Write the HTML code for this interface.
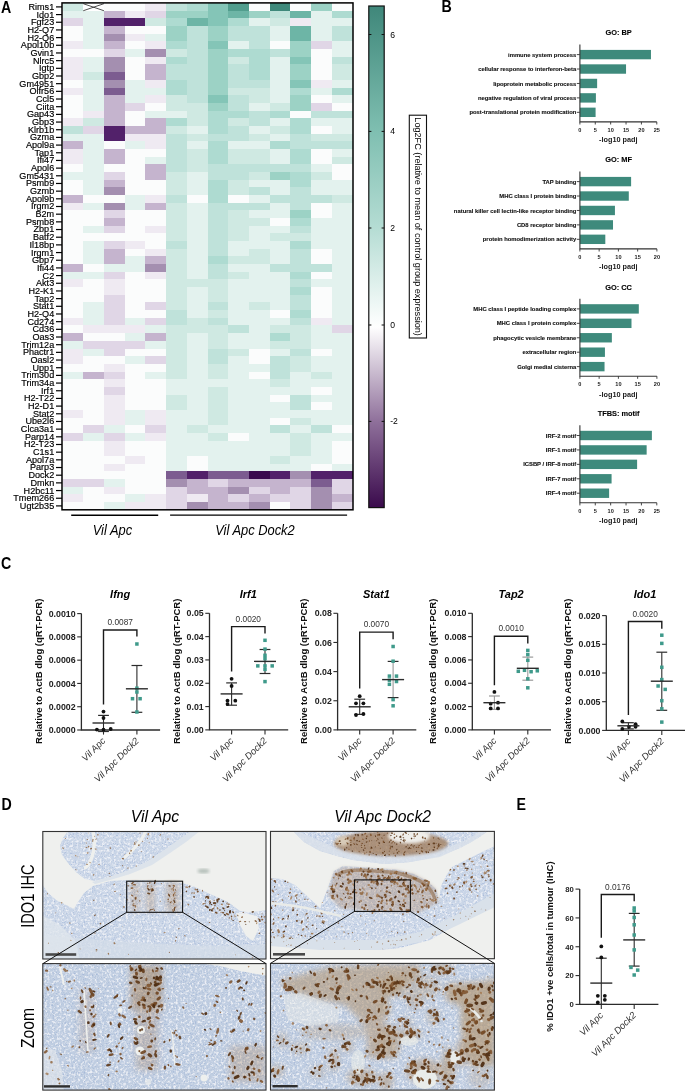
<!DOCTYPE html>
<html><head><meta charset="utf-8"><style>
html,body{margin:0;padding:0;background:#fff;}
svg{display:block;will-change:transform;}
text{font-family:"Liberation Sans", sans-serif;}
</style></head><body>
<svg width="685" height="1092" viewBox="0 0 685 1092" font-family='"Liberation Sans", sans-serif'>
<rect width="685" height="1092" fill="#fff"/>
<g shape-rendering="crispEdges">
<rect x="62.5" y="3.06" width="21.12" height="8.08" fill="#cfe9e2"/>
<rect x="83.22" y="3.06" width="21.12" height="8.08" fill="#ffffff"/>
<rect x="103.94" y="3.06" width="21.12" height="8.08" fill="#fbfcfc"/>
<rect x="124.66" y="3.06" width="21.12" height="8.08" fill="#fbfcfc"/>
<rect x="145.39" y="3.06" width="21.12" height="8.08" fill="#efeaf2"/>
<rect x="166.11" y="3.06" width="21.12" height="8.08" fill="#bfe2da"/>
<rect x="186.83" y="3.06" width="21.12" height="8.08" fill="#aedbd1"/>
<rect x="207.55" y="3.06" width="21.12" height="8.08" fill="#84c5b7"/>
<rect x="228.27" y="3.06" width="21.12" height="8.08" fill="#519d8d"/>
<rect x="248.99" y="3.06" width="21.12" height="8.08" fill="#fbfcfc"/>
<rect x="269.71" y="3.06" width="21.12" height="8.08" fill="#3f897b"/>
<rect x="290.44" y="3.06" width="21.12" height="8.08" fill="#fbfcfc"/>
<rect x="311.16" y="3.06" width="21.12" height="8.08" fill="#9cd2c5"/>
<rect x="331.88" y="3.06" width="21.12" height="8.08" fill="#fbfcfc"/>
<rect x="62.5" y="10.74" width="21.12" height="8.08" fill="#e3f2ee"/>
<rect x="83.22" y="10.74" width="21.12" height="8.08" fill="#e3f2ee"/>
<rect x="103.94" y="10.74" width="21.12" height="8.08" fill="#c5b4ce"/>
<rect x="124.66" y="10.74" width="21.12" height="8.08" fill="#efeaf2"/>
<rect x="145.39" y="10.74" width="21.12" height="8.08" fill="#e0d6e6"/>
<rect x="166.11" y="10.74" width="21.12" height="8.08" fill="#9cd2c5"/>
<rect x="186.83" y="10.74" width="21.12" height="8.08" fill="#9cd2c5"/>
<rect x="207.55" y="10.74" width="21.12" height="8.08" fill="#84c5b7"/>
<rect x="228.27" y="10.74" width="21.12" height="8.08" fill="#6db5a6"/>
<rect x="248.99" y="10.74" width="21.12" height="8.08" fill="#9cd2c5"/>
<rect x="269.71" y="10.74" width="21.12" height="8.08" fill="#bfe2da"/>
<rect x="290.44" y="10.74" width="21.12" height="8.08" fill="#6db5a6"/>
<rect x="311.16" y="10.74" width="21.12" height="8.08" fill="#e3f2ee"/>
<rect x="331.88" y="10.74" width="21.12" height="8.08" fill="#aedbd1"/>
<rect x="62.5" y="18.41" width="21.12" height="8.08" fill="#e0d6e6"/>
<rect x="83.22" y="18.41" width="21.12" height="8.08" fill="#e3f2ee"/>
<rect x="103.94" y="18.41" width="21.12" height="8.08" fill="#52216a"/>
<rect x="124.66" y="18.41" width="21.12" height="8.08" fill="#52216a"/>
<rect x="145.39" y="18.41" width="21.12" height="8.08" fill="#cfe9e2"/>
<rect x="166.11" y="18.41" width="21.12" height="8.08" fill="#aedbd1"/>
<rect x="186.83" y="18.41" width="21.12" height="8.08" fill="#6db5a6"/>
<rect x="207.55" y="18.41" width="21.12" height="8.08" fill="#84c5b7"/>
<rect x="228.27" y="18.41" width="21.12" height="8.08" fill="#aedbd1"/>
<rect x="248.99" y="18.41" width="21.12" height="8.08" fill="#e3f2ee"/>
<rect x="269.71" y="18.41" width="21.12" height="8.08" fill="#cfe9e2"/>
<rect x="290.44" y="18.41" width="21.12" height="8.08" fill="#efeaf2"/>
<rect x="311.16" y="18.41" width="21.12" height="8.08" fill="#e3f2ee"/>
<rect x="331.88" y="18.41" width="21.12" height="8.08" fill="#e3f2ee"/>
<rect x="62.5" y="26.09" width="21.12" height="8.08" fill="#fbfcfc"/>
<rect x="83.22" y="26.09" width="21.12" height="8.08" fill="#e3f2ee"/>
<rect x="103.94" y="26.09" width="21.12" height="8.08" fill="#c5b4ce"/>
<rect x="124.66" y="26.09" width="21.12" height="8.08" fill="#fbfcfc"/>
<rect x="145.39" y="26.09" width="21.12" height="8.08" fill="#fbfcfc"/>
<rect x="166.11" y="26.09" width="21.12" height="8.08" fill="#9cd2c5"/>
<rect x="186.83" y="26.09" width="21.12" height="8.08" fill="#bfe2da"/>
<rect x="207.55" y="26.09" width="21.12" height="8.08" fill="#9cd2c5"/>
<rect x="228.27" y="26.09" width="21.12" height="8.08" fill="#bfe2da"/>
<rect x="248.99" y="26.09" width="21.12" height="8.08" fill="#bfe2da"/>
<rect x="269.71" y="26.09" width="21.12" height="8.08" fill="#e3f2ee"/>
<rect x="290.44" y="26.09" width="21.12" height="8.08" fill="#6db5a6"/>
<rect x="311.16" y="26.09" width="21.12" height="8.08" fill="#e3f2ee"/>
<rect x="331.88" y="26.09" width="21.12" height="8.08" fill="#bfe2da"/>
<rect x="62.5" y="33.77" width="21.12" height="8.08" fill="#fbfcfc"/>
<rect x="83.22" y="33.77" width="21.12" height="8.08" fill="#e3f2ee"/>
<rect x="103.94" y="33.77" width="21.12" height="8.08" fill="#a48fb0"/>
<rect x="124.66" y="33.77" width="21.12" height="8.08" fill="#efeaf2"/>
<rect x="145.39" y="33.77" width="21.12" height="8.08" fill="#e3f2ee"/>
<rect x="166.11" y="33.77" width="21.12" height="8.08" fill="#9cd2c5"/>
<rect x="186.83" y="33.77" width="21.12" height="8.08" fill="#bfe2da"/>
<rect x="207.55" y="33.77" width="21.12" height="8.08" fill="#9cd2c5"/>
<rect x="228.27" y="33.77" width="21.12" height="8.08" fill="#bfe2da"/>
<rect x="248.99" y="33.77" width="21.12" height="8.08" fill="#bfe2da"/>
<rect x="269.71" y="33.77" width="21.12" height="8.08" fill="#e3f2ee"/>
<rect x="290.44" y="33.77" width="21.12" height="8.08" fill="#6db5a6"/>
<rect x="311.16" y="33.77" width="21.12" height="8.08" fill="#e3f2ee"/>
<rect x="331.88" y="33.77" width="21.12" height="8.08" fill="#bfe2da"/>
<rect x="62.5" y="41.45" width="21.12" height="8.08" fill="#efeaf2"/>
<rect x="83.22" y="41.45" width="21.12" height="8.08" fill="#e3f2ee"/>
<rect x="103.94" y="41.45" width="21.12" height="8.08" fill="#c5b4ce"/>
<rect x="124.66" y="41.45" width="21.12" height="8.08" fill="#fbfcfc"/>
<rect x="145.39" y="41.45" width="21.12" height="8.08" fill="#efeaf2"/>
<rect x="166.11" y="41.45" width="21.12" height="8.08" fill="#aedbd1"/>
<rect x="186.83" y="41.45" width="21.12" height="8.08" fill="#bfe2da"/>
<rect x="207.55" y="41.45" width="21.12" height="8.08" fill="#84c5b7"/>
<rect x="228.27" y="41.45" width="21.12" height="8.08" fill="#e3f2ee"/>
<rect x="248.99" y="41.45" width="21.12" height="8.08" fill="#bfe2da"/>
<rect x="269.71" y="41.45" width="21.12" height="8.08" fill="#fbfcfc"/>
<rect x="290.44" y="41.45" width="21.12" height="8.08" fill="#9cd2c5"/>
<rect x="311.16" y="41.45" width="21.12" height="8.08" fill="#e0d6e6"/>
<rect x="331.88" y="41.45" width="21.12" height="8.08" fill="#e3f2ee"/>
<rect x="62.5" y="49.12" width="21.12" height="8.08" fill="#fbfcfc"/>
<rect x="83.22" y="49.12" width="21.12" height="8.08" fill="#fbfcfc"/>
<rect x="103.94" y="49.12" width="21.12" height="8.08" fill="#e0d6e6"/>
<rect x="124.66" y="49.12" width="21.12" height="8.08" fill="#e3f2ee"/>
<rect x="145.39" y="49.12" width="21.12" height="8.08" fill="#a48fb0"/>
<rect x="166.11" y="49.12" width="21.12" height="8.08" fill="#cfe9e2"/>
<rect x="186.83" y="49.12" width="21.12" height="8.08" fill="#bfe2da"/>
<rect x="207.55" y="49.12" width="21.12" height="8.08" fill="#9cd2c5"/>
<rect x="228.27" y="49.12" width="21.12" height="8.08" fill="#aedbd1"/>
<rect x="248.99" y="49.12" width="21.12" height="8.08" fill="#aedbd1"/>
<rect x="269.71" y="49.12" width="21.12" height="8.08" fill="#bfe2da"/>
<rect x="290.44" y="49.12" width="21.12" height="8.08" fill="#9cd2c5"/>
<rect x="311.16" y="49.12" width="21.12" height="8.08" fill="#fbfcfc"/>
<rect x="331.88" y="49.12" width="21.12" height="8.08" fill="#e3f2ee"/>
<rect x="62.5" y="56.8" width="21.12" height="8.08" fill="#efeaf2"/>
<rect x="83.22" y="56.8" width="21.12" height="8.08" fill="#e3f2ee"/>
<rect x="103.94" y="56.8" width="21.12" height="8.08" fill="#a48fb0"/>
<rect x="124.66" y="56.8" width="21.12" height="8.08" fill="#fbfcfc"/>
<rect x="145.39" y="56.8" width="21.12" height="8.08" fill="#efeaf2"/>
<rect x="166.11" y="56.8" width="21.12" height="8.08" fill="#aedbd1"/>
<rect x="186.83" y="56.8" width="21.12" height="8.08" fill="#bfe2da"/>
<rect x="207.55" y="56.8" width="21.12" height="8.08" fill="#9cd2c5"/>
<rect x="228.27" y="56.8" width="21.12" height="8.08" fill="#cfe9e2"/>
<rect x="248.99" y="56.8" width="21.12" height="8.08" fill="#aedbd1"/>
<rect x="269.71" y="56.8" width="21.12" height="8.08" fill="#e3f2ee"/>
<rect x="290.44" y="56.8" width="21.12" height="8.08" fill="#84c5b7"/>
<rect x="311.16" y="56.8" width="21.12" height="8.08" fill="#fbfcfc"/>
<rect x="331.88" y="56.8" width="21.12" height="8.08" fill="#bfe2da"/>
<rect x="62.5" y="64.48" width="21.12" height="8.08" fill="#efeaf2"/>
<rect x="83.22" y="64.48" width="21.12" height="8.08" fill="#e3f2ee"/>
<rect x="103.94" y="64.48" width="21.12" height="8.08" fill="#a48fb0"/>
<rect x="124.66" y="64.48" width="21.12" height="8.08" fill="#fbfcfc"/>
<rect x="145.39" y="64.48" width="21.12" height="8.08" fill="#c5b4ce"/>
<rect x="166.11" y="64.48" width="21.12" height="8.08" fill="#bfe2da"/>
<rect x="186.83" y="64.48" width="21.12" height="8.08" fill="#bfe2da"/>
<rect x="207.55" y="64.48" width="21.12" height="8.08" fill="#9cd2c5"/>
<rect x="228.27" y="64.48" width="21.12" height="8.08" fill="#bfe2da"/>
<rect x="248.99" y="64.48" width="21.12" height="8.08" fill="#aedbd1"/>
<rect x="269.71" y="64.48" width="21.12" height="8.08" fill="#e3f2ee"/>
<rect x="290.44" y="64.48" width="21.12" height="8.08" fill="#9cd2c5"/>
<rect x="311.16" y="64.48" width="21.12" height="8.08" fill="#fbfcfc"/>
<rect x="331.88" y="64.48" width="21.12" height="8.08" fill="#cfe9e2"/>
<rect x="62.5" y="72.15" width="21.12" height="8.08" fill="#efeaf2"/>
<rect x="83.22" y="72.15" width="21.12" height="8.08" fill="#cfe9e2"/>
<rect x="103.94" y="72.15" width="21.12" height="8.08" fill="#7c5c90"/>
<rect x="124.66" y="72.15" width="21.12" height="8.08" fill="#fbfcfc"/>
<rect x="145.39" y="72.15" width="21.12" height="8.08" fill="#c5b4ce"/>
<rect x="166.11" y="72.15" width="21.12" height="8.08" fill="#bfe2da"/>
<rect x="186.83" y="72.15" width="21.12" height="8.08" fill="#bfe2da"/>
<rect x="207.55" y="72.15" width="21.12" height="8.08" fill="#9cd2c5"/>
<rect x="228.27" y="72.15" width="21.12" height="8.08" fill="#bfe2da"/>
<rect x="248.99" y="72.15" width="21.12" height="8.08" fill="#aedbd1"/>
<rect x="269.71" y="72.15" width="21.12" height="8.08" fill="#e3f2ee"/>
<rect x="290.44" y="72.15" width="21.12" height="8.08" fill="#9cd2c5"/>
<rect x="311.16" y="72.15" width="21.12" height="8.08" fill="#fbfcfc"/>
<rect x="331.88" y="72.15" width="21.12" height="8.08" fill="#cfe9e2"/>
<rect x="62.5" y="79.83" width="21.12" height="8.08" fill="#fbfcfc"/>
<rect x="83.22" y="79.83" width="21.12" height="8.08" fill="#e3f2ee"/>
<rect x="103.94" y="79.83" width="21.12" height="8.08" fill="#a48fb0"/>
<rect x="124.66" y="79.83" width="21.12" height="8.08" fill="#e3f2ee"/>
<rect x="145.39" y="79.83" width="21.12" height="8.08" fill="#efeaf2"/>
<rect x="166.11" y="79.83" width="21.12" height="8.08" fill="#aedbd1"/>
<rect x="186.83" y="79.83" width="21.12" height="8.08" fill="#bfe2da"/>
<rect x="207.55" y="79.83" width="21.12" height="8.08" fill="#9cd2c5"/>
<rect x="228.27" y="79.83" width="21.12" height="8.08" fill="#bfe2da"/>
<rect x="248.99" y="79.83" width="21.12" height="8.08" fill="#bfe2da"/>
<rect x="269.71" y="79.83" width="21.12" height="8.08" fill="#e3f2ee"/>
<rect x="290.44" y="79.83" width="21.12" height="8.08" fill="#84c5b7"/>
<rect x="311.16" y="79.83" width="21.12" height="8.08" fill="#efeaf2"/>
<rect x="331.88" y="79.83" width="21.12" height="8.08" fill="#e3f2ee"/>
<rect x="62.5" y="87.51" width="21.12" height="8.08" fill="#efeaf2"/>
<rect x="83.22" y="87.51" width="21.12" height="8.08" fill="#e3f2ee"/>
<rect x="103.94" y="87.51" width="21.12" height="8.08" fill="#7c5c90"/>
<rect x="124.66" y="87.51" width="21.12" height="8.08" fill="#e3f2ee"/>
<rect x="145.39" y="87.51" width="21.12" height="8.08" fill="#e3f2ee"/>
<rect x="166.11" y="87.51" width="21.12" height="8.08" fill="#aedbd1"/>
<rect x="186.83" y="87.51" width="21.12" height="8.08" fill="#bfe2da"/>
<rect x="207.55" y="87.51" width="21.12" height="8.08" fill="#9cd2c5"/>
<rect x="228.27" y="87.51" width="21.12" height="8.08" fill="#cfe9e2"/>
<rect x="248.99" y="87.51" width="21.12" height="8.08" fill="#cfe9e2"/>
<rect x="269.71" y="87.51" width="21.12" height="8.08" fill="#e3f2ee"/>
<rect x="290.44" y="87.51" width="21.12" height="8.08" fill="#aedbd1"/>
<rect x="311.16" y="87.51" width="21.12" height="8.08" fill="#e3f2ee"/>
<rect x="331.88" y="87.51" width="21.12" height="8.08" fill="#aedbd1"/>
<rect x="62.5" y="95.18" width="21.12" height="8.08" fill="#fbfcfc"/>
<rect x="83.22" y="95.18" width="21.12" height="8.08" fill="#e3f2ee"/>
<rect x="103.94" y="95.18" width="21.12" height="8.08" fill="#c5b4ce"/>
<rect x="124.66" y="95.18" width="21.12" height="8.08" fill="#e3f2ee"/>
<rect x="145.39" y="95.18" width="21.12" height="8.08" fill="#efeaf2"/>
<rect x="166.11" y="95.18" width="21.12" height="8.08" fill="#cfe9e2"/>
<rect x="186.83" y="95.18" width="21.12" height="8.08" fill="#bfe2da"/>
<rect x="207.55" y="95.18" width="21.12" height="8.08" fill="#84c5b7"/>
<rect x="228.27" y="95.18" width="21.12" height="8.08" fill="#bfe2da"/>
<rect x="248.99" y="95.18" width="21.12" height="8.08" fill="#cfe9e2"/>
<rect x="269.71" y="95.18" width="21.12" height="8.08" fill="#e3f2ee"/>
<rect x="290.44" y="95.18" width="21.12" height="8.08" fill="#9cd2c5"/>
<rect x="311.16" y="95.18" width="21.12" height="8.08" fill="#fbfcfc"/>
<rect x="331.88" y="95.18" width="21.12" height="8.08" fill="#e3f2ee"/>
<rect x="62.5" y="102.86" width="21.12" height="8.08" fill="#fbfcfc"/>
<rect x="83.22" y="102.86" width="21.12" height="8.08" fill="#e3f2ee"/>
<rect x="103.94" y="102.86" width="21.12" height="8.08" fill="#c5b4ce"/>
<rect x="124.66" y="102.86" width="21.12" height="8.08" fill="#e0d6e6"/>
<rect x="145.39" y="102.86" width="21.12" height="8.08" fill="#fbfcfc"/>
<rect x="166.11" y="102.86" width="21.12" height="8.08" fill="#cfe9e2"/>
<rect x="186.83" y="102.86" width="21.12" height="8.08" fill="#cfe9e2"/>
<rect x="207.55" y="102.86" width="21.12" height="8.08" fill="#9cd2c5"/>
<rect x="228.27" y="102.86" width="21.12" height="8.08" fill="#bfe2da"/>
<rect x="248.99" y="102.86" width="21.12" height="8.08" fill="#e3f2ee"/>
<rect x="269.71" y="102.86" width="21.12" height="8.08" fill="#cfe9e2"/>
<rect x="290.44" y="102.86" width="21.12" height="8.08" fill="#9cd2c5"/>
<rect x="311.16" y="102.86" width="21.12" height="8.08" fill="#e0d6e6"/>
<rect x="331.88" y="102.86" width="21.12" height="8.08" fill="#fbfcfc"/>
<rect x="62.5" y="110.54" width="21.12" height="8.08" fill="#fbfcfc"/>
<rect x="83.22" y="110.54" width="21.12" height="8.08" fill="#efeaf2"/>
<rect x="103.94" y="110.54" width="21.12" height="8.08" fill="#c5b4ce"/>
<rect x="124.66" y="110.54" width="21.12" height="8.08" fill="#fbfcfc"/>
<rect x="145.39" y="110.54" width="21.12" height="8.08" fill="#e3f2ee"/>
<rect x="166.11" y="110.54" width="21.12" height="8.08" fill="#e3f2ee"/>
<rect x="186.83" y="110.54" width="21.12" height="8.08" fill="#cfe9e2"/>
<rect x="207.55" y="110.54" width="21.12" height="8.08" fill="#aedbd1"/>
<rect x="228.27" y="110.54" width="21.12" height="8.08" fill="#aedbd1"/>
<rect x="248.99" y="110.54" width="21.12" height="8.08" fill="#bfe2da"/>
<rect x="269.71" y="110.54" width="21.12" height="8.08" fill="#aedbd1"/>
<rect x="290.44" y="110.54" width="21.12" height="8.08" fill="#fbfcfc"/>
<rect x="311.16" y="110.54" width="21.12" height="8.08" fill="#bfe2da"/>
<rect x="331.88" y="110.54" width="21.12" height="8.08" fill="#bfe2da"/>
<rect x="62.5" y="118.22" width="21.12" height="8.08" fill="#efeaf2"/>
<rect x="83.22" y="118.22" width="21.12" height="8.08" fill="#cfe9e2"/>
<rect x="103.94" y="118.22" width="21.12" height="8.08" fill="#c5b4ce"/>
<rect x="124.66" y="118.22" width="21.12" height="8.08" fill="#fbfcfc"/>
<rect x="145.39" y="118.22" width="21.12" height="8.08" fill="#c5b4ce"/>
<rect x="166.11" y="118.22" width="21.12" height="8.08" fill="#aedbd1"/>
<rect x="186.83" y="118.22" width="21.12" height="8.08" fill="#cfe9e2"/>
<rect x="207.55" y="118.22" width="21.12" height="8.08" fill="#aedbd1"/>
<rect x="228.27" y="118.22" width="21.12" height="8.08" fill="#cfe9e2"/>
<rect x="248.99" y="118.22" width="21.12" height="8.08" fill="#bfe2da"/>
<rect x="269.71" y="118.22" width="21.12" height="8.08" fill="#e3f2ee"/>
<rect x="290.44" y="118.22" width="21.12" height="8.08" fill="#aedbd1"/>
<rect x="311.16" y="118.22" width="21.12" height="8.08" fill="#e3f2ee"/>
<rect x="331.88" y="118.22" width="21.12" height="8.08" fill="#e3f2ee"/>
<rect x="62.5" y="125.89" width="21.12" height="8.08" fill="#bfe2da"/>
<rect x="83.22" y="125.89" width="21.12" height="8.08" fill="#e0d6e6"/>
<rect x="103.94" y="125.89" width="21.12" height="8.08" fill="#52216a"/>
<rect x="124.66" y="125.89" width="21.12" height="8.08" fill="#c5b4ce"/>
<rect x="145.39" y="125.89" width="21.12" height="8.08" fill="#c5b4ce"/>
<rect x="166.11" y="125.89" width="21.12" height="8.08" fill="#cfe9e2"/>
<rect x="186.83" y="125.89" width="21.12" height="8.08" fill="#e3f2ee"/>
<rect x="207.55" y="125.89" width="21.12" height="8.08" fill="#aedbd1"/>
<rect x="228.27" y="125.89" width="21.12" height="8.08" fill="#bfe2da"/>
<rect x="248.99" y="125.89" width="21.12" height="8.08" fill="#e3f2ee"/>
<rect x="269.71" y="125.89" width="21.12" height="8.08" fill="#cfe9e2"/>
<rect x="290.44" y="125.89" width="21.12" height="8.08" fill="#aedbd1"/>
<rect x="311.16" y="125.89" width="21.12" height="8.08" fill="#fbfcfc"/>
<rect x="331.88" y="125.89" width="21.12" height="8.08" fill="#e3f2ee"/>
<rect x="62.5" y="133.57" width="21.12" height="8.08" fill="#e3f2ee"/>
<rect x="83.22" y="133.57" width="21.12" height="8.08" fill="#e3f2ee"/>
<rect x="103.94" y="133.57" width="21.12" height="8.08" fill="#52216a"/>
<rect x="124.66" y="133.57" width="21.12" height="8.08" fill="#efeaf2"/>
<rect x="145.39" y="133.57" width="21.12" height="8.08" fill="#efeaf2"/>
<rect x="166.11" y="133.57" width="21.12" height="8.08" fill="#bfe2da"/>
<rect x="186.83" y="133.57" width="21.12" height="8.08" fill="#cfe9e2"/>
<rect x="207.55" y="133.57" width="21.12" height="8.08" fill="#bfe2da"/>
<rect x="228.27" y="133.57" width="21.12" height="8.08" fill="#bfe2da"/>
<rect x="248.99" y="133.57" width="21.12" height="8.08" fill="#cfe9e2"/>
<rect x="269.71" y="133.57" width="21.12" height="8.08" fill="#e3f2ee"/>
<rect x="290.44" y="133.57" width="21.12" height="8.08" fill="#bfe2da"/>
<rect x="311.16" y="133.57" width="21.12" height="8.08" fill="#cfe9e2"/>
<rect x="331.88" y="133.57" width="21.12" height="8.08" fill="#cfe9e2"/>
<rect x="62.5" y="141.25" width="21.12" height="8.08" fill="#c5b4ce"/>
<rect x="83.22" y="141.25" width="21.12" height="8.08" fill="#e3f2ee"/>
<rect x="103.94" y="141.25" width="21.12" height="8.08" fill="#fbfcfc"/>
<rect x="124.66" y="141.25" width="21.12" height="8.08" fill="#e3f2ee"/>
<rect x="145.39" y="141.25" width="21.12" height="8.08" fill="#efeaf2"/>
<rect x="166.11" y="141.25" width="21.12" height="8.08" fill="#bfe2da"/>
<rect x="186.83" y="141.25" width="21.12" height="8.08" fill="#e3f2ee"/>
<rect x="207.55" y="141.25" width="21.12" height="8.08" fill="#aedbd1"/>
<rect x="228.27" y="141.25" width="21.12" height="8.08" fill="#e3f2ee"/>
<rect x="248.99" y="141.25" width="21.12" height="8.08" fill="#e3f2ee"/>
<rect x="269.71" y="141.25" width="21.12" height="8.08" fill="#aedbd1"/>
<rect x="290.44" y="141.25" width="21.12" height="8.08" fill="#bfe2da"/>
<rect x="311.16" y="141.25" width="21.12" height="8.08" fill="#bfe2da"/>
<rect x="331.88" y="141.25" width="21.12" height="8.08" fill="#bfe2da"/>
<rect x="62.5" y="148.92" width="21.12" height="8.08" fill="#efeaf2"/>
<rect x="83.22" y="148.92" width="21.12" height="8.08" fill="#e3f2ee"/>
<rect x="103.94" y="148.92" width="21.12" height="8.08" fill="#c5b4ce"/>
<rect x="124.66" y="148.92" width="21.12" height="8.08" fill="#fbfcfc"/>
<rect x="145.39" y="148.92" width="21.12" height="8.08" fill="#fbfcfc"/>
<rect x="166.11" y="148.92" width="21.12" height="8.08" fill="#bfe2da"/>
<rect x="186.83" y="148.92" width="21.12" height="8.08" fill="#cfe9e2"/>
<rect x="207.55" y="148.92" width="21.12" height="8.08" fill="#aedbd1"/>
<rect x="228.27" y="148.92" width="21.12" height="8.08" fill="#cfe9e2"/>
<rect x="248.99" y="148.92" width="21.12" height="8.08" fill="#cfe9e2"/>
<rect x="269.71" y="148.92" width="21.12" height="8.08" fill="#e3f2ee"/>
<rect x="290.44" y="148.92" width="21.12" height="8.08" fill="#aedbd1"/>
<rect x="311.16" y="148.92" width="21.12" height="8.08" fill="#fbfcfc"/>
<rect x="331.88" y="148.92" width="21.12" height="8.08" fill="#e3f2ee"/>
<rect x="62.5" y="156.6" width="21.12" height="8.08" fill="#efeaf2"/>
<rect x="83.22" y="156.6" width="21.12" height="8.08" fill="#e3f2ee"/>
<rect x="103.94" y="156.6" width="21.12" height="8.08" fill="#c5b4ce"/>
<rect x="124.66" y="156.6" width="21.12" height="8.08" fill="#fbfcfc"/>
<rect x="145.39" y="156.6" width="21.12" height="8.08" fill="#e3f2ee"/>
<rect x="166.11" y="156.6" width="21.12" height="8.08" fill="#bfe2da"/>
<rect x="186.83" y="156.6" width="21.12" height="8.08" fill="#cfe9e2"/>
<rect x="207.55" y="156.6" width="21.12" height="8.08" fill="#aedbd1"/>
<rect x="228.27" y="156.6" width="21.12" height="8.08" fill="#cfe9e2"/>
<rect x="248.99" y="156.6" width="21.12" height="8.08" fill="#cfe9e2"/>
<rect x="269.71" y="156.6" width="21.12" height="8.08" fill="#e3f2ee"/>
<rect x="290.44" y="156.6" width="21.12" height="8.08" fill="#aedbd1"/>
<rect x="311.16" y="156.6" width="21.12" height="8.08" fill="#fbfcfc"/>
<rect x="331.88" y="156.6" width="21.12" height="8.08" fill="#cfe9e2"/>
<rect x="62.5" y="164.28" width="21.12" height="8.08" fill="#fbfcfc"/>
<rect x="83.22" y="164.28" width="21.12" height="8.08" fill="#e3f2ee"/>
<rect x="103.94" y="164.28" width="21.12" height="8.08" fill="#fbfcfc"/>
<rect x="124.66" y="164.28" width="21.12" height="8.08" fill="#fbfcfc"/>
<rect x="145.39" y="164.28" width="21.12" height="8.08" fill="#c5b4ce"/>
<rect x="166.11" y="164.28" width="21.12" height="8.08" fill="#bfe2da"/>
<rect x="186.83" y="164.28" width="21.12" height="8.08" fill="#cfe9e2"/>
<rect x="207.55" y="164.28" width="21.12" height="8.08" fill="#bfe2da"/>
<rect x="228.27" y="164.28" width="21.12" height="8.08" fill="#bfe2da"/>
<rect x="248.99" y="164.28" width="21.12" height="8.08" fill="#bfe2da"/>
<rect x="269.71" y="164.28" width="21.12" height="8.08" fill="#bfe2da"/>
<rect x="290.44" y="164.28" width="21.12" height="8.08" fill="#bfe2da"/>
<rect x="311.16" y="164.28" width="21.12" height="8.08" fill="#e3f2ee"/>
<rect x="331.88" y="164.28" width="21.12" height="8.08" fill="#fbfcfc"/>
<rect x="62.5" y="171.95" width="21.12" height="8.08" fill="#e3f2ee"/>
<rect x="83.22" y="171.95" width="21.12" height="8.08" fill="#e3f2ee"/>
<rect x="103.94" y="171.95" width="21.12" height="8.08" fill="#e0d6e6"/>
<rect x="124.66" y="171.95" width="21.12" height="8.08" fill="#fbfcfc"/>
<rect x="145.39" y="171.95" width="21.12" height="8.08" fill="#c5b4ce"/>
<rect x="166.11" y="171.95" width="21.12" height="8.08" fill="#cfe9e2"/>
<rect x="186.83" y="171.95" width="21.12" height="8.08" fill="#e3f2ee"/>
<rect x="207.55" y="171.95" width="21.12" height="8.08" fill="#bfe2da"/>
<rect x="228.27" y="171.95" width="21.12" height="8.08" fill="#bfe2da"/>
<rect x="248.99" y="171.95" width="21.12" height="8.08" fill="#cfe9e2"/>
<rect x="269.71" y="171.95" width="21.12" height="8.08" fill="#9cd2c5"/>
<rect x="290.44" y="171.95" width="21.12" height="8.08" fill="#aedbd1"/>
<rect x="311.16" y="171.95" width="21.12" height="8.08" fill="#cfe9e2"/>
<rect x="331.88" y="171.95" width="21.12" height="8.08" fill="#fbfcfc"/>
<rect x="62.5" y="179.63" width="21.12" height="8.08" fill="#fbfcfc"/>
<rect x="83.22" y="179.63" width="21.12" height="8.08" fill="#e3f2ee"/>
<rect x="103.94" y="179.63" width="21.12" height="8.08" fill="#c5b4ce"/>
<rect x="124.66" y="179.63" width="21.12" height="8.08" fill="#fbfcfc"/>
<rect x="145.39" y="179.63" width="21.12" height="8.08" fill="#fbfcfc"/>
<rect x="166.11" y="179.63" width="21.12" height="8.08" fill="#cfe9e2"/>
<rect x="186.83" y="179.63" width="21.12" height="8.08" fill="#e3f2ee"/>
<rect x="207.55" y="179.63" width="21.12" height="8.08" fill="#aedbd1"/>
<rect x="228.27" y="179.63" width="21.12" height="8.08" fill="#cfe9e2"/>
<rect x="248.99" y="179.63" width="21.12" height="8.08" fill="#e3f2ee"/>
<rect x="269.71" y="179.63" width="21.12" height="8.08" fill="#e3f2ee"/>
<rect x="290.44" y="179.63" width="21.12" height="8.08" fill="#aedbd1"/>
<rect x="311.16" y="179.63" width="21.12" height="8.08" fill="#e3f2ee"/>
<rect x="331.88" y="179.63" width="21.12" height="8.08" fill="#e3f2ee"/>
<rect x="62.5" y="187.31" width="21.12" height="8.08" fill="#fbfcfc"/>
<rect x="83.22" y="187.31" width="21.12" height="8.08" fill="#e3f2ee"/>
<rect x="103.94" y="187.31" width="21.12" height="8.08" fill="#a48fb0"/>
<rect x="124.66" y="187.31" width="21.12" height="8.08" fill="#fbfcfc"/>
<rect x="145.39" y="187.31" width="21.12" height="8.08" fill="#fbfcfc"/>
<rect x="166.11" y="187.31" width="21.12" height="8.08" fill="#cfe9e2"/>
<rect x="186.83" y="187.31" width="21.12" height="8.08" fill="#e3f2ee"/>
<rect x="207.55" y="187.31" width="21.12" height="8.08" fill="#aedbd1"/>
<rect x="228.27" y="187.31" width="21.12" height="8.08" fill="#cfe9e2"/>
<rect x="248.99" y="187.31" width="21.12" height="8.08" fill="#bfe2da"/>
<rect x="269.71" y="187.31" width="21.12" height="8.08" fill="#e3f2ee"/>
<rect x="290.44" y="187.31" width="21.12" height="8.08" fill="#bfe2da"/>
<rect x="311.16" y="187.31" width="21.12" height="8.08" fill="#e3f2ee"/>
<rect x="331.88" y="187.31" width="21.12" height="8.08" fill="#e3f2ee"/>
<rect x="62.5" y="194.98" width="21.12" height="8.08" fill="#c5b4ce"/>
<rect x="83.22" y="194.98" width="21.12" height="8.08" fill="#fbfcfc"/>
<rect x="103.94" y="194.98" width="21.12" height="8.08" fill="#fbfcfc"/>
<rect x="124.66" y="194.98" width="21.12" height="8.08" fill="#e3f2ee"/>
<rect x="145.39" y="194.98" width="21.12" height="8.08" fill="#efeaf2"/>
<rect x="166.11" y="194.98" width="21.12" height="8.08" fill="#bfe2da"/>
<rect x="186.83" y="194.98" width="21.12" height="8.08" fill="#fbfcfc"/>
<rect x="207.55" y="194.98" width="21.12" height="8.08" fill="#aedbd1"/>
<rect x="228.27" y="194.98" width="21.12" height="8.08" fill="#fbfcfc"/>
<rect x="248.99" y="194.98" width="21.12" height="8.08" fill="#e3f2ee"/>
<rect x="269.71" y="194.98" width="21.12" height="8.08" fill="#bfe2da"/>
<rect x="290.44" y="194.98" width="21.12" height="8.08" fill="#bfe2da"/>
<rect x="311.16" y="194.98" width="21.12" height="8.08" fill="#bfe2da"/>
<rect x="331.88" y="194.98" width="21.12" height="8.08" fill="#cfe9e2"/>
<rect x="62.5" y="202.66" width="21.12" height="8.08" fill="#efeaf2"/>
<rect x="83.22" y="202.66" width="21.12" height="8.08" fill="#e3f2ee"/>
<rect x="103.94" y="202.66" width="21.12" height="8.08" fill="#a48fb0"/>
<rect x="124.66" y="202.66" width="21.12" height="8.08" fill="#e3f2ee"/>
<rect x="145.39" y="202.66" width="21.12" height="8.08" fill="#c5b4ce"/>
<rect x="166.11" y="202.66" width="21.12" height="8.08" fill="#cfe9e2"/>
<rect x="186.83" y="202.66" width="21.12" height="8.08" fill="#e3f2ee"/>
<rect x="207.55" y="202.66" width="21.12" height="8.08" fill="#bfe2da"/>
<rect x="228.27" y="202.66" width="21.12" height="8.08" fill="#bfe2da"/>
<rect x="248.99" y="202.66" width="21.12" height="8.08" fill="#bfe2da"/>
<rect x="269.71" y="202.66" width="21.12" height="8.08" fill="#e3f2ee"/>
<rect x="290.44" y="202.66" width="21.12" height="8.08" fill="#bfe2da"/>
<rect x="311.16" y="202.66" width="21.12" height="8.08" fill="#fbfcfc"/>
<rect x="331.88" y="202.66" width="21.12" height="8.08" fill="#e3f2ee"/>
<rect x="62.5" y="210.34" width="21.12" height="8.08" fill="#fbfcfc"/>
<rect x="83.22" y="210.34" width="21.12" height="8.08" fill="#fbfcfc"/>
<rect x="103.94" y="210.34" width="21.12" height="8.08" fill="#e0d6e6"/>
<rect x="124.66" y="210.34" width="21.12" height="8.08" fill="#fbfcfc"/>
<rect x="145.39" y="210.34" width="21.12" height="8.08" fill="#fbfcfc"/>
<rect x="166.11" y="210.34" width="21.12" height="8.08" fill="#cfe9e2"/>
<rect x="186.83" y="210.34" width="21.12" height="8.08" fill="#e3f2ee"/>
<rect x="207.55" y="210.34" width="21.12" height="8.08" fill="#bfe2da"/>
<rect x="228.27" y="210.34" width="21.12" height="8.08" fill="#cfe9e2"/>
<rect x="248.99" y="210.34" width="21.12" height="8.08" fill="#e3f2ee"/>
<rect x="269.71" y="210.34" width="21.12" height="8.08" fill="#e3f2ee"/>
<rect x="290.44" y="210.34" width="21.12" height="8.08" fill="#9cd2c5"/>
<rect x="311.16" y="210.34" width="21.12" height="8.08" fill="#fbfcfc"/>
<rect x="331.88" y="210.34" width="21.12" height="8.08" fill="#e3f2ee"/>
<rect x="62.5" y="218.02" width="21.12" height="8.08" fill="#fbfcfc"/>
<rect x="83.22" y="218.02" width="21.12" height="8.08" fill="#fbfcfc"/>
<rect x="103.94" y="218.02" width="21.12" height="8.08" fill="#c5b4ce"/>
<rect x="124.66" y="218.02" width="21.12" height="8.08" fill="#fbfcfc"/>
<rect x="145.39" y="218.02" width="21.12" height="8.08" fill="#fbfcfc"/>
<rect x="166.11" y="218.02" width="21.12" height="8.08" fill="#cfe9e2"/>
<rect x="186.83" y="218.02" width="21.12" height="8.08" fill="#e3f2ee"/>
<rect x="207.55" y="218.02" width="21.12" height="8.08" fill="#bfe2da"/>
<rect x="228.27" y="218.02" width="21.12" height="8.08" fill="#cfe9e2"/>
<rect x="248.99" y="218.02" width="21.12" height="8.08" fill="#cfe9e2"/>
<rect x="269.71" y="218.02" width="21.12" height="8.08" fill="#fbfcfc"/>
<rect x="290.44" y="218.02" width="21.12" height="8.08" fill="#aedbd1"/>
<rect x="311.16" y="218.02" width="21.12" height="8.08" fill="#e3f2ee"/>
<rect x="331.88" y="218.02" width="21.12" height="8.08" fill="#e3f2ee"/>
<rect x="62.5" y="225.69" width="21.12" height="8.08" fill="#fbfcfc"/>
<rect x="83.22" y="225.69" width="21.12" height="8.08" fill="#e3f2ee"/>
<rect x="103.94" y="225.69" width="21.12" height="8.08" fill="#e0d6e6"/>
<rect x="124.66" y="225.69" width="21.12" height="8.08" fill="#fbfcfc"/>
<rect x="145.39" y="225.69" width="21.12" height="8.08" fill="#efeaf2"/>
<rect x="166.11" y="225.69" width="21.12" height="8.08" fill="#cfe9e2"/>
<rect x="186.83" y="225.69" width="21.12" height="8.08" fill="#e3f2ee"/>
<rect x="207.55" y="225.69" width="21.12" height="8.08" fill="#bfe2da"/>
<rect x="228.27" y="225.69" width="21.12" height="8.08" fill="#cfe9e2"/>
<rect x="248.99" y="225.69" width="21.12" height="8.08" fill="#e3f2ee"/>
<rect x="269.71" y="225.69" width="21.12" height="8.08" fill="#e3f2ee"/>
<rect x="290.44" y="225.69" width="21.12" height="8.08" fill="#bfe2da"/>
<rect x="311.16" y="225.69" width="21.12" height="8.08" fill="#e3f2ee"/>
<rect x="331.88" y="225.69" width="21.12" height="8.08" fill="#e3f2ee"/>
<rect x="62.5" y="233.37" width="21.12" height="8.08" fill="#fbfcfc"/>
<rect x="83.22" y="233.37" width="21.12" height="8.08" fill="#fbfcfc"/>
<rect x="103.94" y="233.37" width="21.12" height="8.08" fill="#fbfcfc"/>
<rect x="124.66" y="233.37" width="21.12" height="8.08" fill="#fbfcfc"/>
<rect x="145.39" y="233.37" width="21.12" height="8.08" fill="#fbfcfc"/>
<rect x="166.11" y="233.37" width="21.12" height="8.08" fill="#cfe9e2"/>
<rect x="186.83" y="233.37" width="21.12" height="8.08" fill="#e3f2ee"/>
<rect x="207.55" y="233.37" width="21.12" height="8.08" fill="#bfe2da"/>
<rect x="228.27" y="233.37" width="21.12" height="8.08" fill="#cfe9e2"/>
<rect x="248.99" y="233.37" width="21.12" height="8.08" fill="#e3f2ee"/>
<rect x="269.71" y="233.37" width="21.12" height="8.08" fill="#cfe9e2"/>
<rect x="290.44" y="233.37" width="21.12" height="8.08" fill="#cfe9e2"/>
<rect x="311.16" y="233.37" width="21.12" height="8.08" fill="#e3f2ee"/>
<rect x="331.88" y="233.37" width="21.12" height="8.08" fill="#e3f2ee"/>
<rect x="62.5" y="241.05" width="21.12" height="8.08" fill="#fbfcfc"/>
<rect x="83.22" y="241.05" width="21.12" height="8.08" fill="#e3f2ee"/>
<rect x="103.94" y="241.05" width="21.12" height="8.08" fill="#e0d6e6"/>
<rect x="124.66" y="241.05" width="21.12" height="8.08" fill="#efeaf2"/>
<rect x="145.39" y="241.05" width="21.12" height="8.08" fill="#fbfcfc"/>
<rect x="166.11" y="241.05" width="21.12" height="8.08" fill="#bfe2da"/>
<rect x="186.83" y="241.05" width="21.12" height="8.08" fill="#e3f2ee"/>
<rect x="207.55" y="241.05" width="21.12" height="8.08" fill="#bfe2da"/>
<rect x="228.27" y="241.05" width="21.12" height="8.08" fill="#e3f2ee"/>
<rect x="248.99" y="241.05" width="21.12" height="8.08" fill="#e3f2ee"/>
<rect x="269.71" y="241.05" width="21.12" height="8.08" fill="#e3f2ee"/>
<rect x="290.44" y="241.05" width="21.12" height="8.08" fill="#aedbd1"/>
<rect x="311.16" y="241.05" width="21.12" height="8.08" fill="#e3f2ee"/>
<rect x="331.88" y="241.05" width="21.12" height="8.08" fill="#e3f2ee"/>
<rect x="62.5" y="248.72" width="21.12" height="8.08" fill="#fbfcfc"/>
<rect x="83.22" y="248.72" width="21.12" height="8.08" fill="#e3f2ee"/>
<rect x="103.94" y="248.72" width="21.12" height="8.08" fill="#c5b4ce"/>
<rect x="124.66" y="248.72" width="21.12" height="8.08" fill="#fbfcfc"/>
<rect x="145.39" y="248.72" width="21.12" height="8.08" fill="#efeaf2"/>
<rect x="166.11" y="248.72" width="21.12" height="8.08" fill="#cfe9e2"/>
<rect x="186.83" y="248.72" width="21.12" height="8.08" fill="#e3f2ee"/>
<rect x="207.55" y="248.72" width="21.12" height="8.08" fill="#bfe2da"/>
<rect x="228.27" y="248.72" width="21.12" height="8.08" fill="#e3f2ee"/>
<rect x="248.99" y="248.72" width="21.12" height="8.08" fill="#cfe9e2"/>
<rect x="269.71" y="248.72" width="21.12" height="8.08" fill="#e3f2ee"/>
<rect x="290.44" y="248.72" width="21.12" height="8.08" fill="#bfe2da"/>
<rect x="311.16" y="248.72" width="21.12" height="8.08" fill="#fbfcfc"/>
<rect x="331.88" y="248.72" width="21.12" height="8.08" fill="#e3f2ee"/>
<rect x="62.5" y="256.4" width="21.12" height="8.08" fill="#fbfcfc"/>
<rect x="83.22" y="256.4" width="21.12" height="8.08" fill="#e3f2ee"/>
<rect x="103.94" y="256.4" width="21.12" height="8.08" fill="#c5b4ce"/>
<rect x="124.66" y="256.4" width="21.12" height="8.08" fill="#e3f2ee"/>
<rect x="145.39" y="256.4" width="21.12" height="8.08" fill="#c5b4ce"/>
<rect x="166.11" y="256.4" width="21.12" height="8.08" fill="#cfe9e2"/>
<rect x="186.83" y="256.4" width="21.12" height="8.08" fill="#e3f2ee"/>
<rect x="207.55" y="256.4" width="21.12" height="8.08" fill="#aedbd1"/>
<rect x="228.27" y="256.4" width="21.12" height="8.08" fill="#cfe9e2"/>
<rect x="248.99" y="256.4" width="21.12" height="8.08" fill="#cfe9e2"/>
<rect x="269.71" y="256.4" width="21.12" height="8.08" fill="#e3f2ee"/>
<rect x="290.44" y="256.4" width="21.12" height="8.08" fill="#bfe2da"/>
<rect x="311.16" y="256.4" width="21.12" height="8.08" fill="#fbfcfc"/>
<rect x="331.88" y="256.4" width="21.12" height="8.08" fill="#e3f2ee"/>
<rect x="62.5" y="264.08" width="21.12" height="8.08" fill="#c5b4ce"/>
<rect x="83.22" y="264.08" width="21.12" height="8.08" fill="#fbfcfc"/>
<rect x="103.94" y="264.08" width="21.12" height="8.08" fill="#e3f2ee"/>
<rect x="124.66" y="264.08" width="21.12" height="8.08" fill="#e3f2ee"/>
<rect x="145.39" y="264.08" width="21.12" height="8.08" fill="#a48fb0"/>
<rect x="166.11" y="264.08" width="21.12" height="8.08" fill="#cfe9e2"/>
<rect x="186.83" y="264.08" width="21.12" height="8.08" fill="#e3f2ee"/>
<rect x="207.55" y="264.08" width="21.12" height="8.08" fill="#bfe2da"/>
<rect x="228.27" y="264.08" width="21.12" height="8.08" fill="#e3f2ee"/>
<rect x="248.99" y="264.08" width="21.12" height="8.08" fill="#e3f2ee"/>
<rect x="269.71" y="264.08" width="21.12" height="8.08" fill="#bfe2da"/>
<rect x="290.44" y="264.08" width="21.12" height="8.08" fill="#bfe2da"/>
<rect x="311.16" y="264.08" width="21.12" height="8.08" fill="#bfe2da"/>
<rect x="331.88" y="264.08" width="21.12" height="8.08" fill="#e3f2ee"/>
<rect x="62.5" y="271.75" width="21.12" height="8.08" fill="#e3f2ee"/>
<rect x="83.22" y="271.75" width="21.12" height="8.08" fill="#e3f2ee"/>
<rect x="103.94" y="271.75" width="21.12" height="8.08" fill="#e0d6e6"/>
<rect x="124.66" y="271.75" width="21.12" height="8.08" fill="#fbfcfc"/>
<rect x="145.39" y="271.75" width="21.12" height="8.08" fill="#efeaf2"/>
<rect x="166.11" y="271.75" width="21.12" height="8.08" fill="#cfe9e2"/>
<rect x="186.83" y="271.75" width="21.12" height="8.08" fill="#e3f2ee"/>
<rect x="207.55" y="271.75" width="21.12" height="8.08" fill="#bfe2da"/>
<rect x="228.27" y="271.75" width="21.12" height="8.08" fill="#cfe9e2"/>
<rect x="248.99" y="271.75" width="21.12" height="8.08" fill="#e3f2ee"/>
<rect x="269.71" y="271.75" width="21.12" height="8.08" fill="#e3f2ee"/>
<rect x="290.44" y="271.75" width="21.12" height="8.08" fill="#aedbd1"/>
<rect x="311.16" y="271.75" width="21.12" height="8.08" fill="#fbfcfc"/>
<rect x="331.88" y="271.75" width="21.12" height="8.08" fill="#e3f2ee"/>
<rect x="62.5" y="279.43" width="21.12" height="8.08" fill="#efeaf2"/>
<rect x="83.22" y="279.43" width="21.12" height="8.08" fill="#fbfcfc"/>
<rect x="103.94" y="279.43" width="21.12" height="8.08" fill="#efeaf2"/>
<rect x="124.66" y="279.43" width="21.12" height="8.08" fill="#fbfcfc"/>
<rect x="145.39" y="279.43" width="21.12" height="8.08" fill="#fbfcfc"/>
<rect x="166.11" y="279.43" width="21.12" height="8.08" fill="#cfe9e2"/>
<rect x="186.83" y="279.43" width="21.12" height="8.08" fill="#cfe9e2"/>
<rect x="207.55" y="279.43" width="21.12" height="8.08" fill="#cfe9e2"/>
<rect x="228.27" y="279.43" width="21.12" height="8.08" fill="#e3f2ee"/>
<rect x="248.99" y="279.43" width="21.12" height="8.08" fill="#e3f2ee"/>
<rect x="269.71" y="279.43" width="21.12" height="8.08" fill="#e3f2ee"/>
<rect x="290.44" y="279.43" width="21.12" height="8.08" fill="#bfe2da"/>
<rect x="311.16" y="279.43" width="21.12" height="8.08" fill="#e3f2ee"/>
<rect x="331.88" y="279.43" width="21.12" height="8.08" fill="#e3f2ee"/>
<rect x="62.5" y="287.11" width="21.12" height="8.08" fill="#fbfcfc"/>
<rect x="83.22" y="287.11" width="21.12" height="8.08" fill="#fbfcfc"/>
<rect x="103.94" y="287.11" width="21.12" height="8.08" fill="#efeaf2"/>
<rect x="124.66" y="287.11" width="21.12" height="8.08" fill="#fbfcfc"/>
<rect x="145.39" y="287.11" width="21.12" height="8.08" fill="#fbfcfc"/>
<rect x="166.11" y="287.11" width="21.12" height="8.08" fill="#cfe9e2"/>
<rect x="186.83" y="287.11" width="21.12" height="8.08" fill="#e3f2ee"/>
<rect x="207.55" y="287.11" width="21.12" height="8.08" fill="#cfe9e2"/>
<rect x="228.27" y="287.11" width="21.12" height="8.08" fill="#e3f2ee"/>
<rect x="248.99" y="287.11" width="21.12" height="8.08" fill="#e3f2ee"/>
<rect x="269.71" y="287.11" width="21.12" height="8.08" fill="#e3f2ee"/>
<rect x="290.44" y="287.11" width="21.12" height="8.08" fill="#aedbd1"/>
<rect x="311.16" y="287.11" width="21.12" height="8.08" fill="#fbfcfc"/>
<rect x="331.88" y="287.11" width="21.12" height="8.08" fill="#e3f2ee"/>
<rect x="62.5" y="294.79" width="21.12" height="8.08" fill="#fbfcfc"/>
<rect x="83.22" y="294.79" width="21.12" height="8.08" fill="#fbfcfc"/>
<rect x="103.94" y="294.79" width="21.12" height="8.08" fill="#e0d6e6"/>
<rect x="124.66" y="294.79" width="21.12" height="8.08" fill="#fbfcfc"/>
<rect x="145.39" y="294.79" width="21.12" height="8.08" fill="#fbfcfc"/>
<rect x="166.11" y="294.79" width="21.12" height="8.08" fill="#cfe9e2"/>
<rect x="186.83" y="294.79" width="21.12" height="8.08" fill="#e3f2ee"/>
<rect x="207.55" y="294.79" width="21.12" height="8.08" fill="#cfe9e2"/>
<rect x="228.27" y="294.79" width="21.12" height="8.08" fill="#e3f2ee"/>
<rect x="248.99" y="294.79" width="21.12" height="8.08" fill="#e3f2ee"/>
<rect x="269.71" y="294.79" width="21.12" height="8.08" fill="#e3f2ee"/>
<rect x="290.44" y="294.79" width="21.12" height="8.08" fill="#bfe2da"/>
<rect x="311.16" y="294.79" width="21.12" height="8.08" fill="#fbfcfc"/>
<rect x="331.88" y="294.79" width="21.12" height="8.08" fill="#e3f2ee"/>
<rect x="62.5" y="302.46" width="21.12" height="8.08" fill="#fbfcfc"/>
<rect x="83.22" y="302.46" width="21.12" height="8.08" fill="#e3f2ee"/>
<rect x="103.94" y="302.46" width="21.12" height="8.08" fill="#e0d6e6"/>
<rect x="124.66" y="302.46" width="21.12" height="8.08" fill="#fbfcfc"/>
<rect x="145.39" y="302.46" width="21.12" height="8.08" fill="#e0d6e6"/>
<rect x="166.11" y="302.46" width="21.12" height="8.08" fill="#cfe9e2"/>
<rect x="186.83" y="302.46" width="21.12" height="8.08" fill="#e3f2ee"/>
<rect x="207.55" y="302.46" width="21.12" height="8.08" fill="#bfe2da"/>
<rect x="228.27" y="302.46" width="21.12" height="8.08" fill="#e3f2ee"/>
<rect x="248.99" y="302.46" width="21.12" height="8.08" fill="#cfe9e2"/>
<rect x="269.71" y="302.46" width="21.12" height="8.08" fill="#e3f2ee"/>
<rect x="290.44" y="302.46" width="21.12" height="8.08" fill="#bfe2da"/>
<rect x="311.16" y="302.46" width="21.12" height="8.08" fill="#fbfcfc"/>
<rect x="331.88" y="302.46" width="21.12" height="8.08" fill="#e3f2ee"/>
<rect x="62.5" y="310.14" width="21.12" height="8.08" fill="#fbfcfc"/>
<rect x="83.22" y="310.14" width="21.12" height="8.08" fill="#e3f2ee"/>
<rect x="103.94" y="310.14" width="21.12" height="8.08" fill="#e0d6e6"/>
<rect x="124.66" y="310.14" width="21.12" height="8.08" fill="#fbfcfc"/>
<rect x="145.39" y="310.14" width="21.12" height="8.08" fill="#fbfcfc"/>
<rect x="166.11" y="310.14" width="21.12" height="8.08" fill="#bfe2da"/>
<rect x="186.83" y="310.14" width="21.12" height="8.08" fill="#e3f2ee"/>
<rect x="207.55" y="310.14" width="21.12" height="8.08" fill="#cfe9e2"/>
<rect x="228.27" y="310.14" width="21.12" height="8.08" fill="#e3f2ee"/>
<rect x="248.99" y="310.14" width="21.12" height="8.08" fill="#e3f2ee"/>
<rect x="269.71" y="310.14" width="21.12" height="8.08" fill="#fbfcfc"/>
<rect x="290.44" y="310.14" width="21.12" height="8.08" fill="#aedbd1"/>
<rect x="311.16" y="310.14" width="21.12" height="8.08" fill="#fbfcfc"/>
<rect x="331.88" y="310.14" width="21.12" height="8.08" fill="#e3f2ee"/>
<rect x="62.5" y="317.82" width="21.12" height="8.08" fill="#efeaf2"/>
<rect x="83.22" y="317.82" width="21.12" height="8.08" fill="#e3f2ee"/>
<rect x="103.94" y="317.82" width="21.12" height="8.08" fill="#e0d6e6"/>
<rect x="124.66" y="317.82" width="21.12" height="8.08" fill="#e3f2ee"/>
<rect x="145.39" y="317.82" width="21.12" height="8.08" fill="#e0d6e6"/>
<rect x="166.11" y="317.82" width="21.12" height="8.08" fill="#bfe2da"/>
<rect x="186.83" y="317.82" width="21.12" height="8.08" fill="#cfe9e2"/>
<rect x="207.55" y="317.82" width="21.12" height="8.08" fill="#bfe2da"/>
<rect x="228.27" y="317.82" width="21.12" height="8.08" fill="#e3f2ee"/>
<rect x="248.99" y="317.82" width="21.12" height="8.08" fill="#e3f2ee"/>
<rect x="269.71" y="317.82" width="21.12" height="8.08" fill="#e3f2ee"/>
<rect x="290.44" y="317.82" width="21.12" height="8.08" fill="#bfe2da"/>
<rect x="311.16" y="317.82" width="21.12" height="8.08" fill="#efeaf2"/>
<rect x="331.88" y="317.82" width="21.12" height="8.08" fill="#e3f2ee"/>
<rect x="62.5" y="325.49" width="21.12" height="8.08" fill="#fbfcfc"/>
<rect x="83.22" y="325.49" width="21.12" height="8.08" fill="#efeaf2"/>
<rect x="103.94" y="325.49" width="21.12" height="8.08" fill="#efeaf2"/>
<rect x="124.66" y="325.49" width="21.12" height="8.08" fill="#efeaf2"/>
<rect x="145.39" y="325.49" width="21.12" height="8.08" fill="#e3f2ee"/>
<rect x="166.11" y="325.49" width="21.12" height="8.08" fill="#cfe9e2"/>
<rect x="186.83" y="325.49" width="21.12" height="8.08" fill="#cfe9e2"/>
<rect x="207.55" y="325.49" width="21.12" height="8.08" fill="#cfe9e2"/>
<rect x="228.27" y="325.49" width="21.12" height="8.08" fill="#bfe2da"/>
<rect x="248.99" y="325.49" width="21.12" height="8.08" fill="#e3f2ee"/>
<rect x="269.71" y="325.49" width="21.12" height="8.08" fill="#cfe9e2"/>
<rect x="290.44" y="325.49" width="21.12" height="8.08" fill="#cfe9e2"/>
<rect x="311.16" y="325.49" width="21.12" height="8.08" fill="#e3f2ee"/>
<rect x="331.88" y="325.49" width="21.12" height="8.08" fill="#e0d6e6"/>
<rect x="62.5" y="333.17" width="21.12" height="8.08" fill="#c5b4ce"/>
<rect x="83.22" y="333.17" width="21.12" height="8.08" fill="#fbfcfc"/>
<rect x="103.94" y="333.17" width="21.12" height="8.08" fill="#fbfcfc"/>
<rect x="124.66" y="333.17" width="21.12" height="8.08" fill="#e3f2ee"/>
<rect x="145.39" y="333.17" width="21.12" height="8.08" fill="#c5b4ce"/>
<rect x="166.11" y="333.17" width="21.12" height="8.08" fill="#cfe9e2"/>
<rect x="186.83" y="333.17" width="21.12" height="8.08" fill="#e3f2ee"/>
<rect x="207.55" y="333.17" width="21.12" height="8.08" fill="#cfe9e2"/>
<rect x="228.27" y="333.17" width="21.12" height="8.08" fill="#e3f2ee"/>
<rect x="248.99" y="333.17" width="21.12" height="8.08" fill="#e3f2ee"/>
<rect x="269.71" y="333.17" width="21.12" height="8.08" fill="#aedbd1"/>
<rect x="290.44" y="333.17" width="21.12" height="8.08" fill="#cfe9e2"/>
<rect x="311.16" y="333.17" width="21.12" height="8.08" fill="#e3f2ee"/>
<rect x="331.88" y="333.17" width="21.12" height="8.08" fill="#e3f2ee"/>
<rect x="62.5" y="340.85" width="21.12" height="8.08" fill="#e3f2ee"/>
<rect x="83.22" y="340.85" width="21.12" height="8.08" fill="#e0d6e6"/>
<rect x="103.94" y="340.85" width="21.12" height="8.08" fill="#e0d6e6"/>
<rect x="124.66" y="340.85" width="21.12" height="8.08" fill="#e0d6e6"/>
<rect x="145.39" y="340.85" width="21.12" height="8.08" fill="#e3f2ee"/>
<rect x="166.11" y="340.85" width="21.12" height="8.08" fill="#cfe9e2"/>
<rect x="186.83" y="340.85" width="21.12" height="8.08" fill="#e3f2ee"/>
<rect x="207.55" y="340.85" width="21.12" height="8.08" fill="#cfe9e2"/>
<rect x="228.27" y="340.85" width="21.12" height="8.08" fill="#e3f2ee"/>
<rect x="248.99" y="340.85" width="21.12" height="8.08" fill="#e3f2ee"/>
<rect x="269.71" y="340.85" width="21.12" height="8.08" fill="#cfe9e2"/>
<rect x="290.44" y="340.85" width="21.12" height="8.08" fill="#cfe9e2"/>
<rect x="311.16" y="340.85" width="21.12" height="8.08" fill="#e3f2ee"/>
<rect x="331.88" y="340.85" width="21.12" height="8.08" fill="#e3f2ee"/>
<rect x="62.5" y="348.52" width="21.12" height="8.08" fill="#efeaf2"/>
<rect x="83.22" y="348.52" width="21.12" height="8.08" fill="#e3f2ee"/>
<rect x="103.94" y="348.52" width="21.12" height="8.08" fill="#e0d6e6"/>
<rect x="124.66" y="348.52" width="21.12" height="8.08" fill="#fbfcfc"/>
<rect x="145.39" y="348.52" width="21.12" height="8.08" fill="#fbfcfc"/>
<rect x="166.11" y="348.52" width="21.12" height="8.08" fill="#cfe9e2"/>
<rect x="186.83" y="348.52" width="21.12" height="8.08" fill="#e3f2ee"/>
<rect x="207.55" y="348.52" width="21.12" height="8.08" fill="#bfe2da"/>
<rect x="228.27" y="348.52" width="21.12" height="8.08" fill="#cfe9e2"/>
<rect x="248.99" y="348.52" width="21.12" height="8.08" fill="#fbfcfc"/>
<rect x="269.71" y="348.52" width="21.12" height="8.08" fill="#e3f2ee"/>
<rect x="290.44" y="348.52" width="21.12" height="8.08" fill="#bfe2da"/>
<rect x="311.16" y="348.52" width="21.12" height="8.08" fill="#fbfcfc"/>
<rect x="331.88" y="348.52" width="21.12" height="8.08" fill="#e3f2ee"/>
<rect x="62.5" y="356.2" width="21.12" height="8.08" fill="#efeaf2"/>
<rect x="83.22" y="356.2" width="21.12" height="8.08" fill="#fbfcfc"/>
<rect x="103.94" y="356.2" width="21.12" height="8.08" fill="#fbfcfc"/>
<rect x="124.66" y="356.2" width="21.12" height="8.08" fill="#e3f2ee"/>
<rect x="145.39" y="356.2" width="21.12" height="8.08" fill="#e0d6e6"/>
<rect x="166.11" y="356.2" width="21.12" height="8.08" fill="#cfe9e2"/>
<rect x="186.83" y="356.2" width="21.12" height="8.08" fill="#e3f2ee"/>
<rect x="207.55" y="356.2" width="21.12" height="8.08" fill="#bfe2da"/>
<rect x="228.27" y="356.2" width="21.12" height="8.08" fill="#e3f2ee"/>
<rect x="248.99" y="356.2" width="21.12" height="8.08" fill="#fbfcfc"/>
<rect x="269.71" y="356.2" width="21.12" height="8.08" fill="#bfe2da"/>
<rect x="290.44" y="356.2" width="21.12" height="8.08" fill="#cfe9e2"/>
<rect x="311.16" y="356.2" width="21.12" height="8.08" fill="#e3f2ee"/>
<rect x="331.88" y="356.2" width="21.12" height="8.08" fill="#e3f2ee"/>
<rect x="62.5" y="363.88" width="21.12" height="8.08" fill="#fbfcfc"/>
<rect x="83.22" y="363.88" width="21.12" height="8.08" fill="#fbfcfc"/>
<rect x="103.94" y="363.88" width="21.12" height="8.08" fill="#efeaf2"/>
<rect x="124.66" y="363.88" width="21.12" height="8.08" fill="#fbfcfc"/>
<rect x="145.39" y="363.88" width="21.12" height="8.08" fill="#fbfcfc"/>
<rect x="166.11" y="363.88" width="21.12" height="8.08" fill="#cfe9e2"/>
<rect x="186.83" y="363.88" width="21.12" height="8.08" fill="#e3f2ee"/>
<rect x="207.55" y="363.88" width="21.12" height="8.08" fill="#cfe9e2"/>
<rect x="228.27" y="363.88" width="21.12" height="8.08" fill="#e3f2ee"/>
<rect x="248.99" y="363.88" width="21.12" height="8.08" fill="#e3f2ee"/>
<rect x="269.71" y="363.88" width="21.12" height="8.08" fill="#bfe2da"/>
<rect x="290.44" y="363.88" width="21.12" height="8.08" fill="#cfe9e2"/>
<rect x="311.16" y="363.88" width="21.12" height="8.08" fill="#e3f2ee"/>
<rect x="331.88" y="363.88" width="21.12" height="8.08" fill="#e3f2ee"/>
<rect x="62.5" y="371.56" width="21.12" height="8.08" fill="#e3f2ee"/>
<rect x="83.22" y="371.56" width="21.12" height="8.08" fill="#c5b4ce"/>
<rect x="103.94" y="371.56" width="21.12" height="8.08" fill="#e0d6e6"/>
<rect x="124.66" y="371.56" width="21.12" height="8.08" fill="#fbfcfc"/>
<rect x="145.39" y="371.56" width="21.12" height="8.08" fill="#e3f2ee"/>
<rect x="166.11" y="371.56" width="21.12" height="8.08" fill="#cfe9e2"/>
<rect x="186.83" y="371.56" width="21.12" height="8.08" fill="#e3f2ee"/>
<rect x="207.55" y="371.56" width="21.12" height="8.08" fill="#cfe9e2"/>
<rect x="228.27" y="371.56" width="21.12" height="8.08" fill="#e3f2ee"/>
<rect x="248.99" y="371.56" width="21.12" height="8.08" fill="#fbfcfc"/>
<rect x="269.71" y="371.56" width="21.12" height="8.08" fill="#bfe2da"/>
<rect x="290.44" y="371.56" width="21.12" height="8.08" fill="#e3f2ee"/>
<rect x="311.16" y="371.56" width="21.12" height="8.08" fill="#cfe9e2"/>
<rect x="331.88" y="371.56" width="21.12" height="8.08" fill="#e3f2ee"/>
<rect x="62.5" y="379.23" width="21.12" height="8.08" fill="#fbfcfc"/>
<rect x="83.22" y="379.23" width="21.12" height="8.08" fill="#fbfcfc"/>
<rect x="103.94" y="379.23" width="21.12" height="8.08" fill="#efeaf2"/>
<rect x="124.66" y="379.23" width="21.12" height="8.08" fill="#fbfcfc"/>
<rect x="145.39" y="379.23" width="21.12" height="8.08" fill="#fbfcfc"/>
<rect x="166.11" y="379.23" width="21.12" height="8.08" fill="#e3f2ee"/>
<rect x="186.83" y="379.23" width="21.12" height="8.08" fill="#e3f2ee"/>
<rect x="207.55" y="379.23" width="21.12" height="8.08" fill="#e3f2ee"/>
<rect x="228.27" y="379.23" width="21.12" height="8.08" fill="#e3f2ee"/>
<rect x="248.99" y="379.23" width="21.12" height="8.08" fill="#e3f2ee"/>
<rect x="269.71" y="379.23" width="21.12" height="8.08" fill="#cfe9e2"/>
<rect x="290.44" y="379.23" width="21.12" height="8.08" fill="#e3f2ee"/>
<rect x="311.16" y="379.23" width="21.12" height="8.08" fill="#e3f2ee"/>
<rect x="331.88" y="379.23" width="21.12" height="8.08" fill="#e3f2ee"/>
<rect x="62.5" y="386.91" width="21.12" height="8.08" fill="#fbfcfc"/>
<rect x="83.22" y="386.91" width="21.12" height="8.08" fill="#fbfcfc"/>
<rect x="103.94" y="386.91" width="21.12" height="8.08" fill="#e0d6e6"/>
<rect x="124.66" y="386.91" width="21.12" height="8.08" fill="#fbfcfc"/>
<rect x="145.39" y="386.91" width="21.12" height="8.08" fill="#fbfcfc"/>
<rect x="166.11" y="386.91" width="21.12" height="8.08" fill="#e3f2ee"/>
<rect x="186.83" y="386.91" width="21.12" height="8.08" fill="#e3f2ee"/>
<rect x="207.55" y="386.91" width="21.12" height="8.08" fill="#cfe9e2"/>
<rect x="228.27" y="386.91" width="21.12" height="8.08" fill="#e3f2ee"/>
<rect x="248.99" y="386.91" width="21.12" height="8.08" fill="#e3f2ee"/>
<rect x="269.71" y="386.91" width="21.12" height="8.08" fill="#e3f2ee"/>
<rect x="290.44" y="386.91" width="21.12" height="8.08" fill="#e3f2ee"/>
<rect x="311.16" y="386.91" width="21.12" height="8.08" fill="#fbfcfc"/>
<rect x="331.88" y="386.91" width="21.12" height="8.08" fill="#e3f2ee"/>
<rect x="62.5" y="394.59" width="21.12" height="8.08" fill="#fbfcfc"/>
<rect x="83.22" y="394.59" width="21.12" height="8.08" fill="#fbfcfc"/>
<rect x="103.94" y="394.59" width="21.12" height="8.08" fill="#efeaf2"/>
<rect x="124.66" y="394.59" width="21.12" height="8.08" fill="#fbfcfc"/>
<rect x="145.39" y="394.59" width="21.12" height="8.08" fill="#fbfcfc"/>
<rect x="166.11" y="394.59" width="21.12" height="8.08" fill="#cfe9e2"/>
<rect x="186.83" y="394.59" width="21.12" height="8.08" fill="#e3f2ee"/>
<rect x="207.55" y="394.59" width="21.12" height="8.08" fill="#cfe9e2"/>
<rect x="228.27" y="394.59" width="21.12" height="8.08" fill="#e3f2ee"/>
<rect x="248.99" y="394.59" width="21.12" height="8.08" fill="#e3f2ee"/>
<rect x="269.71" y="394.59" width="21.12" height="8.08" fill="#fbfcfc"/>
<rect x="290.44" y="394.59" width="21.12" height="8.08" fill="#bfe2da"/>
<rect x="311.16" y="394.59" width="21.12" height="8.08" fill="#e3f2ee"/>
<rect x="331.88" y="394.59" width="21.12" height="8.08" fill="#e3f2ee"/>
<rect x="62.5" y="402.26" width="21.12" height="8.08" fill="#fbfcfc"/>
<rect x="83.22" y="402.26" width="21.12" height="8.08" fill="#fbfcfc"/>
<rect x="103.94" y="402.26" width="21.12" height="8.08" fill="#efeaf2"/>
<rect x="124.66" y="402.26" width="21.12" height="8.08" fill="#fbfcfc"/>
<rect x="145.39" y="402.26" width="21.12" height="8.08" fill="#fbfcfc"/>
<rect x="166.11" y="402.26" width="21.12" height="8.08" fill="#cfe9e2"/>
<rect x="186.83" y="402.26" width="21.12" height="8.08" fill="#e3f2ee"/>
<rect x="207.55" y="402.26" width="21.12" height="8.08" fill="#cfe9e2"/>
<rect x="228.27" y="402.26" width="21.12" height="8.08" fill="#e3f2ee"/>
<rect x="248.99" y="402.26" width="21.12" height="8.08" fill="#e3f2ee"/>
<rect x="269.71" y="402.26" width="21.12" height="8.08" fill="#e3f2ee"/>
<rect x="290.44" y="402.26" width="21.12" height="8.08" fill="#bfe2da"/>
<rect x="311.16" y="402.26" width="21.12" height="8.08" fill="#fbfcfc"/>
<rect x="331.88" y="402.26" width="21.12" height="8.08" fill="#e3f2ee"/>
<rect x="62.5" y="409.94" width="21.12" height="8.08" fill="#efeaf2"/>
<rect x="83.22" y="409.94" width="21.12" height="8.08" fill="#fbfcfc"/>
<rect x="103.94" y="409.94" width="21.12" height="8.08" fill="#efeaf2"/>
<rect x="124.66" y="409.94" width="21.12" height="8.08" fill="#e3f2ee"/>
<rect x="145.39" y="409.94" width="21.12" height="8.08" fill="#efeaf2"/>
<rect x="166.11" y="409.94" width="21.12" height="8.08" fill="#e3f2ee"/>
<rect x="186.83" y="409.94" width="21.12" height="8.08" fill="#e3f2ee"/>
<rect x="207.55" y="409.94" width="21.12" height="8.08" fill="#cfe9e2"/>
<rect x="228.27" y="409.94" width="21.12" height="8.08" fill="#e3f2ee"/>
<rect x="248.99" y="409.94" width="21.12" height="8.08" fill="#e3f2ee"/>
<rect x="269.71" y="409.94" width="21.12" height="8.08" fill="#e3f2ee"/>
<rect x="290.44" y="409.94" width="21.12" height="8.08" fill="#e3f2ee"/>
<rect x="311.16" y="409.94" width="21.12" height="8.08" fill="#e3f2ee"/>
<rect x="331.88" y="409.94" width="21.12" height="8.08" fill="#e3f2ee"/>
<rect x="62.5" y="417.62" width="21.12" height="8.08" fill="#fbfcfc"/>
<rect x="83.22" y="417.62" width="21.12" height="8.08" fill="#fbfcfc"/>
<rect x="103.94" y="417.62" width="21.12" height="8.08" fill="#efeaf2"/>
<rect x="124.66" y="417.62" width="21.12" height="8.08" fill="#e3f2ee"/>
<rect x="145.39" y="417.62" width="21.12" height="8.08" fill="#efeaf2"/>
<rect x="166.11" y="417.62" width="21.12" height="8.08" fill="#e3f2ee"/>
<rect x="186.83" y="417.62" width="21.12" height="8.08" fill="#e3f2ee"/>
<rect x="207.55" y="417.62" width="21.12" height="8.08" fill="#cfe9e2"/>
<rect x="228.27" y="417.62" width="21.12" height="8.08" fill="#e3f2ee"/>
<rect x="248.99" y="417.62" width="21.12" height="8.08" fill="#e3f2ee"/>
<rect x="269.71" y="417.62" width="21.12" height="8.08" fill="#fbfcfc"/>
<rect x="290.44" y="417.62" width="21.12" height="8.08" fill="#cfe9e2"/>
<rect x="311.16" y="417.62" width="21.12" height="8.08" fill="#e3f2ee"/>
<rect x="331.88" y="417.62" width="21.12" height="8.08" fill="#e3f2ee"/>
<rect x="62.5" y="425.29" width="21.12" height="8.08" fill="#fbfcfc"/>
<rect x="83.22" y="425.29" width="21.12" height="8.08" fill="#e0d6e6"/>
<rect x="103.94" y="425.29" width="21.12" height="8.08" fill="#e3f2ee"/>
<rect x="124.66" y="425.29" width="21.12" height="8.08" fill="#fbfcfc"/>
<rect x="145.39" y="425.29" width="21.12" height="8.08" fill="#e0d6e6"/>
<rect x="166.11" y="425.29" width="21.12" height="8.08" fill="#e3f2ee"/>
<rect x="186.83" y="425.29" width="21.12" height="8.08" fill="#cfe9e2"/>
<rect x="207.55" y="425.29" width="21.12" height="8.08" fill="#e3f2ee"/>
<rect x="228.27" y="425.29" width="21.12" height="8.08" fill="#e3f2ee"/>
<rect x="248.99" y="425.29" width="21.12" height="8.08" fill="#e3f2ee"/>
<rect x="269.71" y="425.29" width="21.12" height="8.08" fill="#bfe2da"/>
<rect x="290.44" y="425.29" width="21.12" height="8.08" fill="#e3f2ee"/>
<rect x="311.16" y="425.29" width="21.12" height="8.08" fill="#bfe2da"/>
<rect x="331.88" y="425.29" width="21.12" height="8.08" fill="#fbfcfc"/>
<rect x="62.5" y="432.97" width="21.12" height="8.08" fill="#e0d6e6"/>
<rect x="83.22" y="432.97" width="21.12" height="8.08" fill="#e3f2ee"/>
<rect x="103.94" y="432.97" width="21.12" height="8.08" fill="#e0d6e6"/>
<rect x="124.66" y="432.97" width="21.12" height="8.08" fill="#e3f2ee"/>
<rect x="145.39" y="432.97" width="21.12" height="8.08" fill="#efeaf2"/>
<rect x="166.11" y="432.97" width="21.12" height="8.08" fill="#e3f2ee"/>
<rect x="186.83" y="432.97" width="21.12" height="8.08" fill="#e3f2ee"/>
<rect x="207.55" y="432.97" width="21.12" height="8.08" fill="#cfe9e2"/>
<rect x="228.27" y="432.97" width="21.12" height="8.08" fill="#fbfcfc"/>
<rect x="248.99" y="432.97" width="21.12" height="8.08" fill="#e3f2ee"/>
<rect x="269.71" y="432.97" width="21.12" height="8.08" fill="#e3f2ee"/>
<rect x="290.44" y="432.97" width="21.12" height="8.08" fill="#cfe9e2"/>
<rect x="311.16" y="432.97" width="21.12" height="8.08" fill="#e3f2ee"/>
<rect x="331.88" y="432.97" width="21.12" height="8.08" fill="#e3f2ee"/>
<rect x="62.5" y="440.65" width="21.12" height="8.08" fill="#fbfcfc"/>
<rect x="83.22" y="440.65" width="21.12" height="8.08" fill="#fbfcfc"/>
<rect x="103.94" y="440.65" width="21.12" height="8.08" fill="#efeaf2"/>
<rect x="124.66" y="440.65" width="21.12" height="8.08" fill="#fbfcfc"/>
<rect x="145.39" y="440.65" width="21.12" height="8.08" fill="#fbfcfc"/>
<rect x="166.11" y="440.65" width="21.12" height="8.08" fill="#e3f2ee"/>
<rect x="186.83" y="440.65" width="21.12" height="8.08" fill="#e3f2ee"/>
<rect x="207.55" y="440.65" width="21.12" height="8.08" fill="#e3f2ee"/>
<rect x="228.27" y="440.65" width="21.12" height="8.08" fill="#e3f2ee"/>
<rect x="248.99" y="440.65" width="21.12" height="8.08" fill="#e3f2ee"/>
<rect x="269.71" y="440.65" width="21.12" height="8.08" fill="#e3f2ee"/>
<rect x="290.44" y="440.65" width="21.12" height="8.08" fill="#cfe9e2"/>
<rect x="311.16" y="440.65" width="21.12" height="8.08" fill="#e3f2ee"/>
<rect x="331.88" y="440.65" width="21.12" height="8.08" fill="#fbfcfc"/>
<rect x="62.5" y="448.33" width="21.12" height="8.08" fill="#fbfcfc"/>
<rect x="83.22" y="448.33" width="21.12" height="8.08" fill="#fbfcfc"/>
<rect x="103.94" y="448.33" width="21.12" height="8.08" fill="#efeaf2"/>
<rect x="124.66" y="448.33" width="21.12" height="8.08" fill="#fbfcfc"/>
<rect x="145.39" y="448.33" width="21.12" height="8.08" fill="#fbfcfc"/>
<rect x="166.11" y="448.33" width="21.12" height="8.08" fill="#e3f2ee"/>
<rect x="186.83" y="448.33" width="21.12" height="8.08" fill="#e3f2ee"/>
<rect x="207.55" y="448.33" width="21.12" height="8.08" fill="#e3f2ee"/>
<rect x="228.27" y="448.33" width="21.12" height="8.08" fill="#e3f2ee"/>
<rect x="248.99" y="448.33" width="21.12" height="8.08" fill="#e3f2ee"/>
<rect x="269.71" y="448.33" width="21.12" height="8.08" fill="#e3f2ee"/>
<rect x="290.44" y="448.33" width="21.12" height="8.08" fill="#cfe9e2"/>
<rect x="311.16" y="448.33" width="21.12" height="8.08" fill="#e3f2ee"/>
<rect x="331.88" y="448.33" width="21.12" height="8.08" fill="#fbfcfc"/>
<rect x="62.5" y="456" width="21.12" height="8.08" fill="#fbfcfc"/>
<rect x="83.22" y="456" width="21.12" height="8.08" fill="#fbfcfc"/>
<rect x="103.94" y="456" width="21.12" height="8.08" fill="#fbfcfc"/>
<rect x="124.66" y="456" width="21.12" height="8.08" fill="#efeaf2"/>
<rect x="145.39" y="456" width="21.12" height="8.08" fill="#fbfcfc"/>
<rect x="166.11" y="456" width="21.12" height="8.08" fill="#e3f2ee"/>
<rect x="186.83" y="456" width="21.12" height="8.08" fill="#fbfcfc"/>
<rect x="207.55" y="456" width="21.12" height="8.08" fill="#e3f2ee"/>
<rect x="228.27" y="456" width="21.12" height="8.08" fill="#e3f2ee"/>
<rect x="248.99" y="456" width="21.12" height="8.08" fill="#e3f2ee"/>
<rect x="269.71" y="456" width="21.12" height="8.08" fill="#cfe9e2"/>
<rect x="290.44" y="456" width="21.12" height="8.08" fill="#e3f2ee"/>
<rect x="311.16" y="456" width="21.12" height="8.08" fill="#e3f2ee"/>
<rect x="331.88" y="456" width="21.12" height="8.08" fill="#fbfcfc"/>
<rect x="62.5" y="463.68" width="21.12" height="8.08" fill="#fbfcfc"/>
<rect x="83.22" y="463.68" width="21.12" height="8.08" fill="#fbfcfc"/>
<rect x="103.94" y="463.68" width="21.12" height="8.08" fill="#efeaf2"/>
<rect x="124.66" y="463.68" width="21.12" height="8.08" fill="#fbfcfc"/>
<rect x="145.39" y="463.68" width="21.12" height="8.08" fill="#fbfcfc"/>
<rect x="166.11" y="463.68" width="21.12" height="8.08" fill="#e3f2ee"/>
<rect x="186.83" y="463.68" width="21.12" height="8.08" fill="#fbfcfc"/>
<rect x="207.55" y="463.68" width="21.12" height="8.08" fill="#e3f2ee"/>
<rect x="228.27" y="463.68" width="21.12" height="8.08" fill="#e3f2ee"/>
<rect x="248.99" y="463.68" width="21.12" height="8.08" fill="#e3f2ee"/>
<rect x="269.71" y="463.68" width="21.12" height="8.08" fill="#e3f2ee"/>
<rect x="290.44" y="463.68" width="21.12" height="8.08" fill="#e3f2ee"/>
<rect x="311.16" y="463.68" width="21.12" height="8.08" fill="#fbfcfc"/>
<rect x="331.88" y="463.68" width="21.12" height="8.08" fill="#e3f2ee"/>
<rect x="62.5" y="471.36" width="21.12" height="8.08" fill="#fbfcfc"/>
<rect x="83.22" y="471.36" width="21.12" height="8.08" fill="#fbfcfc"/>
<rect x="103.94" y="471.36" width="21.12" height="8.08" fill="#fbfcfc"/>
<rect x="124.66" y="471.36" width="21.12" height="8.08" fill="#fbfcfc"/>
<rect x="145.39" y="471.36" width="21.12" height="8.08" fill="#fbfcfc"/>
<rect x="166.11" y="471.36" width="21.12" height="8.08" fill="#7c5c90"/>
<rect x="186.83" y="471.36" width="21.12" height="8.08" fill="#52216a"/>
<rect x="207.55" y="471.36" width="21.12" height="8.08" fill="#7c5c90"/>
<rect x="228.27" y="471.36" width="21.12" height="8.08" fill="#7c5c90"/>
<rect x="248.99" y="471.36" width="21.12" height="8.08" fill="#3a0b4e"/>
<rect x="269.71" y="471.36" width="21.12" height="8.08" fill="#52216a"/>
<rect x="290.44" y="471.36" width="21.12" height="8.08" fill="#a48fb0"/>
<rect x="311.16" y="471.36" width="21.12" height="8.08" fill="#52216a"/>
<rect x="331.88" y="471.36" width="21.12" height="8.08" fill="#52216a"/>
<rect x="62.5" y="479.03" width="21.12" height="8.08" fill="#e0d6e6"/>
<rect x="83.22" y="479.03" width="21.12" height="8.08" fill="#e0d6e6"/>
<rect x="103.94" y="479.03" width="21.12" height="8.08" fill="#e3f2ee"/>
<rect x="124.66" y="479.03" width="21.12" height="8.08" fill="#fbfcfc"/>
<rect x="145.39" y="479.03" width="21.12" height="8.08" fill="#fbfcfc"/>
<rect x="166.11" y="479.03" width="21.12" height="8.08" fill="#a48fb0"/>
<rect x="186.83" y="479.03" width="21.12" height="8.08" fill="#c5b4ce"/>
<rect x="207.55" y="479.03" width="21.12" height="8.08" fill="#e0d6e6"/>
<rect x="228.27" y="479.03" width="21.12" height="8.08" fill="#c5b4ce"/>
<rect x="248.99" y="479.03" width="21.12" height="8.08" fill="#c5b4ce"/>
<rect x="269.71" y="479.03" width="21.12" height="8.08" fill="#c5b4ce"/>
<rect x="290.44" y="479.03" width="21.12" height="8.08" fill="#c5b4ce"/>
<rect x="311.16" y="479.03" width="21.12" height="8.08" fill="#7c5c90"/>
<rect x="331.88" y="479.03" width="21.12" height="8.08" fill="#e0d6e6"/>
<rect x="62.5" y="486.71" width="21.12" height="8.08" fill="#e3f2ee"/>
<rect x="83.22" y="486.71" width="21.12" height="8.08" fill="#fbfcfc"/>
<rect x="103.94" y="486.71" width="21.12" height="8.08" fill="#efeaf2"/>
<rect x="124.66" y="486.71" width="21.12" height="8.08" fill="#fbfcfc"/>
<rect x="145.39" y="486.71" width="21.12" height="8.08" fill="#fbfcfc"/>
<rect x="166.11" y="486.71" width="21.12" height="8.08" fill="#e0d6e6"/>
<rect x="186.83" y="486.71" width="21.12" height="8.08" fill="#c5b4ce"/>
<rect x="207.55" y="486.71" width="21.12" height="8.08" fill="#c5b4ce"/>
<rect x="228.27" y="486.71" width="21.12" height="8.08" fill="#a48fb0"/>
<rect x="248.99" y="486.71" width="21.12" height="8.08" fill="#e0d6e6"/>
<rect x="269.71" y="486.71" width="21.12" height="8.08" fill="#c5b4ce"/>
<rect x="290.44" y="486.71" width="21.12" height="8.08" fill="#e0d6e6"/>
<rect x="311.16" y="486.71" width="21.12" height="8.08" fill="#a48fb0"/>
<rect x="331.88" y="486.71" width="21.12" height="8.08" fill="#e0d6e6"/>
<rect x="62.5" y="494.39" width="21.12" height="8.08" fill="#efeaf2"/>
<rect x="83.22" y="494.39" width="21.12" height="8.08" fill="#fbfcfc"/>
<rect x="103.94" y="494.39" width="21.12" height="8.08" fill="#fbfcfc"/>
<rect x="124.66" y="494.39" width="21.12" height="8.08" fill="#e3f2ee"/>
<rect x="145.39" y="494.39" width="21.12" height="8.08" fill="#efeaf2"/>
<rect x="166.11" y="494.39" width="21.12" height="8.08" fill="#e0d6e6"/>
<rect x="186.83" y="494.39" width="21.12" height="8.08" fill="#efeaf2"/>
<rect x="207.55" y="494.39" width="21.12" height="8.08" fill="#c5b4ce"/>
<rect x="228.27" y="494.39" width="21.12" height="8.08" fill="#e0d6e6"/>
<rect x="248.99" y="494.39" width="21.12" height="8.08" fill="#c5b4ce"/>
<rect x="269.71" y="494.39" width="21.12" height="8.08" fill="#e0d6e6"/>
<rect x="290.44" y="494.39" width="21.12" height="8.08" fill="#e0d6e6"/>
<rect x="311.16" y="494.39" width="21.12" height="8.08" fill="#a48fb0"/>
<rect x="331.88" y="494.39" width="21.12" height="8.08" fill="#c5b4ce"/>
<rect x="62.5" y="502.06" width="21.12" height="8.08" fill="#fbfcfc"/>
<rect x="83.22" y="502.06" width="21.12" height="8.08" fill="#fbfcfc"/>
<rect x="103.94" y="502.06" width="21.12" height="8.08" fill="#e3f2ee"/>
<rect x="124.66" y="502.06" width="21.12" height="8.08" fill="#efeaf2"/>
<rect x="145.39" y="502.06" width="21.12" height="8.08" fill="#efeaf2"/>
<rect x="166.11" y="502.06" width="21.12" height="8.08" fill="#e0d6e6"/>
<rect x="186.83" y="502.06" width="21.12" height="8.08" fill="#a48fb0"/>
<rect x="207.55" y="502.06" width="21.12" height="8.08" fill="#c5b4ce"/>
<rect x="228.27" y="502.06" width="21.12" height="8.08" fill="#c5b4ce"/>
<rect x="248.99" y="502.06" width="21.12" height="8.08" fill="#a48fb0"/>
<rect x="269.71" y="502.06" width="21.12" height="8.08" fill="#fbfcfc"/>
<rect x="290.44" y="502.06" width="21.12" height="8.08" fill="#e0d6e6"/>
<rect x="311.16" y="502.06" width="21.12" height="8.08" fill="#a48fb0"/>
<rect x="331.88" y="502.06" width="21.12" height="8.08" fill="#e0d6e6"/>
</g>
<path d="M83.22 3.66 L103.94 10.74 M83.22 10.74 L103.94 3.66" stroke="#222" stroke-width="0.8" fill="none"/>
<rect x="62.0" y="2.9" width="291.0" height="506.9" fill="none" stroke="#000" stroke-width="1.5"/>
<line x1="56" y1="6.9" x2="62" y2="6.9" stroke="#000" stroke-width="1.2"/>
<text transform="translate(54.2 6.9) scale(1 0.9)" text-anchor="end" dy="0.36em" font-size="9.1" stroke="#000" stroke-width="0.18">Rims1</text>
<line x1="56" y1="14.58" x2="62" y2="14.58" stroke="#000" stroke-width="1.2"/>
<text transform="translate(54.2 14.58) scale(1 0.9)" text-anchor="end" dy="0.36em" font-size="9.1" stroke="#000" stroke-width="0.18">Ido1</text>
<line x1="56" y1="22.25" x2="62" y2="22.25" stroke="#000" stroke-width="1.2"/>
<text transform="translate(54.2 22.25) scale(1 0.9)" text-anchor="end" dy="0.36em" font-size="9.1" stroke="#000" stroke-width="0.18">Fgf23</text>
<line x1="56" y1="29.93" x2="62" y2="29.93" stroke="#000" stroke-width="1.2"/>
<text transform="translate(54.2 29.93) scale(1 0.9)" text-anchor="end" dy="0.36em" font-size="9.1" stroke="#000" stroke-width="0.18">H2-Q7</text>
<line x1="56" y1="37.61" x2="62" y2="37.61" stroke="#000" stroke-width="1.2"/>
<text transform="translate(54.2 37.61) scale(1 0.9)" text-anchor="end" dy="0.36em" font-size="9.1" stroke="#000" stroke-width="0.18">H2-Q6</text>
<line x1="56" y1="45.28" x2="62" y2="45.28" stroke="#000" stroke-width="1.2"/>
<text transform="translate(54.2 45.28) scale(1 0.9)" text-anchor="end" dy="0.36em" font-size="9.1" stroke="#000" stroke-width="0.18">Apol10b</text>
<line x1="56" y1="52.96" x2="62" y2="52.96" stroke="#000" stroke-width="1.2"/>
<text transform="translate(54.2 52.96) scale(1 0.9)" text-anchor="end" dy="0.36em" font-size="9.1" stroke="#000" stroke-width="0.18">Gvin1</text>
<line x1="56" y1="60.64" x2="62" y2="60.64" stroke="#000" stroke-width="1.2"/>
<text transform="translate(54.2 60.64) scale(1 0.9)" text-anchor="end" dy="0.36em" font-size="9.1" stroke="#000" stroke-width="0.18">Nlrc5</text>
<line x1="56" y1="68.32" x2="62" y2="68.32" stroke="#000" stroke-width="1.2"/>
<text transform="translate(54.2 68.32) scale(1 0.9)" text-anchor="end" dy="0.36em" font-size="9.1" stroke="#000" stroke-width="0.18">Igtp</text>
<line x1="56" y1="75.99" x2="62" y2="75.99" stroke="#000" stroke-width="1.2"/>
<text transform="translate(54.2 75.99) scale(1 0.9)" text-anchor="end" dy="0.36em" font-size="9.1" stroke="#000" stroke-width="0.18">Gbp2</text>
<line x1="56" y1="83.67" x2="62" y2="83.67" stroke="#000" stroke-width="1.2"/>
<text transform="translate(54.2 83.67) scale(1 0.9)" text-anchor="end" dy="0.36em" font-size="9.1" stroke="#000" stroke-width="0.18">Gm4951</text>
<line x1="56" y1="91.35" x2="62" y2="91.35" stroke="#000" stroke-width="1.2"/>
<text transform="translate(54.2 91.35) scale(1 0.9)" text-anchor="end" dy="0.36em" font-size="9.1" stroke="#000" stroke-width="0.18">Olfr56</text>
<line x1="56" y1="99.02" x2="62" y2="99.02" stroke="#000" stroke-width="1.2"/>
<text transform="translate(54.2 99.02) scale(1 0.9)" text-anchor="end" dy="0.36em" font-size="9.1" stroke="#000" stroke-width="0.18">Ccl5</text>
<line x1="56" y1="106.7" x2="62" y2="106.7" stroke="#000" stroke-width="1.2"/>
<text transform="translate(54.2 106.7) scale(1 0.9)" text-anchor="end" dy="0.36em" font-size="9.1" stroke="#000" stroke-width="0.18">Ciita</text>
<line x1="56" y1="114.38" x2="62" y2="114.38" stroke="#000" stroke-width="1.2"/>
<text transform="translate(54.2 114.38) scale(1 0.9)" text-anchor="end" dy="0.36em" font-size="9.1" stroke="#000" stroke-width="0.18">Gap43</text>
<line x1="56" y1="122.06" x2="62" y2="122.06" stroke="#000" stroke-width="1.2"/>
<text transform="translate(54.2 122.06) scale(1 0.9)" text-anchor="end" dy="0.36em" font-size="9.1" stroke="#000" stroke-width="0.18">Gbp3</text>
<line x1="56" y1="129.73" x2="62" y2="129.73" stroke="#000" stroke-width="1.2"/>
<text transform="translate(54.2 129.73) scale(1 0.9)" text-anchor="end" dy="0.36em" font-size="9.1" stroke="#000" stroke-width="0.18">Klrb1b</text>
<line x1="56" y1="137.41" x2="62" y2="137.41" stroke="#000" stroke-width="1.2"/>
<text transform="translate(54.2 137.41) scale(1 0.9)" text-anchor="end" dy="0.36em" font-size="9.1" stroke="#000" stroke-width="0.18">Gzma</text>
<line x1="56" y1="145.09" x2="62" y2="145.09" stroke="#000" stroke-width="1.2"/>
<text transform="translate(54.2 145.09) scale(1 0.9)" text-anchor="end" dy="0.36em" font-size="9.1" stroke="#000" stroke-width="0.18">Apol9a</text>
<line x1="56" y1="152.76" x2="62" y2="152.76" stroke="#000" stroke-width="1.2"/>
<text transform="translate(54.2 152.76) scale(1 0.9)" text-anchor="end" dy="0.36em" font-size="9.1" stroke="#000" stroke-width="0.18">Tap1</text>
<line x1="56" y1="160.44" x2="62" y2="160.44" stroke="#000" stroke-width="1.2"/>
<text transform="translate(54.2 160.44) scale(1 0.9)" text-anchor="end" dy="0.36em" font-size="9.1" stroke="#000" stroke-width="0.18">Ifi47</text>
<line x1="56" y1="168.12" x2="62" y2="168.12" stroke="#000" stroke-width="1.2"/>
<text transform="translate(54.2 168.12) scale(1 0.9)" text-anchor="end" dy="0.36em" font-size="9.1" stroke="#000" stroke-width="0.18">Apol6</text>
<line x1="56" y1="175.79" x2="62" y2="175.79" stroke="#000" stroke-width="1.2"/>
<text transform="translate(54.2 175.79) scale(1 0.9)" text-anchor="end" dy="0.36em" font-size="9.1" stroke="#000" stroke-width="0.18">Gm5431</text>
<line x1="56" y1="183.47" x2="62" y2="183.47" stroke="#000" stroke-width="1.2"/>
<text transform="translate(54.2 183.47) scale(1 0.9)" text-anchor="end" dy="0.36em" font-size="9.1" stroke="#000" stroke-width="0.18">Psmb9</text>
<line x1="56" y1="191.15" x2="62" y2="191.15" stroke="#000" stroke-width="1.2"/>
<text transform="translate(54.2 191.15) scale(1 0.9)" text-anchor="end" dy="0.36em" font-size="9.1" stroke="#000" stroke-width="0.18">Gzmb</text>
<line x1="56" y1="198.82" x2="62" y2="198.82" stroke="#000" stroke-width="1.2"/>
<text transform="translate(54.2 198.82) scale(1 0.9)" text-anchor="end" dy="0.36em" font-size="9.1" stroke="#000" stroke-width="0.18">Apol9b</text>
<line x1="56" y1="206.5" x2="62" y2="206.5" stroke="#000" stroke-width="1.2"/>
<text transform="translate(54.2 206.5) scale(1 0.9)" text-anchor="end" dy="0.36em" font-size="9.1" stroke="#000" stroke-width="0.18">Irgm2</text>
<line x1="56" y1="214.18" x2="62" y2="214.18" stroke="#000" stroke-width="1.2"/>
<text transform="translate(54.2 214.18) scale(1 0.9)" text-anchor="end" dy="0.36em" font-size="9.1" stroke="#000" stroke-width="0.18">B2m</text>
<line x1="56" y1="221.86" x2="62" y2="221.86" stroke="#000" stroke-width="1.2"/>
<text transform="translate(54.2 221.86) scale(1 0.9)" text-anchor="end" dy="0.36em" font-size="9.1" stroke="#000" stroke-width="0.18">Psmb8</text>
<line x1="56" y1="229.53" x2="62" y2="229.53" stroke="#000" stroke-width="1.2"/>
<text transform="translate(54.2 229.53) scale(1 0.9)" text-anchor="end" dy="0.36em" font-size="9.1" stroke="#000" stroke-width="0.18">Zbp1</text>
<line x1="56" y1="237.21" x2="62" y2="237.21" stroke="#000" stroke-width="1.2"/>
<text transform="translate(54.2 237.21) scale(1 0.9)" text-anchor="end" dy="0.36em" font-size="9.1" stroke="#000" stroke-width="0.18">Batf2</text>
<line x1="56" y1="244.89" x2="62" y2="244.89" stroke="#000" stroke-width="1.2"/>
<text transform="translate(54.2 244.89) scale(1 0.9)" text-anchor="end" dy="0.36em" font-size="9.1" stroke="#000" stroke-width="0.18">Il18bp</text>
<line x1="56" y1="252.56" x2="62" y2="252.56" stroke="#000" stroke-width="1.2"/>
<text transform="translate(54.2 252.56) scale(1 0.9)" text-anchor="end" dy="0.36em" font-size="9.1" stroke="#000" stroke-width="0.18">Irgm1</text>
<line x1="56" y1="260.24" x2="62" y2="260.24" stroke="#000" stroke-width="1.2"/>
<text transform="translate(54.2 260.24) scale(1 0.9)" text-anchor="end" dy="0.36em" font-size="9.1" stroke="#000" stroke-width="0.18">Gbp7</text>
<line x1="56" y1="267.92" x2="62" y2="267.92" stroke="#000" stroke-width="1.2"/>
<text transform="translate(54.2 267.92) scale(1 0.9)" text-anchor="end" dy="0.36em" font-size="9.1" stroke="#000" stroke-width="0.18">Ifi44</text>
<line x1="56" y1="275.59" x2="62" y2="275.59" stroke="#000" stroke-width="1.2"/>
<text transform="translate(54.2 275.59) scale(1 0.9)" text-anchor="end" dy="0.36em" font-size="9.1" stroke="#000" stroke-width="0.18">C2</text>
<line x1="56" y1="283.27" x2="62" y2="283.27" stroke="#000" stroke-width="1.2"/>
<text transform="translate(54.2 283.27) scale(1 0.9)" text-anchor="end" dy="0.36em" font-size="9.1" stroke="#000" stroke-width="0.18">Akt3</text>
<line x1="56" y1="290.95" x2="62" y2="290.95" stroke="#000" stroke-width="1.2"/>
<text transform="translate(54.2 290.95) scale(1 0.9)" text-anchor="end" dy="0.36em" font-size="9.1" stroke="#000" stroke-width="0.18">H2-K1</text>
<line x1="56" y1="298.63" x2="62" y2="298.63" stroke="#000" stroke-width="1.2"/>
<text transform="translate(54.2 298.63) scale(1 0.9)" text-anchor="end" dy="0.36em" font-size="9.1" stroke="#000" stroke-width="0.18">Tap2</text>
<line x1="56" y1="306.3" x2="62" y2="306.3" stroke="#000" stroke-width="1.2"/>
<text transform="translate(54.2 306.3) scale(1 0.9)" text-anchor="end" dy="0.36em" font-size="9.1" stroke="#000" stroke-width="0.18">Stat1</text>
<line x1="56" y1="313.98" x2="62" y2="313.98" stroke="#000" stroke-width="1.2"/>
<text transform="translate(54.2 313.98) scale(1 0.9)" text-anchor="end" dy="0.36em" font-size="9.1" stroke="#000" stroke-width="0.18">H2-Q4</text>
<line x1="56" y1="321.66" x2="62" y2="321.66" stroke="#000" stroke-width="1.2"/>
<text transform="translate(54.2 321.66) scale(1 0.9)" text-anchor="end" dy="0.36em" font-size="9.1" stroke="#000" stroke-width="0.18">Cd274</text>
<line x1="56" y1="329.33" x2="62" y2="329.33" stroke="#000" stroke-width="1.2"/>
<text transform="translate(54.2 329.33) scale(1 0.9)" text-anchor="end" dy="0.36em" font-size="9.1" stroke="#000" stroke-width="0.18">Cd36</text>
<line x1="56" y1="337.01" x2="62" y2="337.01" stroke="#000" stroke-width="1.2"/>
<text transform="translate(54.2 337.01) scale(1 0.9)" text-anchor="end" dy="0.36em" font-size="9.1" stroke="#000" stroke-width="0.18">Oas3</text>
<line x1="56" y1="344.69" x2="62" y2="344.69" stroke="#000" stroke-width="1.2"/>
<text transform="translate(54.2 344.69) scale(1 0.9)" text-anchor="end" dy="0.36em" font-size="9.1" stroke="#000" stroke-width="0.18">Trim12a</text>
<line x1="56" y1="352.36" x2="62" y2="352.36" stroke="#000" stroke-width="1.2"/>
<text transform="translate(54.2 352.36) scale(1 0.9)" text-anchor="end" dy="0.36em" font-size="9.1" stroke="#000" stroke-width="0.18">Phactr1</text>
<line x1="56" y1="360.04" x2="62" y2="360.04" stroke="#000" stroke-width="1.2"/>
<text transform="translate(54.2 360.04) scale(1 0.9)" text-anchor="end" dy="0.36em" font-size="9.1" stroke="#000" stroke-width="0.18">Oasl2</text>
<line x1="56" y1="367.72" x2="62" y2="367.72" stroke="#000" stroke-width="1.2"/>
<text transform="translate(54.2 367.72) scale(1 0.9)" text-anchor="end" dy="0.36em" font-size="9.1" stroke="#000" stroke-width="0.18">Upp1</text>
<line x1="56" y1="375.4" x2="62" y2="375.4" stroke="#000" stroke-width="1.2"/>
<text transform="translate(54.2 375.4) scale(1 0.9)" text-anchor="end" dy="0.36em" font-size="9.1" stroke="#000" stroke-width="0.18">Trim30d</text>
<line x1="56" y1="383.07" x2="62" y2="383.07" stroke="#000" stroke-width="1.2"/>
<text transform="translate(54.2 383.07) scale(1 0.9)" text-anchor="end" dy="0.36em" font-size="9.1" stroke="#000" stroke-width="0.18">Trim34a</text>
<line x1="56" y1="390.75" x2="62" y2="390.75" stroke="#000" stroke-width="1.2"/>
<text transform="translate(54.2 390.75) scale(1 0.9)" text-anchor="end" dy="0.36em" font-size="9.1" stroke="#000" stroke-width="0.18">Irf1</text>
<line x1="56" y1="398.43" x2="62" y2="398.43" stroke="#000" stroke-width="1.2"/>
<text transform="translate(54.2 398.43) scale(1 0.9)" text-anchor="end" dy="0.36em" font-size="9.1" stroke="#000" stroke-width="0.18">H2-T22</text>
<line x1="56" y1="406.1" x2="62" y2="406.1" stroke="#000" stroke-width="1.2"/>
<text transform="translate(54.2 406.1) scale(1 0.9)" text-anchor="end" dy="0.36em" font-size="9.1" stroke="#000" stroke-width="0.18">H2-D1</text>
<line x1="56" y1="413.78" x2="62" y2="413.78" stroke="#000" stroke-width="1.2"/>
<text transform="translate(54.2 413.78) scale(1 0.9)" text-anchor="end" dy="0.36em" font-size="9.1" stroke="#000" stroke-width="0.18">Stat2</text>
<line x1="56" y1="421.46" x2="62" y2="421.46" stroke="#000" stroke-width="1.2"/>
<text transform="translate(54.2 421.46) scale(1 0.9)" text-anchor="end" dy="0.36em" font-size="9.1" stroke="#000" stroke-width="0.18">Ube2l6</text>
<line x1="56" y1="429.13" x2="62" y2="429.13" stroke="#000" stroke-width="1.2"/>
<text transform="translate(54.2 429.13) scale(1 0.9)" text-anchor="end" dy="0.36em" font-size="9.1" stroke="#000" stroke-width="0.18">Clca3a1</text>
<line x1="56" y1="436.81" x2="62" y2="436.81" stroke="#000" stroke-width="1.2"/>
<text transform="translate(54.2 436.81) scale(1 0.9)" text-anchor="end" dy="0.36em" font-size="9.1" stroke="#000" stroke-width="0.18">Parp14</text>
<line x1="56" y1="444.49" x2="62" y2="444.49" stroke="#000" stroke-width="1.2"/>
<text transform="translate(54.2 444.49) scale(1 0.9)" text-anchor="end" dy="0.36em" font-size="9.1" stroke="#000" stroke-width="0.18">H2-T23</text>
<line x1="56" y1="452.17" x2="62" y2="452.17" stroke="#000" stroke-width="1.2"/>
<text transform="translate(54.2 452.17) scale(1 0.9)" text-anchor="end" dy="0.36em" font-size="9.1" stroke="#000" stroke-width="0.18">C1s1</text>
<line x1="56" y1="459.84" x2="62" y2="459.84" stroke="#000" stroke-width="1.2"/>
<text transform="translate(54.2 459.84) scale(1 0.9)" text-anchor="end" dy="0.36em" font-size="9.1" stroke="#000" stroke-width="0.18">Apol7a</text>
<line x1="56" y1="467.52" x2="62" y2="467.52" stroke="#000" stroke-width="1.2"/>
<text transform="translate(54.2 467.52) scale(1 0.9)" text-anchor="end" dy="0.36em" font-size="9.1" stroke="#000" stroke-width="0.18">Parp3</text>
<line x1="56" y1="475.2" x2="62" y2="475.2" stroke="#000" stroke-width="1.2"/>
<text transform="translate(54.2 475.2) scale(1 0.9)" text-anchor="end" dy="0.36em" font-size="9.1" stroke="#000" stroke-width="0.18">Dock2</text>
<line x1="56" y1="482.87" x2="62" y2="482.87" stroke="#000" stroke-width="1.2"/>
<text transform="translate(54.2 482.87) scale(1 0.9)" text-anchor="end" dy="0.36em" font-size="9.1" stroke="#000" stroke-width="0.18">Dmkn</text>
<line x1="56" y1="490.55" x2="62" y2="490.55" stroke="#000" stroke-width="1.2"/>
<text transform="translate(54.2 490.55) scale(1 0.9)" text-anchor="end" dy="0.36em" font-size="9.1" stroke="#000" stroke-width="0.18">H2bc11</text>
<line x1="56" y1="498.23" x2="62" y2="498.23" stroke="#000" stroke-width="1.2"/>
<text transform="translate(54.2 498.23) scale(1 0.9)" text-anchor="end" dy="0.36em" font-size="9.1" stroke="#000" stroke-width="0.18">Tmem266</text>
<line x1="56" y1="505.9" x2="62" y2="505.9" stroke="#000" stroke-width="1.2"/>
<text transform="translate(54.2 505.9) scale(1 0.9)" text-anchor="end" dy="0.36em" font-size="9.1" stroke="#000" stroke-width="0.18">Ugt2b35</text>
<line x1="71.2" y1="515.3" x2="158.2" y2="515.3" stroke="#000" stroke-width="1.4"/>
<line x1="170.1" y1="515.1" x2="347.1" y2="515.1" stroke="#000" stroke-width="1.4"/>
<text transform="translate(92.7 534.8) scale(1 1.1)" font-size="12.9" font-style="italic">Vil Apc</text>
<text transform="translate(215.2 534.7) scale(1 1.1)" font-size="12.9" font-style="italic">Vil Apc Dock2</text>
<defs><linearGradient id="cb" x1="0" y1="6" x2="0" y2="507.6" gradientUnits="userSpaceOnUse"><stop offset="0" stop-color="#3f877a"/><stop offset="0.25" stop-color="#7fbfb1"/><stop offset="0.44" stop-color="#b4dcd3"/><stop offset="0.64" stop-color="#ffffff"/><stop offset="0.83" stop-color="#8e6f9a"/><stop offset="1" stop-color="#3a0a4c"/></linearGradient></defs>
<rect x="368.8" y="6.0" width="15.4" height="501.6" fill="url(#cb)" stroke="#111" stroke-width="1.2"/>
<path d="M368.8 34.5 h2.6 M384.2 34.5 h-2.6" stroke="#111" stroke-width="1"/>
<text x="390.2" y="34.5" dy="0.36em" font-size="8.6">6</text>
<path d="M368.8 131.4 h2.6 M384.2 131.4 h-2.6" stroke="#111" stroke-width="1"/>
<text x="390.2" y="131.4" dy="0.36em" font-size="8.6">4</text>
<path d="M368.8 228.0 h2.6 M384.2 228.0 h-2.6" stroke="#111" stroke-width="1"/>
<text x="390.2" y="228.0" dy="0.36em" font-size="8.6">2</text>
<path d="M368.8 325.0 h2.6 M384.2 325.0 h-2.6" stroke="#111" stroke-width="1"/>
<text x="390.2" y="325.0" dy="0.36em" font-size="8.6">0</text>
<path d="M368.8 421.4 h2.6 M384.2 421.4 h-2.6" stroke="#111" stroke-width="1"/>
<text x="390.2" y="421.4" dy="0.36em" font-size="8.6">-2</text>
<rect x="409.3" y="115.2" width="17.2" height="222.8" fill="none" stroke="#111" stroke-width="1.1"/>
<text transform="translate(417.9 226.6) rotate(90)" text-anchor="middle" dy="0.36em" font-size="9.14">Log2FC (relative to mean of control group expression)</text>
<text x="618.6" y="35.3" text-anchor="middle" font-size="7.4" font-weight="bold" stroke="#000" stroke-width="0.1">GO: BP</text>
<rect x="579.9" y="49.9" width="71.06" height="9.4" fill="#3e8a7c"/>
<line x1="576.8" y1="54.6" x2="579.9" y2="54.6" stroke="#333" stroke-width="0.9"/>
<text x="576.3" y="54.6" dy="0.36em" text-anchor="end" font-size="5.85" font-weight="bold" fill="#111" stroke="#111" stroke-width="0.12">immune system process</text>
<rect x="579.9" y="64.33" width="46.14" height="9.4" fill="#3e8a7c"/>
<line x1="576.8" y1="69.03" x2="579.9" y2="69.03" stroke="#333" stroke-width="0.9"/>
<text x="576.3" y="69.03" dy="0.36em" text-anchor="end" font-size="5.85" font-weight="bold" fill="#111" stroke="#111" stroke-width="0.12">cellular response to interferon-beta</text>
<rect x="579.9" y="78.76" width="17.23" height="9.4" fill="#3e8a7c"/>
<line x1="576.8" y1="83.46" x2="579.9" y2="83.46" stroke="#333" stroke-width="0.9"/>
<text x="576.3" y="83.46" dy="0.36em" text-anchor="end" font-size="5.85" font-weight="bold" fill="#111" stroke="#111" stroke-width="0.12">lipoprotein metabolic process</text>
<rect x="579.9" y="93.19" width="16" height="9.4" fill="#3e8a7c"/>
<line x1="576.8" y1="97.89" x2="579.9" y2="97.89" stroke="#333" stroke-width="0.9"/>
<text x="576.3" y="97.89" dy="0.36em" text-anchor="end" font-size="5.85" font-weight="bold" fill="#111" stroke="#111" stroke-width="0.12">negative regulation of viral process</text>
<rect x="579.9" y="107.62" width="15.69" height="9.4" fill="#3e8a7c"/>
<line x1="576.8" y1="112.32" x2="579.9" y2="112.32" stroke="#333" stroke-width="0.9"/>
<text x="576.3" y="112.32" dy="0.36em" text-anchor="end" font-size="5.85" font-weight="bold" fill="#111" stroke="#111" stroke-width="0.12">post-translational protein modification</text>
<path d="M579.9 44.4 V121.9 H656.8" fill="none" stroke="#333" stroke-width="1.1"/>
<line x1="579.9" y1="121.9" x2="579.9" y2="124.5" stroke="#333" stroke-width="0.9"/>
<text x="579.9" y="129.8" dy="0.36em" text-anchor="middle" font-size="5.6" font-weight="bold" fill="#222">0</text>
<line x1="595.28" y1="121.9" x2="595.28" y2="124.5" stroke="#333" stroke-width="0.9"/>
<text x="595.28" y="129.8" dy="0.36em" text-anchor="middle" font-size="5.6" font-weight="bold" fill="#222">5</text>
<line x1="610.66" y1="121.9" x2="610.66" y2="124.5" stroke="#333" stroke-width="0.9"/>
<text x="610.66" y="129.8" dy="0.36em" text-anchor="middle" font-size="5.6" font-weight="bold" fill="#222">10</text>
<line x1="626.04" y1="121.9" x2="626.04" y2="124.5" stroke="#333" stroke-width="0.9"/>
<text x="626.04" y="129.8" dy="0.36em" text-anchor="middle" font-size="5.6" font-weight="bold" fill="#222">15</text>
<line x1="641.42" y1="121.9" x2="641.42" y2="124.5" stroke="#333" stroke-width="0.9"/>
<text x="641.42" y="129.8" dy="0.36em" text-anchor="middle" font-size="5.6" font-weight="bold" fill="#222">20</text>
<line x1="656.8" y1="121.9" x2="656.8" y2="124.5" stroke="#333" stroke-width="0.9"/>
<text x="656.8" y="129.8" dy="0.36em" text-anchor="middle" font-size="5.6" font-weight="bold" fill="#222">25</text>
<text x="618.3" y="139.6" dy="0.36em" text-anchor="middle" font-size="7.3" font-weight="bold" fill="#222">-log10 padj</text>
<text x="618.6" y="162.3" text-anchor="middle" font-size="7.4" font-weight="bold" stroke="#000" stroke-width="0.1">GO: MF</text>
<rect x="579.9" y="176.9" width="51.21" height="9.4" fill="#3e8a7c"/>
<line x1="576.8" y1="181.6" x2="579.9" y2="181.6" stroke="#333" stroke-width="0.9"/>
<text x="576.3" y="181.6" dy="0.36em" text-anchor="end" font-size="5.85" font-weight="bold" fill="#111" stroke="#111" stroke-width="0.12">TAP binding</text>
<rect x="579.9" y="191.33" width="48.89" height="9.4" fill="#3e8a7c"/>
<line x1="576.8" y1="196.03" x2="579.9" y2="196.03" stroke="#333" stroke-width="0.9"/>
<text x="576.3" y="196.03" dy="0.36em" text-anchor="end" font-size="5.85" font-weight="bold" fill="#111" stroke="#111" stroke-width="0.12">MHC class I protein binding</text>
<rect x="579.9" y="205.76" width="35.03" height="9.4" fill="#3e8a7c"/>
<line x1="576.8" y1="210.46" x2="579.9" y2="210.46" stroke="#333" stroke-width="0.9"/>
<text x="576.3" y="210.46" dy="0.36em" text-anchor="end" font-size="5.85" font-weight="bold" fill="#111" stroke="#111" stroke-width="0.12">natural killer cell lectin-like receptor binding</text>
<rect x="579.9" y="220.19" width="33.11" height="9.4" fill="#3e8a7c"/>
<line x1="576.8" y1="224.89" x2="579.9" y2="224.89" stroke="#333" stroke-width="0.9"/>
<text x="576.3" y="224.89" dy="0.36em" text-anchor="end" font-size="5.85" font-weight="bold" fill="#111" stroke="#111" stroke-width="0.12">CD8 receptor binding</text>
<rect x="579.9" y="234.62" width="25.41" height="9.4" fill="#3e8a7c"/>
<line x1="576.8" y1="239.32" x2="579.9" y2="239.32" stroke="#333" stroke-width="0.9"/>
<text x="576.3" y="239.32" dy="0.36em" text-anchor="end" font-size="5.85" font-weight="bold" fill="#111" stroke="#111" stroke-width="0.12">protein homodimerization activity</text>
<path d="M579.9 171.4 V248.9 H656.9" fill="none" stroke="#333" stroke-width="1.1"/>
<line x1="579.9" y1="248.9" x2="579.9" y2="251.5" stroke="#333" stroke-width="0.9"/>
<text x="579.9" y="256.8" dy="0.36em" text-anchor="middle" font-size="5.6" font-weight="bold" fill="#222">0</text>
<line x1="599.15" y1="248.9" x2="599.15" y2="251.5" stroke="#333" stroke-width="0.9"/>
<text x="599.15" y="256.8" dy="0.36em" text-anchor="middle" font-size="5.6" font-weight="bold" fill="#222">5</text>
<line x1="618.4" y1="248.9" x2="618.4" y2="251.5" stroke="#333" stroke-width="0.9"/>
<text x="618.4" y="256.8" dy="0.36em" text-anchor="middle" font-size="5.6" font-weight="bold" fill="#222">10</text>
<line x1="637.65" y1="248.9" x2="637.65" y2="251.5" stroke="#333" stroke-width="0.9"/>
<text x="637.65" y="256.8" dy="0.36em" text-anchor="middle" font-size="5.6" font-weight="bold" fill="#222">15</text>
<line x1="656.9" y1="248.9" x2="656.9" y2="251.5" stroke="#333" stroke-width="0.9"/>
<text x="656.9" y="256.8" dy="0.36em" text-anchor="middle" font-size="5.6" font-weight="bold" fill="#222">20</text>
<text x="618.3" y="266.6" dy="0.36em" text-anchor="middle" font-size="7.3" font-weight="bold" fill="#222">-log10 padj</text>
<text x="618.6" y="289.6" text-anchor="middle" font-size="7.4" font-weight="bold" stroke="#000" stroke-width="0.1">GO: CC</text>
<rect x="579.9" y="304.2" width="58.91" height="9.4" fill="#3e8a7c"/>
<line x1="576.8" y1="308.9" x2="579.9" y2="308.9" stroke="#333" stroke-width="0.9"/>
<text x="576.3" y="308.9" dy="0.36em" text-anchor="end" font-size="5.85" font-weight="bold" fill="#111" stroke="#111" stroke-width="0.12">MHC class I peptide loading complex</text>
<rect x="579.9" y="318.63" width="51.59" height="9.4" fill="#3e8a7c"/>
<line x1="576.8" y1="323.33" x2="579.9" y2="323.33" stroke="#333" stroke-width="0.9"/>
<text x="576.3" y="323.33" dy="0.36em" text-anchor="end" font-size="5.85" font-weight="bold" fill="#111" stroke="#111" stroke-width="0.12">MHC class I protein complex</text>
<rect x="579.9" y="333.06" width="31.96" height="9.4" fill="#3e8a7c"/>
<line x1="576.8" y1="337.76" x2="579.9" y2="337.76" stroke="#333" stroke-width="0.9"/>
<text x="576.3" y="337.76" dy="0.36em" text-anchor="end" font-size="5.85" font-weight="bold" fill="#111" stroke="#111" stroke-width="0.12">phagocytic vesicle membrane</text>
<rect x="579.9" y="347.49" width="25.03" height="9.4" fill="#3e8a7c"/>
<line x1="576.8" y1="352.19" x2="579.9" y2="352.19" stroke="#333" stroke-width="0.9"/>
<text x="576.3" y="352.19" dy="0.36em" text-anchor="end" font-size="5.85" font-weight="bold" fill="#111" stroke="#111" stroke-width="0.12">extracellular region</text>
<rect x="579.9" y="361.92" width="24.64" height="9.4" fill="#3e8a7c"/>
<line x1="576.8" y1="366.62" x2="579.9" y2="366.62" stroke="#333" stroke-width="0.9"/>
<text x="576.3" y="366.62" dy="0.36em" text-anchor="end" font-size="5.85" font-weight="bold" fill="#111" stroke="#111" stroke-width="0.12">Golgi medial cisterna</text>
<path d="M579.9 298.7 V376.2 H656.9" fill="none" stroke="#333" stroke-width="1.1"/>
<line x1="579.9" y1="376.2" x2="579.9" y2="378.8" stroke="#333" stroke-width="0.9"/>
<text x="579.9" y="384.1" dy="0.36em" text-anchor="middle" font-size="5.6" font-weight="bold" fill="#222">0</text>
<line x1="599.15" y1="376.2" x2="599.15" y2="378.8" stroke="#333" stroke-width="0.9"/>
<text x="599.15" y="384.1" dy="0.36em" text-anchor="middle" font-size="5.6" font-weight="bold" fill="#222">5</text>
<line x1="618.4" y1="376.2" x2="618.4" y2="378.8" stroke="#333" stroke-width="0.9"/>
<text x="618.4" y="384.1" dy="0.36em" text-anchor="middle" font-size="5.6" font-weight="bold" fill="#222">10</text>
<line x1="637.65" y1="376.2" x2="637.65" y2="378.8" stroke="#333" stroke-width="0.9"/>
<text x="637.65" y="384.1" dy="0.36em" text-anchor="middle" font-size="5.6" font-weight="bold" fill="#222">15</text>
<line x1="656.9" y1="376.2" x2="656.9" y2="378.8" stroke="#333" stroke-width="0.9"/>
<text x="656.9" y="384.1" dy="0.36em" text-anchor="middle" font-size="5.6" font-weight="bold" fill="#222">20</text>
<text x="618.3" y="393.9" dy="0.36em" text-anchor="middle" font-size="7.3" font-weight="bold" fill="#222">-log10 padj</text>
<text x="618.6" y="416.2" text-anchor="middle" font-size="7.4" font-weight="bold" stroke="#000" stroke-width="0.1">TFBS: motif</text>
<rect x="579.9" y="430.8" width="71.98" height="9.4" fill="#3e8a7c"/>
<line x1="576.8" y1="435.5" x2="579.9" y2="435.5" stroke="#333" stroke-width="0.9"/>
<text x="576.3" y="435.5" dy="0.36em" text-anchor="end" font-size="5.85" font-weight="bold" fill="#111" stroke="#111" stroke-width="0.12">IRF-2 motif</text>
<rect x="579.9" y="445.23" width="66.75" height="9.4" fill="#3e8a7c"/>
<line x1="576.8" y1="449.93" x2="579.9" y2="449.93" stroke="#333" stroke-width="0.9"/>
<text x="576.3" y="449.93" dy="0.36em" text-anchor="end" font-size="5.85" font-weight="bold" fill="#111" stroke="#111" stroke-width="0.12">IRF-1 motif</text>
<rect x="579.9" y="459.66" width="57.21" height="9.4" fill="#3e8a7c"/>
<line x1="576.8" y1="464.36" x2="579.9" y2="464.36" stroke="#333" stroke-width="0.9"/>
<text x="576.3" y="464.36" dy="0.36em" text-anchor="end" font-size="5.85" font-weight="bold" fill="#111" stroke="#111" stroke-width="0.12">ICSBP / IRF-8 motif</text>
<rect x="579.9" y="474.09" width="31.68" height="9.4" fill="#3e8a7c"/>
<line x1="576.8" y1="478.79" x2="579.9" y2="478.79" stroke="#333" stroke-width="0.9"/>
<text x="576.3" y="478.79" dy="0.36em" text-anchor="end" font-size="5.85" font-weight="bold" fill="#111" stroke="#111" stroke-width="0.12">IRF-7 motif</text>
<rect x="579.9" y="488.52" width="29.22" height="9.4" fill="#3e8a7c"/>
<line x1="576.8" y1="493.22" x2="579.9" y2="493.22" stroke="#333" stroke-width="0.9"/>
<text x="576.3" y="493.22" dy="0.36em" text-anchor="end" font-size="5.85" font-weight="bold" fill="#111" stroke="#111" stroke-width="0.12">IRF-4 motif</text>
<path d="M579.9 425.3 V502.8 H656.8" fill="none" stroke="#333" stroke-width="1.1"/>
<line x1="579.9" y1="502.8" x2="579.9" y2="505.4" stroke="#333" stroke-width="0.9"/>
<text x="579.9" y="510.7" dy="0.36em" text-anchor="middle" font-size="5.6" font-weight="bold" fill="#222">0</text>
<line x1="595.28" y1="502.8" x2="595.28" y2="505.4" stroke="#333" stroke-width="0.9"/>
<text x="595.28" y="510.7" dy="0.36em" text-anchor="middle" font-size="5.6" font-weight="bold" fill="#222">5</text>
<line x1="610.66" y1="502.8" x2="610.66" y2="505.4" stroke="#333" stroke-width="0.9"/>
<text x="610.66" y="510.7" dy="0.36em" text-anchor="middle" font-size="5.6" font-weight="bold" fill="#222">10</text>
<line x1="626.04" y1="502.8" x2="626.04" y2="505.4" stroke="#333" stroke-width="0.9"/>
<text x="626.04" y="510.7" dy="0.36em" text-anchor="middle" font-size="5.6" font-weight="bold" fill="#222">15</text>
<line x1="641.42" y1="502.8" x2="641.42" y2="505.4" stroke="#333" stroke-width="0.9"/>
<text x="641.42" y="510.7" dy="0.36em" text-anchor="middle" font-size="5.6" font-weight="bold" fill="#222">20</text>
<line x1="656.8" y1="502.8" x2="656.8" y2="505.4" stroke="#333" stroke-width="0.9"/>
<text x="656.8" y="510.7" dy="0.36em" text-anchor="middle" font-size="5.6" font-weight="bold" fill="#222">25</text>
<text x="618.3" y="520.5" dy="0.36em" text-anchor="middle" font-size="7.3" font-weight="bold" fill="#222">-log10 padj</text>
<path d="M81.4 613.6 V730 H160.1" fill="none" stroke="#2b2b2b" stroke-width="1.3"/>
<line x1="77.2" y1="730" x2="81.4" y2="730" stroke="#2b2b2b" stroke-width="1.1"/>
<text x="75.6" y="730" dy="0.36em" text-anchor="end" font-size="8.8" font-weight="bold" fill="#222">0.0000</text>
<line x1="77.2" y1="706.72" x2="81.4" y2="706.72" stroke="#2b2b2b" stroke-width="1.1"/>
<text x="75.6" y="706.72" dy="0.36em" text-anchor="end" font-size="8.8" font-weight="bold" fill="#222">0.0002</text>
<line x1="77.2" y1="683.44" x2="81.4" y2="683.44" stroke="#2b2b2b" stroke-width="1.1"/>
<text x="75.6" y="683.44" dy="0.36em" text-anchor="end" font-size="8.8" font-weight="bold" fill="#222">0.0004</text>
<line x1="77.2" y1="660.16" x2="81.4" y2="660.16" stroke="#2b2b2b" stroke-width="1.1"/>
<text x="75.6" y="660.16" dy="0.36em" text-anchor="end" font-size="8.8" font-weight="bold" fill="#222">0.0006</text>
<line x1="77.2" y1="636.88" x2="81.4" y2="636.88" stroke="#2b2b2b" stroke-width="1.1"/>
<text x="75.6" y="636.88" dy="0.36em" text-anchor="end" font-size="8.8" font-weight="bold" fill="#222">0.0008</text>
<line x1="77.2" y1="613.6" x2="81.4" y2="613.6" stroke="#2b2b2b" stroke-width="1.1"/>
<text x="75.6" y="613.6" dy="0.36em" text-anchor="end" font-size="8.8" font-weight="bold" fill="#222">0.0010</text>
<line x1="103.5" y1="730" x2="103.5" y2="734.6" stroke="#2b2b2b" stroke-width="1.1"/>
<line x1="136.9" y1="730" x2="136.9" y2="734.6" stroke="#2b2b2b" stroke-width="1.1"/>
<text transform="translate(106.1 741.4) rotate(-45)" text-anchor="end" font-size="9.5" font-style="italic" fill="#333">Vil Apc</text>
<text transform="translate(139.5 741.4) rotate(-45)" text-anchor="end" font-size="9.5" font-style="italic" fill="#333">Vil Apc Dock2</text>
<text x="120.2" y="594.3" dy="0.36em" text-anchor="middle" font-size="11" font-weight="bold" font-style="italic">Ifng</text>
<text transform="translate(38.5 671.3) rotate(-90)" text-anchor="middle" dy="0.36em" font-size="9.5" font-weight="bold" fill="#111">Relative to ActB dlog (qRT-PCR)</text>
<path d="M103.5 704.4 V630 H136.9 V636.4" fill="none" stroke="#1a1a1a" stroke-width="1.4"/>
<text x="120.2" y="622.2" dy="0.36em" text-anchor="middle" font-size="8.3" fill="#333">0.0087</text>
<line x1="103.5" y1="715.4" x2="103.5" y2="731.5" stroke="#2b2b2b" stroke-width="1.1"/>
<line x1="98.1" y1="715.4" x2="108.9" y2="715.4" stroke="#2b2b2b" stroke-width="1.2"/>
<line x1="98.1" y1="731.5" x2="108.9" y2="731.5" stroke="#2b2b2b" stroke-width="1.2"/>
<circle cx="103.5" cy="711.6" r="1.9" fill="#111"/>
<circle cx="103.5" cy="718" r="1.9" fill="#111"/>
<circle cx="96.9" cy="729.6" r="1.9" fill="#111"/>
<circle cx="103.5" cy="729.6" r="1.9" fill="#111"/>
<circle cx="110.7" cy="729" r="1.9" fill="#111"/>
<line x1="92.5" y1="723" x2="114.5" y2="723" stroke="#2b2b2b" stroke-width="1.4"/>
<line x1="136.9" y1="665.5" x2="136.9" y2="712.3" stroke="#2b2b2b" stroke-width="1.1"/>
<line x1="131.5" y1="665.5" x2="142.3" y2="665.5" stroke="#2b2b2b" stroke-width="1.2"/>
<line x1="131.5" y1="712.3" x2="142.3" y2="712.3" stroke="#2b2b2b" stroke-width="1.2"/>
<rect x="135.15" y="642.25" width="3.5" height="3.5" fill="#3f9a8b"/>
<rect x="135.15" y="686.45" width="3.5" height="3.5" fill="#3f9a8b"/>
<rect x="135.15" y="690.25" width="3.5" height="3.5" fill="#3f9a8b"/>
<rect x="130.75" y="696.95" width="3.5" height="3.5" fill="#3f9a8b"/>
<rect x="138.35" y="696.95" width="3.5" height="3.5" fill="#3f9a8b"/>
<rect x="135.15" y="710.25" width="3.5" height="3.5" fill="#3f9a8b"/>
<line x1="125.9" y1="688.8" x2="147.9" y2="688.8" stroke="#2b2b2b" stroke-width="1.4"/>
<path d="M209.5 613.3 V729.9 H288.2" fill="none" stroke="#2b2b2b" stroke-width="1.3"/>
<line x1="205.3" y1="729.9" x2="209.5" y2="729.9" stroke="#2b2b2b" stroke-width="1.1"/>
<text x="203.7" y="729.9" dy="0.36em" text-anchor="end" font-size="8.8" font-weight="bold" fill="#222">0.00</text>
<line x1="205.3" y1="706.58" x2="209.5" y2="706.58" stroke="#2b2b2b" stroke-width="1.1"/>
<text x="203.7" y="706.58" dy="0.36em" text-anchor="end" font-size="8.8" font-weight="bold" fill="#222">0.01</text>
<line x1="205.3" y1="683.26" x2="209.5" y2="683.26" stroke="#2b2b2b" stroke-width="1.1"/>
<text x="203.7" y="683.26" dy="0.36em" text-anchor="end" font-size="8.8" font-weight="bold" fill="#222">0.02</text>
<line x1="205.3" y1="659.94" x2="209.5" y2="659.94" stroke="#2b2b2b" stroke-width="1.1"/>
<text x="203.7" y="659.94" dy="0.36em" text-anchor="end" font-size="8.8" font-weight="bold" fill="#222">0.03</text>
<line x1="205.3" y1="636.62" x2="209.5" y2="636.62" stroke="#2b2b2b" stroke-width="1.1"/>
<text x="203.7" y="636.62" dy="0.36em" text-anchor="end" font-size="8.8" font-weight="bold" fill="#222">0.04</text>
<line x1="205.3" y1="613.3" x2="209.5" y2="613.3" stroke="#2b2b2b" stroke-width="1.1"/>
<text x="203.7" y="613.3" dy="0.36em" text-anchor="end" font-size="8.8" font-weight="bold" fill="#222">0.05</text>
<line x1="231.6" y1="729.9" x2="231.6" y2="734.5" stroke="#2b2b2b" stroke-width="1.1"/>
<line x1="265" y1="729.9" x2="265" y2="734.5" stroke="#2b2b2b" stroke-width="1.1"/>
<text transform="translate(234.2 741.3) rotate(-45)" text-anchor="end" font-size="9.5" font-style="italic" fill="#333">Vil Apc</text>
<text transform="translate(267.6 741.3) rotate(-45)" text-anchor="end" font-size="9.5" font-style="italic" fill="#333">Vil Apc Dock2</text>
<text x="248.3" y="594.3" dy="0.36em" text-anchor="middle" font-size="11" font-weight="bold" font-style="italic">Irf1</text>
<text transform="translate(176.4 671.3) rotate(-90)" text-anchor="middle" dy="0.36em" font-size="9.5" font-weight="bold" fill="#111">Relative to ActB dlog (qRT-PCR)</text>
<path d="M231.6 671.6 V626.6 H265 V633.6" fill="none" stroke="#1a1a1a" stroke-width="1.4"/>
<text x="248.3" y="618.8" dy="0.36em" text-anchor="middle" font-size="8.3" fill="#333">0.0020</text>
<line x1="231.6" y1="682.9" x2="231.6" y2="705.2" stroke="#2b2b2b" stroke-width="1.1"/>
<line x1="226.2" y1="682.9" x2="237" y2="682.9" stroke="#2b2b2b" stroke-width="1.2"/>
<line x1="226.2" y1="705.2" x2="237" y2="705.2" stroke="#2b2b2b" stroke-width="1.2"/>
<circle cx="231.6" cy="678.8" r="1.9" fill="#111"/>
<circle cx="231.6" cy="686" r="1.9" fill="#111"/>
<circle cx="227.5" cy="700.7" r="1.9" fill="#111"/>
<circle cx="235.3" cy="700.7" r="1.9" fill="#111"/>
<circle cx="227.5" cy="704.1" r="1.9" fill="#111"/>
<line x1="220.6" y1="693.9" x2="242.6" y2="693.9" stroke="#2b2b2b" stroke-width="1.4"/>
<line x1="265" y1="649.5" x2="265" y2="673.5" stroke="#2b2b2b" stroke-width="1.1"/>
<line x1="259.6" y1="649.5" x2="270.4" y2="649.5" stroke="#2b2b2b" stroke-width="1.2"/>
<line x1="259.6" y1="673.5" x2="270.4" y2="673.5" stroke="#2b2b2b" stroke-width="1.2"/>
<rect x="263.25" y="638.55" width="3.5" height="3.5" fill="#3f9a8b"/>
<rect x="263.25" y="647.35" width="3.5" height="3.5" fill="#3f9a8b"/>
<rect x="263.25" y="653.55" width="3.5" height="3.5" fill="#3f9a8b"/>
<rect x="263.25" y="656.95" width="3.5" height="3.5" fill="#3f9a8b"/>
<rect x="256.05" y="664.15" width="3.5" height="3.5" fill="#3f9a8b"/>
<rect x="263.25" y="664.15" width="3.5" height="3.5" fill="#3f9a8b"/>
<rect x="270.45" y="664.15" width="3.5" height="3.5" fill="#3f9a8b"/>
<rect x="263.25" y="667.65" width="3.5" height="3.5" fill="#3f9a8b"/>
<rect x="263.25" y="679.85" width="3.5" height="3.5" fill="#3f9a8b"/>
<line x1="254" y1="661.4" x2="276" y2="661.4" stroke="#2b2b2b" stroke-width="1.4"/>
<path d="M337.6 613.3 V729.9 H416.3" fill="none" stroke="#2b2b2b" stroke-width="1.3"/>
<line x1="333.4" y1="729.9" x2="337.6" y2="729.9" stroke="#2b2b2b" stroke-width="1.1"/>
<text x="331.8" y="729.9" dy="0.36em" text-anchor="end" font-size="8.8" font-weight="bold" fill="#222">0.00</text>
<line x1="333.4" y1="700.75" x2="337.6" y2="700.75" stroke="#2b2b2b" stroke-width="1.1"/>
<text x="331.8" y="700.75" dy="0.36em" text-anchor="end" font-size="8.8" font-weight="bold" fill="#222">0.02</text>
<line x1="333.4" y1="671.6" x2="337.6" y2="671.6" stroke="#2b2b2b" stroke-width="1.1"/>
<text x="331.8" y="671.6" dy="0.36em" text-anchor="end" font-size="8.8" font-weight="bold" fill="#222">0.04</text>
<line x1="333.4" y1="642.45" x2="337.6" y2="642.45" stroke="#2b2b2b" stroke-width="1.1"/>
<text x="331.8" y="642.45" dy="0.36em" text-anchor="end" font-size="8.8" font-weight="bold" fill="#222">0.06</text>
<line x1="333.4" y1="613.3" x2="337.6" y2="613.3" stroke="#2b2b2b" stroke-width="1.1"/>
<text x="331.8" y="613.3" dy="0.36em" text-anchor="end" font-size="8.8" font-weight="bold" fill="#222">0.08</text>
<line x1="359.7" y1="729.9" x2="359.7" y2="734.5" stroke="#2b2b2b" stroke-width="1.1"/>
<line x1="393.1" y1="729.9" x2="393.1" y2="734.5" stroke="#2b2b2b" stroke-width="1.1"/>
<text transform="translate(362.3 741.3) rotate(-45)" text-anchor="end" font-size="9.5" font-style="italic" fill="#333">Vil Apc</text>
<text transform="translate(395.7 741.3) rotate(-45)" text-anchor="end" font-size="9.5" font-style="italic" fill="#333">Vil Apc Dock2</text>
<text x="376.4" y="594.3" dy="0.36em" text-anchor="middle" font-size="11" font-weight="bold" font-style="italic">Stat1</text>
<text transform="translate(303.3 671.3) rotate(-90)" text-anchor="middle" dy="0.36em" font-size="9.5" font-weight="bold" fill="#111">Relative to ActB dlog (qRT-PCR)</text>
<path d="M359.7 688.4 V632.1 H393.1 V639.3" fill="none" stroke="#1a1a1a" stroke-width="1.4"/>
<text x="376.4" y="624.3" dy="0.36em" text-anchor="middle" font-size="8.3" fill="#333">0.0070</text>
<line x1="359.7" y1="699.2" x2="359.7" y2="714.4" stroke="#2b2b2b" stroke-width="1.1"/>
<line x1="354.3" y1="699.2" x2="365.1" y2="699.2" stroke="#2b2b2b" stroke-width="1.2"/>
<line x1="354.3" y1="714.4" x2="365.1" y2="714.4" stroke="#2b2b2b" stroke-width="1.2"/>
<circle cx="359.7" cy="696.2" r="1.9" fill="#111"/>
<circle cx="356" cy="703.3" r="1.9" fill="#111"/>
<circle cx="363.4" cy="703.3" r="1.9" fill="#111"/>
<circle cx="356" cy="715" r="1.9" fill="#111"/>
<circle cx="363.4" cy="714" r="1.9" fill="#111"/>
<line x1="348.7" y1="706.8" x2="370.7" y2="706.8" stroke="#2b2b2b" stroke-width="1.4"/>
<line x1="393.1" y1="661.4" x2="393.1" y2="697.6" stroke="#9a9a9a" stroke-width="1.1"/>
<line x1="387.7" y1="661.4" x2="398.5" y2="661.4" stroke="#2b2b2b" stroke-width="1.2"/>
<line x1="387.7" y1="697.6" x2="398.5" y2="697.6" stroke="#2b2b2b" stroke-width="1.2"/>
<rect x="391.35" y="644.75" width="3.5" height="3.5" fill="#3f9a8b"/>
<rect x="391.35" y="659.45" width="3.5" height="3.5" fill="#3f9a8b"/>
<rect x="387.65" y="674.35" width="3.5" height="3.5" fill="#3f9a8b"/>
<rect x="394.75" y="674.35" width="3.5" height="3.5" fill="#3f9a8b"/>
<rect x="387.65" y="678.45" width="3.5" height="3.5" fill="#3f9a8b"/>
<rect x="394.75" y="679.75" width="3.5" height="3.5" fill="#3f9a8b"/>
<rect x="387.65" y="682.55" width="3.5" height="3.5" fill="#3f9a8b"/>
<rect x="391.35" y="697.85" width="3.5" height="3.5" fill="#3f9a8b"/>
<rect x="391.35" y="704.05" width="3.5" height="3.5" fill="#3f9a8b"/>
<line x1="382.1" y1="679.6" x2="404.1" y2="679.6" stroke="#2b2b2b" stroke-width="1.4"/>
<path d="M472.3 613.3 V729.9 H551" fill="none" stroke="#2b2b2b" stroke-width="1.3"/>
<line x1="468.1" y1="729.9" x2="472.3" y2="729.9" stroke="#2b2b2b" stroke-width="1.1"/>
<text x="466.5" y="729.9" dy="0.36em" text-anchor="end" font-size="8.8" font-weight="bold" fill="#222">0.000</text>
<line x1="468.1" y1="706.58" x2="472.3" y2="706.58" stroke="#2b2b2b" stroke-width="1.1"/>
<text x="466.5" y="706.58" dy="0.36em" text-anchor="end" font-size="8.8" font-weight="bold" fill="#222">0.002</text>
<line x1="468.1" y1="683.26" x2="472.3" y2="683.26" stroke="#2b2b2b" stroke-width="1.1"/>
<text x="466.5" y="683.26" dy="0.36em" text-anchor="end" font-size="8.8" font-weight="bold" fill="#222">0.004</text>
<line x1="468.1" y1="659.94" x2="472.3" y2="659.94" stroke="#2b2b2b" stroke-width="1.1"/>
<text x="466.5" y="659.94" dy="0.36em" text-anchor="end" font-size="8.8" font-weight="bold" fill="#222">0.006</text>
<line x1="468.1" y1="636.62" x2="472.3" y2="636.62" stroke="#2b2b2b" stroke-width="1.1"/>
<text x="466.5" y="636.62" dy="0.36em" text-anchor="end" font-size="8.8" font-weight="bold" fill="#222">0.008</text>
<line x1="468.1" y1="613.3" x2="472.3" y2="613.3" stroke="#2b2b2b" stroke-width="1.1"/>
<text x="466.5" y="613.3" dy="0.36em" text-anchor="end" font-size="8.8" font-weight="bold" fill="#222">0.010</text>
<line x1="494.4" y1="729.9" x2="494.4" y2="734.5" stroke="#2b2b2b" stroke-width="1.1"/>
<line x1="527.8" y1="729.9" x2="527.8" y2="734.5" stroke="#2b2b2b" stroke-width="1.1"/>
<text transform="translate(497 741.3) rotate(-45)" text-anchor="end" font-size="9.5" font-style="italic" fill="#333">Vil Apc</text>
<text transform="translate(530.4 741.3) rotate(-45)" text-anchor="end" font-size="9.5" font-style="italic" fill="#333">Vil Apc Dock2</text>
<text x="511.1" y="594.3" dy="0.36em" text-anchor="middle" font-size="11" font-weight="bold" font-style="italic">Tap2</text>
<text transform="translate(433 671.3) rotate(-90)" text-anchor="middle" dy="0.36em" font-size="9.5" font-weight="bold" fill="#111">Relative to ActB dlog (qRT-PCR)</text>
<path d="M494.4 685.3 V636.2 H527.8 V643.4" fill="none" stroke="#1a1a1a" stroke-width="1.4"/>
<text x="511.1" y="628.4" dy="0.36em" text-anchor="middle" font-size="8.3" fill="#333">0.0010</text>
<line x1="494.4" y1="696" x2="494.4" y2="709.4" stroke="#9a9a9a" stroke-width="1.1"/>
<line x1="489" y1="696" x2="499.8" y2="696" stroke="#9a9a9a" stroke-width="1.2"/>
<line x1="489" y1="709.4" x2="499.8" y2="709.4" stroke="#9a9a9a" stroke-width="1.2"/>
<circle cx="494.4" cy="691.9" r="1.9" fill="#111"/>
<circle cx="490.7" cy="703.7" r="1.9" fill="#111"/>
<circle cx="498" cy="702.7" r="1.9" fill="#111"/>
<circle cx="490.7" cy="708.4" r="1.9" fill="#111"/>
<circle cx="498" cy="708.4" r="1.9" fill="#111"/>
<line x1="483.4" y1="702.7" x2="505.4" y2="702.7" stroke="#2b2b2b" stroke-width="1.4"/>
<line x1="527.8" y1="657.1" x2="527.8" y2="680.2" stroke="#9a9a9a" stroke-width="1.1"/>
<line x1="522.4" y1="657.1" x2="533.2" y2="657.1" stroke="#9a9a9a" stroke-width="1.2"/>
<line x1="522.4" y1="680.2" x2="533.2" y2="680.2" stroke="#9a9a9a" stroke-width="1.2"/>
<rect x="526.05" y="648.65" width="3.5" height="3.5" fill="#3f9a8b"/>
<rect x="526.05" y="652.85" width="3.5" height="3.5" fill="#3f9a8b"/>
<rect x="526.05" y="658.55" width="3.5" height="3.5" fill="#3f9a8b"/>
<rect x="516.55" y="669.55" width="3.5" height="3.5" fill="#3f9a8b"/>
<rect x="522.75" y="668.55" width="3.5" height="3.5" fill="#3f9a8b"/>
<rect x="529.35" y="669.95" width="3.5" height="3.5" fill="#3f9a8b"/>
<rect x="535.55" y="669.05" width="3.5" height="3.5" fill="#3f9a8b"/>
<rect x="526.05" y="677.05" width="3.5" height="3.5" fill="#3f9a8b"/>
<rect x="526.05" y="686.05" width="3.5" height="3.5" fill="#3f9a8b"/>
<line x1="516.8" y1="668.3" x2="538.8" y2="668.3" stroke="#2b2b2b" stroke-width="1.4"/>
<path d="M606.3 615.6 V730.4 H685" fill="none" stroke="#2b2b2b" stroke-width="1.3"/>
<line x1="602.1" y1="730.4" x2="606.3" y2="730.4" stroke="#2b2b2b" stroke-width="1.1"/>
<text x="600.5" y="730.4" dy="0.36em" text-anchor="end" font-size="8.8" font-weight="bold" fill="#222">0.000</text>
<line x1="602.1" y1="701.7" x2="606.3" y2="701.7" stroke="#2b2b2b" stroke-width="1.1"/>
<text x="600.5" y="701.7" dy="0.36em" text-anchor="end" font-size="8.8" font-weight="bold" fill="#222">0.005</text>
<line x1="602.1" y1="673" x2="606.3" y2="673" stroke="#2b2b2b" stroke-width="1.1"/>
<text x="600.5" y="673" dy="0.36em" text-anchor="end" font-size="8.8" font-weight="bold" fill="#222">0.010</text>
<line x1="602.1" y1="644.3" x2="606.3" y2="644.3" stroke="#2b2b2b" stroke-width="1.1"/>
<text x="600.5" y="644.3" dy="0.36em" text-anchor="end" font-size="8.8" font-weight="bold" fill="#222">0.015</text>
<line x1="602.1" y1="615.6" x2="606.3" y2="615.6" stroke="#2b2b2b" stroke-width="1.1"/>
<text x="600.5" y="615.6" dy="0.36em" text-anchor="end" font-size="8.8" font-weight="bold" fill="#222">0.020</text>
<line x1="628.4" y1="730.4" x2="628.4" y2="735" stroke="#2b2b2b" stroke-width="1.1"/>
<line x1="661.8" y1="730.4" x2="661.8" y2="735" stroke="#2b2b2b" stroke-width="1.1"/>
<text transform="translate(631 741.8) rotate(-45)" text-anchor="end" font-size="9.5" font-style="italic" fill="#333">Vil Apc</text>
<text transform="translate(664.4 741.8) rotate(-45)" text-anchor="end" font-size="9.5" font-style="italic" fill="#333">Vil Apc Dock2</text>
<text x="645.1" y="594.3" dy="0.36em" text-anchor="middle" font-size="11" font-weight="bold" font-style="italic">Ido1</text>
<text transform="translate(567.9 671.3) rotate(-90)" text-anchor="middle" dy="0.36em" font-size="9.5" font-weight="bold" fill="#111">Relative to ActB dlog (qRT-PCR)</text>
<path d="M628.4 715 V621.5 H661.8 V628.7" fill="none" stroke="#1a1a1a" stroke-width="1.4"/>
<text x="645.1" y="613.7" dy="0.36em" text-anchor="middle" font-size="8.3" fill="#333">0.0020</text>
<line x1="628.4" y1="722.7" x2="628.4" y2="728.9" stroke="#2b2b2b" stroke-width="1.1"/>
<line x1="623" y1="722.7" x2="633.8" y2="722.7" stroke="#2b2b2b" stroke-width="1.2"/>
<line x1="623" y1="728.9" x2="633.8" y2="728.9" stroke="#2b2b2b" stroke-width="1.2"/>
<circle cx="622.3" cy="721.5" r="1.9" fill="#111"/>
<circle cx="622.3" cy="728.9" r="1.9" fill="#111"/>
<circle cx="629" cy="726.8" r="1.9" fill="#111"/>
<circle cx="635.6" cy="724.2" r="1.9" fill="#111"/>
<circle cx="635.6" cy="726.8" r="1.9" fill="#111"/>
<line x1="617.4" y1="725.8" x2="639.4" y2="725.8" stroke="#2b2b2b" stroke-width="1.4"/>
<line x1="661.8" y1="652.2" x2="661.8" y2="710.3" stroke="#2b2b2b" stroke-width="1.1"/>
<line x1="656.4" y1="652.2" x2="667.2" y2="652.2" stroke="#2b2b2b" stroke-width="1.2"/>
<line x1="656.4" y1="710.3" x2="667.2" y2="710.3" stroke="#2b2b2b" stroke-width="1.2"/>
<rect x="660.05" y="633.45" width="3.5" height="3.5" fill="#3f9a8b"/>
<rect x="660.05" y="641.65" width="3.5" height="3.5" fill="#3f9a8b"/>
<rect x="660.05" y="665.55" width="3.5" height="3.5" fill="#3f9a8b"/>
<rect x="660.05" y="677.85" width="3.5" height="3.5" fill="#3f9a8b"/>
<rect x="656.35" y="684.25" width="3.5" height="3.5" fill="#3f9a8b"/>
<rect x="663.45" y="687.65" width="3.5" height="3.5" fill="#3f9a8b"/>
<rect x="660.05" y="698.95" width="3.5" height="3.5" fill="#3f9a8b"/>
<rect x="660.05" y="707.05" width="3.5" height="3.5" fill="#3f9a8b"/>
<rect x="660.05" y="720.35" width="3.5" height="3.5" fill="#3f9a8b"/>
<line x1="650.8" y1="681.2" x2="672.8" y2="681.2" stroke="#2b2b2b" stroke-width="1.4"/>
<path d="M579.7 889.1 V1004.4 H658.4" fill="none" stroke="#2b2b2b" stroke-width="1.3"/>
<line x1="575.5" y1="1004.4" x2="579.7" y2="1004.4" stroke="#2b2b2b" stroke-width="1.1"/>
<text x="573.9" y="1004.4" dy="0.36em" text-anchor="end" font-size="7.7" font-weight="bold" fill="#222">0</text>
<line x1="575.5" y1="975.58" x2="579.7" y2="975.58" stroke="#2b2b2b" stroke-width="1.1"/>
<text x="573.9" y="975.58" dy="0.36em" text-anchor="end" font-size="7.7" font-weight="bold" fill="#222">20</text>
<line x1="575.5" y1="946.75" x2="579.7" y2="946.75" stroke="#2b2b2b" stroke-width="1.1"/>
<text x="573.9" y="946.75" dy="0.36em" text-anchor="end" font-size="7.7" font-weight="bold" fill="#222">40</text>
<line x1="575.5" y1="917.92" x2="579.7" y2="917.92" stroke="#2b2b2b" stroke-width="1.1"/>
<text x="573.9" y="917.92" dy="0.36em" text-anchor="end" font-size="7.7" font-weight="bold" fill="#222">60</text>
<line x1="575.5" y1="889.1" x2="579.7" y2="889.1" stroke="#2b2b2b" stroke-width="1.1"/>
<text x="573.9" y="889.1" dy="0.36em" text-anchor="end" font-size="7.7" font-weight="bold" fill="#222">80</text>
<line x1="601.3" y1="1004.4" x2="601.3" y2="1009" stroke="#2b2b2b" stroke-width="1.1"/>
<line x1="634.2" y1="1004.4" x2="634.2" y2="1009" stroke="#2b2b2b" stroke-width="1.1"/>
<text transform="translate(603.9 1015.8) rotate(-45)" text-anchor="end" font-size="9.5" font-style="italic" fill="#333">Vil Apc</text>
<text transform="translate(636.8 1015.8) rotate(-45)" text-anchor="end" font-size="9.5" font-style="italic" fill="#333">Vil Apc Dock2</text>
<text transform="translate(550 946.5) rotate(-90)" text-anchor="middle" dy="0.36em" font-size="9.5" font-weight="bold" fill="#111">% IDO1 +ve cells/total in tumour (IHC)</text>
<path d="M601.3 937.7 V894.5 H634.2 V901.3" fill="none" stroke="#1a1a1a" stroke-width="1.4"/>
<text x="617.75" y="886.7" dy="0.36em" text-anchor="middle" font-size="8.3" fill="#333">0.0176</text>
<line x1="601.3" y1="958.2" x2="601.3" y2="1004.4" stroke="#2b2b2b" stroke-width="1.1"/>
<line x1="595.9" y1="958.2" x2="606.7" y2="958.2" stroke="#2b2b2b" stroke-width="1.2"/>
<line x1="595.9" y1="1004.4" x2="606.7" y2="1004.4" stroke="#2b2b2b" stroke-width="1.2"/>
<circle cx="601.3" cy="946.4" r="1.9" fill="#111"/>
<circle cx="601.3" cy="957.4" r="1.9" fill="#111"/>
<circle cx="597.8" cy="995.8" r="1.9" fill="#111"/>
<circle cx="604.8" cy="995.8" r="1.9" fill="#111"/>
<circle cx="597.8" cy="1002.5" r="1.9" fill="#111"/>
<circle cx="604.8" cy="999.8" r="1.9" fill="#111"/>
<line x1="590.3" y1="983.1" x2="612.3" y2="983.1" stroke="#2b2b2b" stroke-width="1.4"/>
<line x1="634.2" y1="913.4" x2="634.2" y2="966.1" stroke="#2b2b2b" stroke-width="1.1"/>
<line x1="628.8" y1="913.4" x2="639.6" y2="913.4" stroke="#2b2b2b" stroke-width="1.2"/>
<line x1="628.8" y1="966.1" x2="639.6" y2="966.1" stroke="#2b2b2b" stroke-width="1.2"/>
<rect x="632.45" y="906.25" width="3.5" height="3.5" fill="#3f9a8b"/>
<rect x="632.45" y="909.25" width="3.5" height="3.5" fill="#3f9a8b"/>
<rect x="632.45" y="915.75" width="3.5" height="3.5" fill="#3f9a8b"/>
<rect x="632.45" y="923.05" width="3.5" height="3.5" fill="#3f9a8b"/>
<rect x="632.45" y="933.25" width="3.5" height="3.5" fill="#3f9a8b"/>
<rect x="632.45" y="948.15" width="3.5" height="3.5" fill="#3f9a8b"/>
<rect x="629.25" y="965.65" width="3.5" height="3.5" fill="#3f9a8b"/>
<rect x="635.95" y="968.35" width="3.5" height="3.5" fill="#3f9a8b"/>
<rect x="632.45" y="973.25" width="3.5" height="3.5" fill="#3f9a8b"/>
<line x1="623.2" y1="939.9" x2="645.2" y2="939.9" stroke="#2b2b2b" stroke-width="1.4"/>
<text x="155" y="816.4" dy="0.36em" text-anchor="middle" font-size="15.8" font-style="italic">Vil Apc</text>
<text x="382.6" y="816.4" dy="0.36em" text-anchor="middle" font-size="15.7" font-style="italic">Vil Apc Dock2</text>
<text transform="translate(27.4 896.1) rotate(-90) scale(0.79 1)" text-anchor="middle" dy="0.36em" font-size="18.5">IDO1 IHC</text>
<text transform="translate(27.4 1027.9) rotate(-90) scale(0.854 1)" text-anchor="middle" dy="0.36em" font-size="18.5">Zoom</text>
<defs>
<filter id="texA" x="0" y="0" width="1" height="1" color-interpolation-filters="sRGB">
 <feTurbulence type="fractalNoise" baseFrequency="0.42" numOctaves="2" seed="4" result="n"/>
 <feColorMatrix in="n" type="matrix" values="0 0 0 0 0.97  0 0 0 0 0.97  0 0 0 0 0.98  3.6 0 0 0 -1.65"/>
 <feComposite in2="SourceGraphic" operator="in"/>
</filter>
<filter id="texN" x="0" y="0" width="1" height="1" color-interpolation-filters="sRGB">
 <feTurbulence type="fractalNoise" baseFrequency="0.9" numOctaves="1" seed="7" result="n"/>
 <feColorMatrix in="n" type="matrix" values="0 0 0 0 0.40  0 0 0 0 0.52  0 0 0 0 0.76  0 4.5 0 0 -2.55"/>
 <feComposite in2="SourceGraphic" operator="in"/>
</filter>
<filter id="blur1"><feGaussianBlur stdDeviation="1.5"/></filter>
<filter id="blur3"><feGaussianBlur stdDeviation="3"/></filter>
</defs>
<clipPath id="cTL"><rect x="42.8" y="831.5" width="223.2" height="127.5"/></clipPath>
<g clip-path="url(#cTL)">
<rect x="42.8" y="831.5" width="223.2" height="127.5" fill="#eff0ee"/>
<polygon points="60,846 63,838 68,831 191,831 180,839 166,849 150,860 130,870 110,877 95,881 85,879 76,872 68,863 62,855" fill="#c9d5e7" />
<polygon points="60,846 63,838 68,831 191,831 180,839 166,849 150,860 130,870 110,877 95,881 85,879 76,872 68,863 62,855" fill="#fff" filter="url(#texA)" opacity="0.8"/>
<polygon points="60,846 63,838 68,831 191,831 180,839 166,849 150,860 130,870 110,877 95,881 85,879 76,872 68,863 62,855" fill="#fff" filter="url(#texN)" opacity="0.3"/>
<polygon points="42,884 48,893 56,900 66,905 74,909 78,902 84,893 93,886 110,881 127,880 150,880.5 183,883 195,887 210,894 228,902 240,911 250,912.5 267,910 267,960 42,960" fill="#c9d5e7" />
<polygon points="42,884 48,893 56,900 66,905 74,909 78,902 84,893 93,886 110,881 127,880 150,880.5 183,883 195,887 210,894 228,902 240,911 250,912.5 267,910 267,960 42,960" fill="#fff" filter="url(#texA)" opacity="0.8"/>
<polygon points="42,884 48,893 56,900 66,905 74,909 78,902 84,893 93,886 110,881 127,880 150,880.5 183,883 195,887 210,894 228,902 240,911 250,912.5 267,910 267,960 42,960" fill="#fff" filter="url(#texN)" opacity="0.3"/>
<polygon points="92,882 110,877 130,870 150,860 166,849 180,839 191,831 200,831 186,842 170,853 152,865 130,874 110,880 95,884" fill="#d9e1ea" opacity="0.9"/>
<polygon points="42,935 100,940 160,944 220,946 267,944 267,960 42,960" fill="#d3dce8" opacity="0.75"/>
<polygon points="42,915 60,925 75,940 80,960 42,960" fill="#dfe5ec" opacity="0.75"/>
<path d="M93 831 Q96 846 92 857 T84 868" stroke="#eef0ee" stroke-width="3.5" fill="none"/>
<path d="M146 831 Q139 846 124 858" stroke="#eef0ee" stroke-width="3" fill="none"/>
<polygon points="236,913 246,913.5 257,916 259,928 253,941 246,936 240,925" fill="#eff0ee" />
<g filter="url(#blur3)" opacity="0.3"><rect x="131" y="882" width="8" height="30" fill="#a87a4e"/><rect x="146" y="882" width="9" height="30" fill="#a87a4e"/><rect x="166" y="882" width="13" height="30" fill="#a87a4e"/></g>
<ellipse cx="203.5" cy="871" rx="6" ry="2.3" fill="#b3beb8" filter="url(#blur1)"/>
<path fill="#7c5029" fill-opacity="0.85" d="M135.7 896.8A1.5 0.8 91 1 0 135.6 899.7A1.5 0.8 91 1 0 135.7 896.8ZM132.5 904.6A1.3 0.6 33 1 0 134.6 906A1.3 0.6 33 1 0 132.5 904.6ZM132.7 884.4A1.7 0.7 7 1 0 136.1 884.9A1.7 0.7 7 1 0 132.7 884.4ZM138.9 900.9A0.8 0.6 2 1 0 140.5 901A0.8 0.6 2 1 0 138.9 900.9ZM133.5 888A1.5 0.8 176 1 0 130.5 888.2A1.5 0.8 176 1 0 133.5 888ZM131 894.7A1.3 0.6 33 1 0 133.2 896.2A1.3 0.6 33 1 0 131 894.7ZM132.7 902.9A0.9 0.4 20 1 0 134.4 903.6A0.9 0.4 20 1 0 132.7 902.9ZM147.3 887.5A0.7 0.6 66 1 0 147.9 888.7A0.7 0.6 66 1 0 147.3 887.5ZM154.1 908.8A1.3 0.4 158 1 0 151.7 909.7A1.3 0.4 158 1 0 154.1 908.8ZM154.8 909.6A0.8 0.4 117 1 0 154.1 911A0.8 0.4 117 1 0 154.8 909.6ZM148.4 885.3A0.9 0.6 131 1 0 147.1 886.7A0.9 0.6 131 1 0 148.4 885.3ZM172.6 885.4A1.3 0.8 15 1 0 175.2 886.1A1.3 0.8 15 1 0 172.6 885.4ZM176.5 906.7A1.4 0.5 155 1 0 173.9 907.8A1.4 0.5 155 1 0 176.5 906.7ZM173.6 894.1A1.2 0.6 93 1 0 173.5 896.4A1.2 0.6 93 1 0 173.6 894.1ZM168.7 898.8A0.8 0.6 125 1 0 167.8 900.1A0.8 0.6 125 1 0 168.7 898.8ZM174 886.8A1.2 0.4 118 1 0 172.8 888.9A1.2 0.4 118 1 0 174 886.8ZM171.7 901.3A1.3 0.6 136 1 0 169.8 903.1A1.3 0.6 136 1 0 171.7 901.3ZM175.6 902A0.8 0.5 160 1 0 174 902.6A0.8 0.5 160 1 0 175.6 902ZM168.4 893.5A1.8 0.6 67 1 0 169.7 896.8A1.8 0.6 67 1 0 168.4 893.5ZM258.4 918.4A0.6 0.5 79 1 0 258.6 919.5A0.6 0.5 79 1 0 258.4 918.4ZM241.2 921.1A1.2 0.6 162 1 0 238.8 921.9A1.2 0.6 162 1 0 241.2 921.1ZM229.4 917.2A0.7 0.6 92 1 0 229.3 918.6A0.7 0.6 92 1 0 229.4 917.2ZM261.5 919.2A0.9 0.6 25 1 0 263 919.9A0.9 0.6 25 1 0 261.5 919.2ZM226.5 906.3A0.7 0.4 90 1 0 226.5 907.8A0.7 0.4 90 1 0 226.5 906.3ZM214.4 904.8A0.8 0.4 97 1 0 214.2 906.4A0.8 0.4 97 1 0 214.4 904.8ZM204.5 903.5A1 0.5 168 1 0 202.4 903.9A1 0.5 168 1 0 204.5 903.5ZM204.2 903.5A1 0.6 153 1 0 202.4 904.4A1 0.6 153 1 0 204.2 903.5ZM254.6 920.4A1.3 0.8 34 1 0 256.8 921.9A1.3 0.8 34 1 0 254.6 920.4ZM220.9 909.9A1.1 0.6 171 1 0 218.8 910.2A1.1 0.6 171 1 0 220.9 909.9ZM223.9 907.9A0.8 0.4 75 1 0 224.3 909.4A0.8 0.4 75 1 0 223.9 907.9ZM264.9 921.9A0.8 0.4 77 1 0 265.2 923.4A0.8 0.4 77 1 0 264.9 921.9ZM246.3 921.3A0.5 0.4 176 1 0 245.2 921.4A0.5 0.4 176 1 0 246.3 921.3ZM196.6 889.3A0.6 0.5 156 1 0 195.5 889.8A0.6 0.5 156 1 0 196.6 889.3ZM226 913.4A1.6 0.8 27 1 0 228.8 914.8A1.6 0.8 27 1 0 226 913.4ZM209.3 897.8A1.1 0.8 170 1 0 207.2 898.2A1.1 0.8 170 1 0 209.3 897.8ZM206.6 896.8A0.7 0.5 13 1 0 207.9 897.1A0.7 0.5 13 1 0 206.6 896.8ZM204.4 903.1A0.7 0.4 21 1 0 205.7 903.5A0.7 0.4 21 1 0 204.4 903.1ZM214.2 907.6A1.4 0.7 135 1 0 212.2 909.6A1.4 0.7 135 1 0 214.2 907.6ZM242.9 916.6A1 0.6 148 1 0 241.2 917.6A1 0.6 148 1 0 242.9 916.6ZM169.2 951.7A0.7 0.5 77 1 0 169.5 953.1A0.7 0.5 77 1 0 169.2 951.7ZM95.7 949.6A0.9 0.6 18 1 0 97.4 950.1A0.9 0.6 18 1 0 95.7 949.6ZM260.1 932.8A0.8 0.6 144 1 0 258.8 933.7A0.8 0.6 144 1 0 260.1 932.8ZM188.2 913.4A0.4 0.3 93 1 0 188.1 914.1A0.4 0.3 93 1 0 188.2 913.4ZM47.4 893.1A0.6 0.4 95 1 0 47.3 894.4A0.6 0.4 95 1 0 47.4 893.1ZM115.9 891.1A0.9 0.5 158 1 0 114.1 891.8A0.9 0.5 158 1 0 115.9 891.1ZM184.4 935.3A0.7 0.5 42 1 0 185.5 936.3A0.7 0.5 42 1 0 184.4 935.3ZM202.3 889.8A1 0.5 80 1 0 202.6 891.8A1 0.5 80 1 0 202.3 889.8ZM95.3 932.5A0.7 0.5 119 1 0 94.6 933.8A0.7 0.5 119 1 0 95.3 932.5ZM72.3 933.3A0.5 0.4 165 1 0 71.4 933.5A0.5 0.4 165 1 0 72.3 933.3ZM95.7 914.7A1 0.5 142 1 0 94.2 915.8A1 0.5 142 1 0 95.7 914.7ZM99.8 922.9A0.9 0.6 47 1 0 101 924.2A0.9 0.6 47 1 0 99.8 922.9ZM175.5 936.7A0.9 0.5 32 1 0 177 937.7A0.9 0.5 32 1 0 175.5 936.7ZM179.4 928.1A0.8 0.5 130 1 0 178.3 929.3A0.8 0.5 130 1 0 179.4 928.1ZM58.9 952.1A0.7 0.5 142 1 0 57.7 953A0.7 0.5 142 1 0 58.9 952.1ZM160.7 900.9A0.5 0.5 147 1 0 159.8 901.5A0.5 0.5 147 1 0 160.7 900.9ZM56.3 912.8A0.5 0.4 174 1 0 55.3 912.9A0.5 0.4 174 1 0 56.3 912.8ZM93.7 899.7A0.6 0.5 83 1 0 93.8 900.8A0.6 0.5 83 1 0 93.7 899.7ZM119.7 894.4A0.5 0.5 36 1 0 120.6 895A0.5 0.5 36 1 0 119.7 894.4ZM175.9 940.2A0.7 0.4 112 1 0 175.4 941.4A0.7 0.4 112 1 0 175.9 940.2ZM127.7 885.3A0.7 0.5 49 1 0 128.6 886.3A0.7 0.5 49 1 0 127.7 885.3ZM128.3 867.4A0.7 0.5 116 1 0 127.7 868.7A0.7 0.5 116 1 0 128.3 867.4ZM94.9 848.4A0.7 0.3 64 1 0 95.5 849.7A0.7 0.3 64 1 0 94.9 848.4ZM110 873.1A0.7 0.4 159 1 0 108.8 873.6A0.7 0.4 159 1 0 110 873.1ZM110.7 847.6A0.6 0.6 127 1 0 110 848.5A0.6 0.6 127 1 0 110.7 847.6ZM149 842.3A0.5 0.3 70 1 0 149.3 843.2A0.5 0.3 70 1 0 149 842.3ZM86.6 839.5A0.6 0.5 11 1 0 87.8 839.7A0.6 0.5 11 1 0 86.6 839.5ZM93.1 839A0.8 0.6 101 1 0 92.8 840.6A0.8 0.6 101 1 0 93.1 839ZM91.9 848.1A1 0.6 149 1 0 90.2 849.1A1 0.6 149 1 0 91.9 848.1ZM92.8 841.1A0.4 0.4 105 1 0 92.6 842A0.4 0.4 105 1 0 92.8 841.1ZM92.6 840.2A0.8 0.4 79 1 0 93 841.8A0.8 0.4 79 1 0 92.6 840.2ZM121.7 858.6A1.1 0.6 3 1 0 124 858.7A1.1 0.6 3 1 0 121.7 858.6ZM129.5 852.6A0.8 0.4 77 1 0 129.8 854.1A0.8 0.4 77 1 0 129.5 852.6ZM139.7 844.9A0.9 0.6 167 1 0 138 845.3A0.9 0.6 167 1 0 139.7 844.9Z"/>
<path fill="#6e4420" fill-opacity="0.9" d="M133.8 882A1.6 0.7 140 1 0 131.2 884.1A1.6 0.7 140 1 0 133.8 882ZM134.9 897.5A1 0.4 60 1 0 135.9 899.3A1 0.4 60 1 0 134.9 897.5ZM150.8 890.1A1.1 0.8 2 1 0 153 890.2A1.1 0.8 2 1 0 150.8 890.1ZM148.8 882.8A0.7 0.6 12 1 0 150.2 883.1A0.7 0.6 12 1 0 148.8 882.8ZM174.8 907.2A1.3 0.7 104 1 0 174.1 909.8A1.3 0.7 104 1 0 174.8 907.2ZM244.2 921.4A0.8 0.5 17 1 0 245.7 921.9A0.8 0.5 17 1 0 244.2 921.4ZM190 885.7A1 0.6 123 1 0 189 887.3A1 0.6 123 1 0 190 885.7ZM210.5 900.5A1.3 0.6 123 1 0 209 902.6A1.3 0.6 123 1 0 210.5 900.5ZM261.7 915.8A0.9 0.5 92 1 0 261.6 917.5A0.9 0.5 92 1 0 261.7 915.8ZM197 891.2A0.9 0.8 23 1 0 198.6 891.9A0.9 0.8 23 1 0 197 891.2ZM207.3 906.2A0.8 0.7 149 1 0 206 907A0.8 0.7 149 1 0 207.3 906.2ZM215.1 912A1.4 0.8 28 1 0 217.5 913.4A1.4 0.8 28 1 0 215.1 912ZM220.9 911.7A0.7 0.5 75 1 0 221.3 913.1A0.7 0.5 75 1 0 220.9 911.7ZM222.2 912.4A1 0.6 18 1 0 224 913A1 0.6 18 1 0 222.2 912.4Z"/>
<path fill="#8e6136" fill-opacity="0.8" d="M135.5 905.1A1.3 0.6 89 1 0 135.5 907.8A1.3 0.6 89 1 0 135.5 905.1ZM132.3 885.1A0.5 0.5 3 1 0 133.4 885.2A0.5 0.5 3 1 0 132.3 885.1ZM147.1 882.8A0.8 0.4 45 1 0 148.2 884A0.8 0.4 45 1 0 147.1 882.8ZM152 886A0.4 0.4 163 1 0 151.3 886.2A0.4 0.4 163 1 0 152 886ZM150.1 910.4A0.8 0.4 132 1 0 149 911.6A0.8 0.4 132 1 0 150.1 910.4ZM172.5 909.1A1.8 0.7 69 1 0 173.7 912.5A1.8 0.7 69 1 0 172.5 909.1ZM173.7 889A1.2 0.5 101 1 0 173.2 891.3A1.2 0.5 101 1 0 173.7 889ZM174.4 910A0.5 0.4 96 1 0 174.3 911A0.5 0.4 96 1 0 174.4 910ZM213.6 899.9A0.7 0.6 36 1 0 214.7 900.8A0.7 0.6 36 1 0 213.6 899.9ZM220.8 904.6A0.9 0.5 2 1 0 222.7 904.7A0.9 0.5 2 1 0 220.8 904.6ZM213.3 909.7A0.8 0.6 170 1 0 211.7 910A0.8 0.6 170 1 0 213.3 909.7ZM192.6 892.4A0.9 0.5 137 1 0 191.3 893.6A0.9 0.5 137 1 0 192.6 892.4ZM230 904.3A1.3 0.8 179 1 0 227.3 904.3A1.3 0.8 179 1 0 230 904.3ZM227.5 902.4A1 0.5 119 1 0 226.5 904.2A1 0.5 119 1 0 227.5 902.4ZM217.1 907.2A1.2 0.6 65 1 0 218.1 909.3A1.2 0.6 65 1 0 217.1 907.2ZM215.2 904.2A1 0.5 84 1 0 215.4 906.2A1 0.5 84 1 0 215.2 904.2ZM185.6 887.2A0.5 0.4 42 1 0 186.4 887.9A0.5 0.4 42 1 0 185.6 887.2ZM231.4 918.1A0.9 0.5 75 1 0 231.9 919.9A0.9 0.5 75 1 0 231.4 918.1ZM113.7 942.4A1.1 0.6 43 1 0 115.2 943.9A1.1 0.6 43 1 0 113.7 942.4ZM69.4 922.6A0.6 0.6 43 1 0 70.3 923.4A0.6 0.6 43 1 0 69.4 922.6ZM122.5 926.7A0.3 0.3 161 1 0 121.9 926.9A0.3 0.3 161 1 0 122.5 926.7ZM109 953.5A0.7 0.6 150 1 0 107.9 954.1A0.7 0.6 150 1 0 109 953.5ZM187.6 903.7A1.1 0.5 49 1 0 189 905.3A1.1 0.5 49 1 0 187.6 903.7ZM175.1 897.7A0.8 0.4 120 1 0 174.4 899A0.8 0.4 120 1 0 175.1 897.7ZM208.7 922.2A0.8 0.5 20 1 0 210.3 922.8A0.8 0.5 20 1 0 208.7 922.2ZM127.5 899.1A0.7 0.4 107 1 0 127 900.6A0.7 0.4 107 1 0 127.5 899.1ZM95.9 950.8A0.5 0.3 53 1 0 96.4 951.6A0.5 0.3 53 1 0 95.9 950.8ZM122.9 906.8A1 0.6 7 1 0 124.8 907.1A1 0.6 7 1 0 122.9 906.8ZM235 954.8A0.5 0.4 8 1 0 236 954.9A0.5 0.4 8 1 0 235 954.8ZM63.1 846.9A0.4 0.4 158 1 0 62.3 847.3A0.4 0.4 158 1 0 63.1 846.9ZM93.8 874.3A0.7 0.5 109 1 0 93.4 875.5A0.7 0.5 109 1 0 93.8 874.3ZM65.1 838.1A0.5 0.5 56 1 0 65.6 839A0.5 0.5 56 1 0 65.1 838.1ZM122.3 865.1A0.7 0.5 56 1 0 123.1 866.3A0.7 0.5 56 1 0 122.3 865.1ZM147.6 838A0.5 0.4 128 1 0 147 838.7A0.5 0.4 128 1 0 147.6 838ZM75.5 869.2A0.7 0.4 46 1 0 76.5 870.3A0.7 0.4 46 1 0 75.5 869.2ZM154.1 856.4A1 0.5 144 1 0 152.5 857.6A1 0.5 144 1 0 154.1 856.4ZM135.5 866A0.8 0.5 4 1 0 137.1 866.1A0.8 0.5 4 1 0 135.5 866ZM141.8 851.3A0.5 0.4 149 1 0 140.9 851.8A0.5 0.4 149 1 0 141.8 851.3ZM110 876.1A0.4 0.3 91 1 0 110 876.8A0.4 0.3 91 1 0 110 876.1ZM124.5 854.3A0.5 0.3 48 1 0 125.2 855A0.5 0.3 48 1 0 124.5 854.3ZM160.8 834.1A1 0.5 124 1 0 159.7 835.8A1 0.5 124 1 0 160.8 834.1ZM94.2 835.9A0.6 0.3 37 1 0 95 836.5A0.6 0.3 37 1 0 94.2 835.9ZM168.1 838.3A0.7 0.5 101 1 0 167.9 839.7A0.7 0.5 101 1 0 168.1 838.3ZM89 845.8A0.9 0.6 116 1 0 88.2 847.4A0.9 0.6 116 1 0 89 845.8ZM97.2 834.7A0.7 0.6 7 1 0 98.5 834.9A0.7 0.6 7 1 0 97.2 834.7ZM87.5 847.4A1 0.6 176 1 0 85.5 847.6A1 0.6 176 1 0 87.5 847.4ZM134 842.8A0.5 0.4 11 1 0 134.9 843A0.5 0.4 11 1 0 134 842.8ZM140.5 832.8A0.5 0.5 142 1 0 139.7 833.4A0.5 0.5 142 1 0 140.5 832.8ZM142.2 841A0.5 0.5 37 1 0 143 841.7A0.5 0.5 37 1 0 142.2 841ZM131.4 850A0.9 0.6 114 1 0 130.7 851.5A0.9 0.6 114 1 0 131.4 850ZM135.5 841.5A0.7 0.4 33 1 0 136.7 842.3A0.7 0.4 33 1 0 135.5 841.5Z"/>
<path fill="#4f2e14" fill-opacity="0.95" d="M133.8 900.8A1.1 0.5 167 1 0 131.6 901.2A1.1 0.5 167 1 0 133.8 900.8ZM134 909.4A0.9 0.7 44 1 0 135.3 910.6A0.9 0.7 44 1 0 134 909.4ZM155.5 879.9A2.2 0.7 106 1 0 154.3 884.1A2.2 0.7 106 1 0 155.5 879.9ZM148 888.6A1.2 0.7 53 1 0 149.4 890.4A1.2 0.7 53 1 0 148 888.6ZM167.6 901.1A0.5 0.5 13 1 0 168.6 901.3A0.5 0.5 13 1 0 167.6 901.1ZM168.3 885.7A1.4 0.5 7 1 0 171.1 886.1A1.4 0.5 7 1 0 168.3 885.7ZM176.2 895A0.4 0.4 157 1 0 175.5 895.3A0.4 0.4 157 1 0 176.2 895ZM249.1 921.3A0.5 0.4 70 1 0 249.4 922.3A0.5 0.4 70 1 0 249.1 921.3ZM253.9 911.8A1.2 0.8 170 1 0 251.5 912.1A1.2 0.8 170 1 0 253.9 911.8ZM232.4 919.9A0.8 0.4 35 1 0 233.8 920.9A0.8 0.4 35 1 0 232.4 919.9ZM224.1 914.3A1.1 0.6 34 1 0 225.8 915.4A1.1 0.6 34 1 0 224.1 914.3ZM225 909.7A0.8 0.4 113 1 0 224.4 911.2A0.8 0.4 113 1 0 225 909.7ZM205.6 900.2A0.7 0.6 97 1 0 205.4 901.6A0.7 0.6 97 1 0 205.6 900.2ZM229.3 906A1.4 0.8 144 1 0 227 907.6A1.4 0.8 144 1 0 229.3 906ZM245.6 923.9A0.5 0.5 68 1 0 246 924.9A0.5 0.5 68 1 0 245.6 923.9ZM210.9 901.8A1.5 0.7 120 1 0 209.4 904.4A1.5 0.7 120 1 0 210.9 901.8ZM211.4 909.5A0.7 0.5 83 1 0 211.6 910.8A0.7 0.5 83 1 0 211.4 909.5ZM212 909.9A0.9 0.5 82 1 0 212.2 911.6A0.9 0.5 82 1 0 212 909.9ZM230.3 910.1A1.7 0.9 100 1 0 229.7 913.4A1.7 0.9 100 1 0 230.3 910.1ZM222.3 900.9A0.9 0.8 25 1 0 224 901.7A0.9 0.8 25 1 0 222.3 900.9ZM206.1 897.3A0.7 0.4 126 1 0 205.3 898.4A0.7 0.4 126 1 0 206.1 897.3ZM207.7 896.4A1.2 0.7 165 1 0 205.4 897A1.2 0.7 165 1 0 207.7 896.4ZM222.5 907.6A1.1 0.6 44 1 0 224 909.1A1.1 0.6 44 1 0 222.5 907.6ZM210.6 904.2A1 0.5 24 1 0 212.5 905A1 0.5 24 1 0 210.6 904.2ZM207.9 906.4A1 0.8 98 1 0 207.6 908.3A1 0.8 98 1 0 207.9 906.4ZM210.2 908.7A1.1 0.8 106 1 0 209.5 910.9A1.1 0.8 106 1 0 210.2 908.7ZM205.1 905.2A0.9 0.5 59 1 0 206 906.8A0.9 0.5 59 1 0 205.1 905.2Z"/>
<path fill="#9c7046" fill-opacity="0.75" d="M137 891A0.7 0.5 12 1 0 138.4 891.3A0.7 0.5 12 1 0 137 891ZM172.3 888.3A0.8 0.5 114 1 0 171.7 889.7A0.8 0.5 114 1 0 172.3 888.3ZM175.5 892A1.4 0.6 128 1 0 173.8 894.2A1.4 0.6 128 1 0 175.5 892ZM173.2 903.5A0.6 0.6 40 1 0 174.2 904.3A0.6 0.6 40 1 0 173.2 903.5ZM193.3 892.8A0.9 0.7 17 1 0 195 893.3A0.9 0.7 17 1 0 193.3 892.8ZM234.8 916A0.7 0.4 64 1 0 235.4 917.1A0.7 0.4 64 1 0 234.8 916ZM265.2 916.1A1 0.5 133 1 0 263.9 917.5A1 0.5 133 1 0 265.2 916.1ZM185.4 886.5A1.5 0.7 25 1 0 188.1 887.8A1.5 0.7 25 1 0 185.4 886.5ZM262.6 913.7A0.5 0.5 160 1 0 261.6 914A0.5 0.5 160 1 0 262.6 913.7ZM234.3 914.8A0.7 0.4 46 1 0 235.2 915.8A0.7 0.4 46 1 0 234.3 914.8ZM194.7 888.5A1.2 0.7 52 1 0 196.3 890.4A1.2 0.7 52 1 0 194.7 888.5ZM257.4 922.4A1 0.6 127 1 0 256.1 924A1 0.6 127 1 0 257.4 922.4ZM221.8 903.3A1.1 0.5 72 1 0 222.5 905.4A1.1 0.5 72 1 0 221.8 903.3ZM114.8 883.6A1 0.5 131 1 0 113.5 885.1A1 0.5 131 1 0 114.8 883.6ZM165.7 932.5A1.1 0.6 179 1 0 163.5 932.6A1.1 0.6 179 1 0 165.7 932.5ZM79.7 948.5A0.6 0.3 48 1 0 80.5 949.3A0.6 0.3 48 1 0 79.7 948.5ZM161 883.2A0.6 0.5 45 1 0 161.9 884.1A0.6 0.5 45 1 0 161 883.2ZM61.2 902.3A0.7 0.5 50 1 0 62 903.3A0.7 0.5 50 1 0 61.2 902.3ZM48.7 942.6A0.7 0.3 111 1 0 48.2 943.8A0.7 0.3 111 1 0 48.7 942.6ZM128.7 953.8A0.5 0.4 100 1 0 128.5 954.9A0.5 0.4 100 1 0 128.7 953.8ZM151.1 881.9A0.7 0.4 114 1 0 150.5 883.2A0.7 0.4 114 1 0 151.1 881.9ZM182.8 883.9A0.7 0.4 147 1 0 181.6 884.7A0.7 0.4 147 1 0 182.8 883.9ZM71.3 940A0.5 0.5 134 1 0 70.5 940.8A0.5 0.5 134 1 0 71.3 940ZM253.4 957.7A0.9 0.5 175 1 0 251.6 957.8A0.9 0.5 175 1 0 253.4 957.7ZM174.5 959.4A0.8 0.5 164 1 0 172.9 959.8A0.8 0.5 164 1 0 174.5 959.4ZM77.7 856.4A0.4 0.4 66 1 0 78.1 857.3A0.4 0.4 66 1 0 77.7 856.4ZM88.4 832.5A0.5 0.3 101 1 0 88.2 833.5A0.5 0.3 101 1 0 88.4 832.5ZM99.4 863.9A0.7 0.6 124 1 0 98.7 865.1A0.7 0.6 124 1 0 99.4 863.9ZM75.2 855A0.9 0.4 51 1 0 76.2 856.3A0.9 0.4 51 1 0 75.2 855ZM96.1 838.6A0.6 0.4 30 1 0 97.2 839.2A0.6 0.4 30 1 0 96.1 838.6ZM62.5 847.7A0.9 0.6 47 1 0 63.7 849A0.9 0.6 47 1 0 62.5 847.7ZM86.1 864.3A0.9 0.5 7 1 0 87.8 864.5A0.9 0.5 7 1 0 86.1 864.3ZM89.5 861.9A0.8 0.5 45 1 0 90.7 863.1A0.8 0.5 45 1 0 89.5 861.9ZM86 842.3A0.7 0.4 69 1 0 86.5 843.7A0.7 0.4 69 1 0 86 842.3ZM88.5 852.7A0.9 0.6 162 1 0 86.9 853.2A0.9 0.6 162 1 0 88.5 852.7ZM96.2 839.1A0.5 0.4 156 1 0 95.2 839.5A0.5 0.4 156 1 0 96.2 839.1ZM95.6 848.4A0.8 0.4 48 1 0 96.6 849.6A0.8 0.4 48 1 0 95.6 848.4ZM133.7 844A0.9 0.6 10 1 0 135.4 844.4A0.9 0.6 10 1 0 133.7 844ZM148.4 833A1.3 0.7 97 1 0 148.1 835.5A1.3 0.7 97 1 0 148.4 833ZM122.4 858.1A0.8 0.5 45 1 0 123.6 859.3A0.8 0.5 45 1 0 122.4 858.1ZM135.6 843A0.6 0.5 165 1 0 134.5 843.3A0.6 0.5 165 1 0 135.6 843Z"/>
<path fill="#5e3818" fill-opacity="0.9" d="M147.1 892.9A1.7 0.7 18 1 0 150.3 894A1.7 0.7 18 1 0 147.1 892.9ZM151.7 909.3A1.2 0.6 155 1 0 149.5 910.3A1.2 0.6 155 1 0 151.7 909.3ZM152.7 890.2A1 0.5 130 1 0 151.4 891.8A1 0.5 130 1 0 152.7 890.2ZM151.7 888.2A1.6 0.7 52 1 0 153.6 890.7A1.6 0.7 52 1 0 151.7 888.2ZM150.3 888.6A0.6 0.4 95 1 0 150.2 889.8A0.6 0.4 95 1 0 150.3 888.6ZM173.6 899.7A1.6 0.6 66 1 0 174.9 902.6A1.6 0.6 66 1 0 173.6 899.7ZM175.1 889.4A0.8 0.4 49 1 0 176.1 890.6A0.8 0.4 49 1 0 175.1 889.4ZM168.4 894.5A1 0.4 42 1 0 169.8 895.8A1 0.4 42 1 0 168.4 894.5ZM174.4 908.9A0.9 0.7 85 1 0 174.5 910.7A0.9 0.7 85 1 0 174.4 908.9ZM197.5 888.8A0.9 0.5 104 1 0 197.1 890.5A0.9 0.5 104 1 0 197.5 888.8ZM186.1 890.7A0.8 0.5 66 1 0 186.7 892.1A0.8 0.5 66 1 0 186.1 890.7ZM193.9 896A0.9 0.6 77 1 0 194.2 897.7A0.9 0.6 77 1 0 193.9 896ZM242.8 912A0.6 0.4 43 1 0 243.6 912.8A0.6 0.4 43 1 0 242.8 912ZM232.5 911.3A1.1 0.6 59 1 0 233.7 913.1A1.1 0.6 59 1 0 232.5 911.3ZM209.4 896A1.1 0.5 161 1 0 207.2 896.7A1.1 0.5 161 1 0 209.4 896ZM231.2 915.5A1 0.7 70 1 0 231.9 917.4A1 0.7 70 1 0 231.2 915.5ZM237.6 914.7A0.8 0.4 71 1 0 238 916.2A0.8 0.4 71 1 0 237.6 914.7ZM259.5 918.9A1.6 0.7 81 1 0 260 922A1.6 0.7 81 1 0 259.5 918.9ZM208.5 896.9A0.8 0.6 100 1 0 208.2 898.6A0.8 0.6 100 1 0 208.5 896.9ZM218 901.2A0.8 0.7 128 1 0 217.1 902.4A0.8 0.7 128 1 0 218 901.2ZM219.5 898.6A1.9 0.9 147 1 0 216.4 900.6A1.9 0.9 147 1 0 219.5 898.6ZM216.2 903.1A1.7 0.8 179 1 0 212.9 903.1A1.7 0.8 179 1 0 216.2 903.1Z"/>
<rect x="45.5" y="953.2" width="30.7" height="2.6" fill="#4a4a4a"/>
</g>
<rect x="42.8" y="831.5" width="223.2" height="127.5" fill="none" stroke="#333" stroke-width="1.1"/>
<clipPath id="cTR"><rect x="270.5" y="831.4" width="223.9" height="127.3"/></clipPath>
<g clip-path="url(#cTR)">
<rect x="270.5" y="831.4" width="223.9" height="127.3" fill="#eff0ee"/>
<polygon points="293,831 488,831 478,838 460,848 440,856 410,862 385,864 353,860 337,856 320,851 304,842" fill="#c9d5e7" />
<polygon points="293,831 488,831 478,838 460,848 440,856 410,862 385,864 353,860 337,856 320,851 304,842" fill="#fff" filter="url(#texA)" opacity="0.8"/>
<polygon points="293,831 488,831 478,838 460,848 440,856 410,862 385,864 353,860 337,856 320,851 304,842" fill="#fff" filter="url(#texN)" opacity="0.3"/>
<polygon points="270,878 282,879 295,885 308,897 320,908 327,890 334,871 343,866 397,869.5 414,874 427,881 436,889 439,900 441,886 446,876 452,867 465,860.5 482,852 495,846 495,905 470,918 456,925 430,940 400,948 380,950 340,950 300,947 270,945" fill="#c9d5e7" />
<polygon points="270,878 282,879 295,885 308,897 320,908 327,890 334,871 343,866 397,869.5 414,874 427,881 436,889 439,900 441,886 446,876 452,867 465,860.5 482,852 495,846 495,905 470,918 456,925 430,940 400,948 380,950 340,950 300,947 270,945" fill="#fff" filter="url(#texA)" opacity="0.8"/>
<polygon points="270,878 282,879 295,885 308,897 320,908 327,890 334,871 343,866 397,869.5 414,874 427,881 436,889 439,900 441,886 446,876 452,867 465,860.5 482,852 495,846 495,905 470,918 456,925 430,940 400,948 380,950 340,950 300,947 270,945" fill="#fff" filter="url(#texN)" opacity="0.3"/>
<polygon points="270,936 320,940 380,940 420,932 456,915 495,893 495,907 456,926 420,942 380,950 320,950 270,946" fill="#d9e1ea" />
<polygon points="300,832 340,850 385,858 440,851 470,838 480,831 488,831 470,843 440,857 410,862 385,864 353,860 320,851 304,842 293,831" fill="#d9e1ea" opacity="0.85"/>
<g filter="url(#blur1)"><ellipse cx="391" cy="843.5" rx="57" ry="12.5" fill="#9c7650" opacity="0.72"/><polygon points="334,872 343,867 397,870 414,874 427,881 436,889 439,902 420,912 380,912 340,908 328,895" fill="#a88360" opacity="0.35"/></g>
<path d="M337 876 Q342 870 360 870 L396 872.5 Q411 876 424 883 Q432 890 435 899" stroke="#8a5f38" stroke-width="3.5" fill="none" opacity="0.5"/>
<g filter="url(#blur1)"><ellipse cx="409" cy="836" rx="21" ry="7.5" fill="#efeeea"/><ellipse cx="343" cy="841" rx="7" ry="5" fill="#d8cbb8"/></g>
<path fill="#5e3818" fill-opacity="0.9" d="M356.3 834.6A0.8 0.6 160 1 0 354.9 835.2A0.8 0.6 160 1 0 356.3 834.6ZM412.8 846A0.8 0.4 56 1 0 413.7 847.4A0.8 0.4 56 1 0 412.8 846ZM381.7 837.3A0.8 0.4 71 1 0 382.2 838.8A0.8 0.4 71 1 0 381.7 837.3ZM335.6 842.7A0.4 0.4 67 1 0 335.9 843.4A0.4 0.4 67 1 0 335.6 842.7ZM371.8 840.2A0.4 0.4 96 1 0 371.7 841A0.4 0.4 96 1 0 371.8 840.2ZM413.6 835.9A0.4 0.3 122 1 0 413.2 836.6A0.4 0.3 122 1 0 413.6 835.9ZM404.3 841A0.7 0.3 94 1 0 404.2 842.3A0.7 0.3 94 1 0 404.3 841ZM405.6 832.6A0.8 0.6 45 1 0 406.7 833.8A0.8 0.6 45 1 0 405.6 832.6ZM430 844.2A1.1 0.6 175 1 0 427.9 844.3A1.1 0.6 175 1 0 430 844.2ZM391.3 839.6A0.7 0.7 119 1 0 390.6 840.8A0.7 0.7 119 1 0 391.3 839.6ZM413.3 833.9A0.9 0.7 9 1 0 415.1 834.2A0.9 0.7 9 1 0 413.3 833.9ZM435.6 843A0.6 0.4 16 1 0 436.8 843.3A0.6 0.4 16 1 0 435.6 843ZM418.7 844.9A0.6 0.5 43 1 0 419.6 845.8A0.6 0.5 43 1 0 418.7 844.9ZM404.9 831.6A1.1 0.7 54 1 0 406.1 833.4A1.1 0.7 54 1 0 404.9 831.6ZM400.5 835.7A1.1 0.6 80 1 0 400.8 837.8A1.1 0.6 80 1 0 400.5 835.7ZM421.7 847.2A0.9 0.5 76 1 0 422.1 848.9A0.9 0.5 76 1 0 421.7 847.2ZM422.9 836.6A0.9 0.5 103 1 0 422.5 838.2A0.9 0.5 103 1 0 422.9 836.6ZM397.2 843.7A0.6 0.6 145 1 0 396.1 844.5A0.6 0.6 145 1 0 397.2 843.7ZM378.5 834.4A0.9 0.5 2 1 0 380.2 834.5A0.9 0.5 2 1 0 378.5 834.4ZM384.5 850.7A0.7 0.4 91 1 0 384.4 852.1A0.7 0.4 91 1 0 384.5 850.7ZM411.4 844.3A0.8 0.4 57 1 0 412.2 845.6A0.8 0.4 57 1 0 411.4 844.3ZM438.9 843.2A1.1 0.7 96 1 0 438.6 845.4A1.1 0.7 96 1 0 438.9 843.2ZM404.6 852A0.6 0.5 110 1 0 404.1 853.1A0.6 0.5 110 1 0 404.6 852ZM346.8 842.8A0.5 0.4 32 1 0 347.7 843.4A0.5 0.4 32 1 0 346.8 842.8ZM403.2 840.1A0.5 0.4 100 1 0 403 841.1A0.5 0.4 100 1 0 403.2 840.1ZM406.5 846.1A0.8 0.6 121 1 0 405.6 847.5A0.8 0.6 121 1 0 406.5 846.1ZM375.5 854.3A0.7 0.5 38 1 0 376.7 855.2A0.7 0.5 38 1 0 375.5 854.3ZM396 835.8A0.7 0.6 28 1 0 397.2 836.5A0.7 0.6 28 1 0 396 835.8ZM344.7 848.4A1.2 0.7 92 1 0 344.6 850.8A1.2 0.7 92 1 0 344.7 848.4ZM356.3 843.8A0.9 0.5 41 1 0 357.6 845A0.9 0.5 41 1 0 356.3 843.8ZM377.2 838.4A0.9 0.5 44 1 0 378.5 839.7A0.9 0.5 44 1 0 377.2 838.4ZM438.5 839A0.7 0.4 3 1 0 439.9 839.1A0.7 0.4 3 1 0 438.5 839ZM399.9 841.7A1 0.5 60 1 0 400.9 843.4A1 0.5 60 1 0 399.9 841.7ZM415.8 835.8A0.9 0.6 139 1 0 414.4 837A0.9 0.6 139 1 0 415.8 835.8ZM390.1 841.2A1 0.5 125 1 0 388.9 842.8A1 0.5 125 1 0 390.1 841.2ZM362.3 847.2A0.6 0.4 151 1 0 361.3 847.8A0.6 0.4 151 1 0 362.3 847.2ZM427.7 851.4A0.9 0.6 52 1 0 428.8 852.9A0.9 0.6 52 1 0 427.7 851.4ZM432.8 843.3A1.2 0.7 7 1 0 435.1 843.6A1.2 0.7 7 1 0 432.8 843.3ZM367.5 841.5A0.9 0.5 151 1 0 365.8 842.4A0.9 0.5 151 1 0 367.5 841.5ZM392.2 832.4A0.8 0.7 101 1 0 391.9 833.9A0.8 0.7 101 1 0 392.2 832.4ZM377 840.3A0.5 0.4 113 1 0 376.6 841.2A0.5 0.4 113 1 0 377 840.3ZM395 836.8A1 0.7 119 1 0 394 838.6A1 0.7 119 1 0 395 836.8ZM404.2 839.5A1.1 0.7 122 1 0 403.1 841.3A1.1 0.7 122 1 0 404.2 839.5ZM433.9 846.7A0.8 0.5 60 1 0 434.7 848A0.8 0.5 60 1 0 433.9 846.7ZM359.9 841A0.4 0.3 145 1 0 359.3 841.5A0.4 0.3 145 1 0 359.9 841ZM376.2 854.1A0.5 0.3 55 1 0 376.7 854.9A0.5 0.3 55 1 0 376.2 854.1ZM434.6 842.9A1 0.5 166 1 0 432.7 843.3A1 0.5 166 1 0 434.6 842.9ZM405.2 851.3A0.5 0.5 116 1 0 404.8 852.2A0.5 0.5 116 1 0 405.2 851.3ZM350.9 844A0.9 0.6 95 1 0 350.8 845.7A0.9 0.6 95 1 0 350.9 844ZM388.4 891.9A1.6 0.7 30 1 0 391.3 893.5A1.6 0.7 30 1 0 388.4 891.9ZM332.8 894.9A0.9 0.6 58 1 0 333.7 896.5A0.9 0.6 58 1 0 332.8 894.9ZM399.7 904.2A0.8 0.6 49 1 0 400.7 905.3A0.8 0.6 49 1 0 399.7 904.2ZM363.8 870.7A1 0.9 109 1 0 363.2 872.6A1 0.9 109 1 0 363.8 870.7ZM386.2 887A1.1 1 30 1 0 388 888.1A1.1 1 30 1 0 386.2 887ZM396.2 873.2A0.6 0.6 57 1 0 396.9 874.2A0.6 0.6 57 1 0 396.2 873.2ZM346.3 903.1A1.3 0.6 91 1 0 346.2 905.7A1.3 0.6 91 1 0 346.3 903.1ZM388.9 875.2A1.1 0.6 106 1 0 388.3 877.4A1.1 0.6 106 1 0 388.9 875.2ZM381.8 874.7A1.2 0.6 42 1 0 383.5 876.3A1.2 0.6 42 1 0 381.8 874.7ZM332 890.6A1.1 0.9 27 1 0 334 891.6A1.1 0.9 27 1 0 332 890.6ZM385.8 900.3A0.9 0.8 5 1 0 387.6 900.5A0.9 0.8 5 1 0 385.8 900.3ZM401.3 879A1.8 0.9 149 1 0 398.2 880.9A1.8 0.9 149 1 0 401.3 879ZM351.6 880.9A0.8 0.6 143 1 0 350.2 881.9A0.8 0.6 143 1 0 351.6 880.9ZM338.7 874.6A1.5 0.7 39 1 0 341 876.5A1.5 0.7 39 1 0 338.7 874.6ZM408.4 885A1.2 1.1 108 1 0 407.6 887.3A1.2 1.1 108 1 0 408.4 885ZM395.8 881.8A1.1 1 154 1 0 393.8 882.7A1.1 1 154 1 0 395.8 881.8ZM426.2 899.6A1 0.6 28 1 0 427.9 900.5A1 0.6 28 1 0 426.2 899.6ZM365 904.2A1.2 0.8 53 1 0 366.4 906.1A1.2 0.8 53 1 0 365 904.2ZM371.7 875.2A1.2 0.9 105 1 0 371.1 877.5A1.2 0.9 105 1 0 371.7 875.2ZM381.5 882.8A1.2 0.9 88 1 0 381.6 885.3A1.2 0.9 88 1 0 381.5 882.8ZM378.4 909.5A0.9 0.7 25 1 0 380 910.2A0.9 0.7 25 1 0 378.4 909.5ZM377.1 880.6A1.1 0.7 143 1 0 375.3 882A1.1 0.7 143 1 0 377.1 880.6ZM378.2 904A1.9 1 102 1 0 377.3 907.6A1.9 1 102 1 0 378.2 904ZM368.8 897.2A2 1 20 1 0 372.6 898.6A2 1 20 1 0 368.8 897.2ZM435.1 889.7A1.2 0.7 77 1 0 435.6 892A1.2 0.7 77 1 0 435.1 889.7ZM337.3 882.8A1.1 0.5 128 1 0 336 884.5A1.1 0.5 128 1 0 337.3 882.8ZM380.6 897.3A1.3 0.9 17 1 0 383 898.1A1.3 0.9 17 1 0 380.6 897.3ZM286.1 925.4A1 0.7 101 1 0 285.7 927.3A1 0.7 101 1 0 286.1 925.4ZM308.3 917.1A0.9 0.6 120 1 0 307.4 918.7A0.9 0.6 120 1 0 308.3 917.1ZM270.3 906.2A1.6 0.7 58 1 0 271.9 908.9A1.6 0.7 58 1 0 270.3 906.2ZM300.8 934.9A1 0.5 38 1 0 302.5 936.2A1 0.5 38 1 0 300.8 934.9ZM294 909.6A1.1 0.7 153 1 0 292.1 910.5A1.1 0.7 153 1 0 294 909.6ZM296.4 897.4A0.6 0.5 68 1 0 296.9 898.6A0.6 0.5 68 1 0 296.4 897.4ZM321.8 915.9A0.8 0.5 31 1 0 323.2 916.8A0.8 0.5 31 1 0 321.8 915.9ZM297.8 913.9A0.9 0.7 123 1 0 296.7 915.5A0.9 0.7 123 1 0 297.8 913.9ZM275 881.5A0.7 0.6 49 1 0 276 882.7A0.7 0.6 49 1 0 275 881.5ZM465 881.5A1.1 0.6 130 1 0 463.5 883.2A1.1 0.6 130 1 0 465 881.5ZM471 883.5A0.8 0.5 94 1 0 470.9 885A0.8 0.5 94 1 0 471 883.5ZM451.7 886.5A1.4 0.8 61 1 0 453 888.9A1.4 0.8 61 1 0 451.7 886.5ZM483.7 876.7A1.1 0.8 155 1 0 481.6 877.7A1.1 0.8 155 1 0 483.7 876.7ZM490.9 878.9A1.3 0.8 98 1 0 490.5 881.4A1.3 0.8 98 1 0 490.9 878.9ZM464.4 868.3A1.4 0.8 1 1 0 467.2 868.3A1.4 0.8 1 1 0 464.4 868.3ZM457.7 891.7A0.9 0.6 151 1 0 456.2 892.6A0.9 0.6 151 1 0 457.7 891.7ZM472.4 886.2A0.9 0.7 167 1 0 470.7 886.5A0.9 0.7 167 1 0 472.4 886.2ZM449.4 884.7A1.2 0.7 71 1 0 450.2 887A1.2 0.7 71 1 0 449.4 884.7ZM485.5 879.7A0.8 0.4 62 1 0 486.2 881.1A0.8 0.4 62 1 0 485.5 879.7ZM483.2 854.5A1.4 0.7 113 1 0 482.1 857A1.4 0.7 113 1 0 483.2 854.5ZM494.9 859A0.6 0.4 163 1 0 493.7 859.4A0.6 0.4 163 1 0 494.9 859Z"/>
<path fill="#4f2e14" fill-opacity="0.95" d="M397 848.7A0.9 0.5 103 1 0 396.6 850.5A0.9 0.5 103 1 0 397 848.7ZM401.2 838.8A0.7 0.4 104 1 0 400.9 840.1A0.7 0.4 104 1 0 401.2 838.8ZM365.9 837.8A0.8 0.6 61 1 0 366.7 839.2A0.8 0.6 61 1 0 365.9 837.8ZM419.8 853.1A0.5 0.5 79 1 0 419.9 854.1A0.5 0.5 79 1 0 419.8 853.1ZM438.9 845A0.7 0.4 57 1 0 439.6 846.2A0.7 0.4 57 1 0 438.9 845ZM390.4 846.4A0.5 0.3 5 1 0 391.3 846.5A0.5 0.3 5 1 0 390.4 846.4ZM356.7 840.1A0.7 0.7 57 1 0 357.4 841.3A0.7 0.7 57 1 0 356.7 840.1ZM347.2 844.1A0.5 0.3 11 1 0 348.2 844.3A0.5 0.3 11 1 0 347.2 844.1ZM362.9 834.7A0.8 0.4 168 1 0 361.4 835A0.8 0.4 168 1 0 362.9 834.7ZM357.9 834.1A1.1 0.6 78 1 0 358.3 836.2A1.1 0.6 78 1 0 357.9 834.1ZM378.5 842.5A0.9 0.6 37 1 0 379.9 843.6A0.9 0.6 37 1 0 378.5 842.5ZM404.3 837.7A0.9 0.5 176 1 0 402.5 837.8A0.9 0.5 176 1 0 404.3 837.7ZM400.4 837.1A0.5 0.5 132 1 0 399.7 837.9A0.5 0.5 132 1 0 400.4 837.1ZM340.4 843.1A0.6 0.5 75 1 0 340.7 844.2A0.6 0.5 75 1 0 340.4 843.1ZM440.9 843.9A0.6 0.5 92 1 0 440.8 845.1A0.6 0.5 92 1 0 440.9 843.9ZM385.7 855.2A0.9 0.5 171 1 0 384 855.5A0.9 0.5 171 1 0 385.7 855.2ZM414.4 845.3A0.5 0.4 119 1 0 413.9 846.1A0.5 0.4 119 1 0 414.4 845.3ZM338.9 841.3A0.4 0.4 8 1 0 339.7 841.4A0.4 0.4 8 1 0 338.9 841.3ZM363 849.4A0.9 0.5 48 1 0 364.2 850.8A0.9 0.5 48 1 0 363 849.4ZM389 850.7A0.5 0.3 74 1 0 389.3 851.6A0.5 0.3 74 1 0 389 850.7ZM340 840.2A0.8 0.6 95 1 0 339.8 841.9A0.8 0.6 95 1 0 340 840.2ZM416.3 850.8A0.6 0.4 72 1 0 416.7 851.9A0.6 0.4 72 1 0 416.3 850.8ZM351.6 851.1A0.8 0.6 0 1 0 353.2 851.1A0.8 0.6 0 1 0 351.6 851.1ZM432.5 850A1 0.6 1 1 0 434.4 850.1A1 0.6 1 1 0 432.5 850ZM391.6 835.4A0.7 0.4 162 1 0 390.3 835.8A0.7 0.4 162 1 0 391.6 835.4ZM375.5 846.4A0.6 0.4 114 1 0 375 847.5A0.6 0.4 114 1 0 375.5 846.4ZM391.9 845.7A0.9 0.6 67 1 0 392.6 847.5A0.9 0.6 67 1 0 391.9 845.7ZM386 854.5A0.8 0.5 139 1 0 384.7 855.6A0.8 0.5 139 1 0 386 854.5ZM370.8 846.7A1.2 0.6 44 1 0 372.5 848.4A1.2 0.6 44 1 0 370.8 846.7ZM412.2 837.9A0.9 0.6 136 1 0 410.9 839.1A0.9 0.6 136 1 0 412.2 837.9ZM372.6 853.4A0.6 0.4 14 1 0 373.8 853.8A0.6 0.4 14 1 0 372.6 853.4ZM375.2 835.4A0.8 0.4 77 1 0 375.6 836.9A0.8 0.4 77 1 0 375.2 835.4ZM394.9 842.2A0.5 0.5 100 1 0 394.7 843.2A0.5 0.5 100 1 0 394.9 842.2ZM410 847.1A1.2 0.6 129 1 0 408.4 849A1.2 0.6 129 1 0 410 847.1ZM400.6 836.4A0.6 0.5 158 1 0 399.4 836.9A0.6 0.5 158 1 0 400.6 836.4ZM383.1 841.5A1.1 0.6 35 1 0 384.9 842.8A1.1 0.6 35 1 0 383.1 841.5ZM408.3 844.9A0.4 0.4 172 1 0 407.4 845.1A0.4 0.4 172 1 0 408.3 844.9ZM384.7 835.1A0.6 0.3 162 1 0 383.6 835.4A0.6 0.3 162 1 0 384.7 835.1ZM346.6 847.1A0.6 0.4 75 1 0 346.9 848.4A0.6 0.4 75 1 0 346.6 847.1ZM398.1 852.8A0.7 0.5 167 1 0 396.8 853.1A0.7 0.5 167 1 0 398.1 852.8ZM332.4 887.7A1.1 0.7 133 1 0 330.9 889.3A1.1 0.7 133 1 0 332.4 887.7ZM342.1 882.8A1.2 1 51 1 0 343.6 884.7A1.2 1 51 1 0 342.1 882.8ZM392.4 881.6A1.2 0.7 176 1 0 390.1 881.8A1.2 0.7 176 1 0 392.4 881.6ZM377.2 868.8A1 0.8 11 1 0 379.1 869.2A1 0.8 11 1 0 377.2 868.8ZM402.3 903.8A2 1.1 52 1 0 404.8 907.1A2 1.1 52 1 0 402.3 903.8ZM331.3 889A1 0.8 31 1 0 333 890A1 0.8 31 1 0 331.3 889ZM354.4 890.6A1.6 1.1 131 1 0 352.3 893.1A1.6 1.1 131 1 0 354.4 890.6ZM354.5 902.2A1.5 0.9 111 1 0 353.3 905A1.5 0.9 111 1 0 354.5 902.2ZM346 897.1A0.6 0.6 157 1 0 344.8 897.6A0.6 0.6 157 1 0 346 897.1ZM436.1 901.3A1.2 0.7 92 1 0 436 903.7A1.2 0.7 92 1 0 436.1 901.3ZM335.1 891.1A1.6 0.9 154 1 0 332.3 892.4A1.6 0.9 154 1 0 335.1 891.1ZM409 887.3A0.9 0.8 159 1 0 407.3 888A0.9 0.8 159 1 0 409 887.3ZM404 882A1.5 0.7 122 1 0 402.4 884.4A1.5 0.7 122 1 0 404 882ZM396.3 896A1.5 0.8 130 1 0 394.4 898.2A1.5 0.8 130 1 0 396.3 896ZM381.5 906.2A1.2 0.7 33 1 0 383.5 907.5A1.2 0.7 33 1 0 381.5 906.2ZM339.7 886A1.6 0.8 16 1 0 342.7 886.9A1.6 0.8 16 1 0 339.7 886ZM376.6 882.4A1.3 0.6 22 1 0 379 883.4A1.3 0.6 22 1 0 376.6 882.4ZM382.4 871.3A0.8 0.5 44 1 0 383.5 872.3A0.8 0.5 44 1 0 382.4 871.3ZM398.2 890.5A1.5 1 56 1 0 399.8 893A1.5 1 56 1 0 398.2 890.5ZM358.1 881A1.1 0.6 125 1 0 356.8 882.9A1.1 0.6 125 1 0 358.1 881ZM368.9 874.6A1.1 1.1 179 1 0 366.6 874.6A1.1 1.1 179 1 0 368.9 874.6ZM369.3 867.4A1.3 0.6 119 1 0 367.9 869.7A1.3 0.6 119 1 0 369.3 867.4ZM393.8 904.1A1.5 0.9 159 1 0 391 905.1A1.5 0.9 159 1 0 393.8 904.1ZM398.9 876.7A1.2 0.6 111 1 0 398 878.8A1.2 0.6 111 1 0 398.9 876.7ZM428.3 884.4A1.2 0.6 98 1 0 427.9 886.8A1.2 0.6 98 1 0 428.3 884.4ZM371.6 887.2A1 0.8 74 1 0 372.2 889.2A1 0.8 74 1 0 371.6 887.2ZM397.5 900.5A1.5 1 29 1 0 400.1 902A1.5 1 29 1 0 397.5 900.5ZM345.4 905.4A1.8 0.9 94 1 0 345.1 909A1.8 0.9 94 1 0 345.4 905.4ZM377 880.1A1.2 0.7 77 1 0 377.5 882.4A1.2 0.7 77 1 0 377 880.1ZM322 921.8A1.4 0.7 38 1 0 324.2 923.6A1.4 0.7 38 1 0 322 921.8ZM296.9 920.3A0.8 0.5 92 1 0 296.8 921.9A0.8 0.5 92 1 0 296.9 920.3ZM285.2 930.9A1.5 0.7 153 1 0 282.4 932.3A1.5 0.7 153 1 0 285.2 930.9ZM274.1 886.4A0.6 0.6 43 1 0 275 887.2A0.6 0.6 43 1 0 274.1 886.4ZM287.7 918.1A0.8 0.4 75 1 0 288.1 919.7A0.8 0.4 75 1 0 287.7 918.1ZM317 928.2A0.6 0.5 122 1 0 316.3 929.2A0.6 0.5 122 1 0 317 928.2ZM282.6 917.9A1.1 0.5 34 1 0 284.4 919.2A1.1 0.5 34 1 0 282.6 917.9ZM305.5 926.5A1.1 0.6 21 1 0 307.6 927.3A1.1 0.6 21 1 0 305.5 926.5ZM288.3 914.9A1.4 0.7 89 1 0 288.3 917.7A1.4 0.7 89 1 0 288.3 914.9ZM285.1 880.5A0.8 0.8 83 1 0 285.3 882.1A0.8 0.8 83 1 0 285.1 880.5ZM460 886.1A0.8 0.5 102 1 0 459.7 887.6A0.8 0.5 102 1 0 460 886.1ZM462.8 863.8A1.3 0.7 3 1 0 465.3 864A1.3 0.7 3 1 0 462.8 863.8ZM489.6 876.6A0.7 0.5 170 1 0 488.3 876.8A0.7 0.5 170 1 0 489.6 876.6ZM468.4 868.2A0.8 0.6 144 1 0 467.2 869.1A0.8 0.6 144 1 0 468.4 868.2Z"/>
<path fill="#7c5029" fill-opacity="0.85" d="M369.6 840.3A0.7 0.5 107 1 0 369.2 841.6A0.7 0.5 107 1 0 369.6 840.3ZM383.4 840.4A1.3 0.7 92 1 0 383.3 843A1.3 0.7 92 1 0 383.4 840.4ZM408 834.2A0.4 0.4 26 1 0 408.8 834.6A0.4 0.4 26 1 0 408 834.2ZM414.9 835A0.7 0.4 154 1 0 413.6 835.6A0.7 0.4 154 1 0 414.9 835ZM391.3 846.8A0.5 0.4 124 1 0 390.7 847.7A0.5 0.4 124 1 0 391.3 846.8ZM395.1 843.4A0.3 0.3 135 1 0 394.6 843.9A0.3 0.3 135 1 0 395.1 843.4ZM338.8 840.7A0.7 0.6 36 1 0 339.8 841.5A0.7 0.6 36 1 0 338.8 840.7ZM359 850.7A0.8 0.5 79 1 0 359.3 852.3A0.8 0.5 79 1 0 359 850.7ZM349.5 840.2A1.2 0.6 1 1 0 351.8 840.2A1.2 0.6 1 1 0 349.5 840.2ZM346.5 842.2A0.5 0.4 85 1 0 346.6 843.2A0.5 0.4 85 1 0 346.5 842.2ZM417.6 847.3A0.7 0.5 1 1 0 419.1 847.3A0.7 0.5 1 1 0 417.6 847.3ZM404.5 839.5A0.8 0.5 41 1 0 405.8 840.6A0.8 0.5 41 1 0 404.5 839.5ZM390.8 845A0.6 0.4 171 1 0 389.5 845.2A0.6 0.4 171 1 0 390.8 845ZM354.5 837.1A1.2 0.7 110 1 0 353.7 839.3A1.2 0.7 110 1 0 354.5 837.1ZM354.9 838A0.5 0.4 136 1 0 354.2 838.7A0.5 0.4 136 1 0 354.9 838ZM366.2 833A1.2 0.6 142 1 0 364.3 834.4A1.2 0.6 142 1 0 366.2 833ZM422.2 837.2A0.5 0.5 67 1 0 422.6 838.1A0.5 0.5 67 1 0 422.2 837.2ZM390.5 847.2A1.2 0.7 98 1 0 390.1 849.6A1.2 0.7 98 1 0 390.5 847.2ZM395 854.9A0.9 0.5 71 1 0 395.6 856.5A0.9 0.5 71 1 0 395 854.9ZM395 833.7A0.8 0.5 141 1 0 393.8 834.7A0.8 0.5 141 1 0 395 833.7ZM422.9 838A0.4 0.3 8 1 0 423.7 838.2A0.4 0.3 8 1 0 422.9 838ZM370.4 833.7A1.3 0.7 72 1 0 371.2 836.1A1.3 0.7 72 1 0 370.4 833.7ZM362.3 838.7A0.9 0.5 41 1 0 363.6 839.9A0.9 0.5 41 1 0 362.3 838.7ZM353.3 843A0.6 0.3 71 1 0 353.7 844.1A0.6 0.3 71 1 0 353.3 843ZM377.5 831.7A0.8 0.5 65 1 0 378.1 833.2A0.8 0.5 65 1 0 377.5 831.7ZM420.5 844.1A0.6 0.4 23 1 0 421.5 844.6A0.6 0.4 23 1 0 420.5 844.1ZM348.4 849A0.6 0.5 17 1 0 349.5 849.4A0.6 0.5 17 1 0 348.4 849ZM403.4 853.6A1.1 0.6 58 1 0 404.5 855.4A1.1 0.6 58 1 0 403.4 853.6ZM419.3 853A0.6 0.3 62 1 0 419.9 854.1A0.6 0.3 62 1 0 419.3 853ZM364.8 852.5A1 0.5 88 1 0 364.9 854.5A1 0.5 88 1 0 364.8 852.5ZM347.2 838.6A0.8 0.4 28 1 0 348.6 839.3A0.8 0.4 28 1 0 347.2 838.6ZM338.6 842.8A0.6 0.5 75 1 0 338.9 844.1A0.6 0.5 75 1 0 338.6 842.8ZM377.7 845A0.5 0.3 35 1 0 378.6 845.6A0.5 0.3 35 1 0 377.7 845ZM407.7 847.9A0.4 0.3 144 1 0 406.9 848.4A0.4 0.3 144 1 0 407.7 847.9ZM393.8 841.1A1 0.7 143 1 0 392.2 842.3A1 0.7 143 1 0 393.8 841.1ZM378.6 834.5A0.9 0.6 147 1 0 377.1 835.4A0.9 0.6 147 1 0 378.6 834.5ZM380.1 847.8A0.6 0.3 76 1 0 380.4 848.9A0.6 0.3 76 1 0 380.1 847.8ZM336.8 843A1 0.7 71 1 0 337.4 844.8A1 0.7 71 1 0 336.8 843ZM434 845.7A0.5 0.4 70 1 0 434.3 846.6A0.5 0.4 70 1 0 434 845.7ZM393.6 879.5A1.2 1.1 162 1 0 391.3 880.2A1.2 1.1 162 1 0 393.6 879.5ZM406.5 910.8A1.1 0.6 69 1 0 407.2 912.8A1.1 0.6 69 1 0 406.5 910.8ZM392.1 898.2A2.1 1.1 137 1 0 389.1 901A2.1 1.1 137 1 0 392.1 898.2ZM406.3 902.8A1 1 167 1 0 404.2 903.3A1 1 167 1 0 406.3 902.8ZM412.4 888.6A1.2 1 112 1 0 411.5 890.8A1.2 1 112 1 0 412.4 888.6ZM411 891A2.2 1 147 1 0 407.3 893.3A2.2 1 147 1 0 411 891ZM377.8 895.6A1.6 0.7 29 1 0 380.5 897.1A1.6 0.7 29 1 0 377.8 895.6ZM364.1 907.3A1.4 0.9 80 1 0 364.6 910A1.4 0.9 80 1 0 364.1 907.3ZM380.2 902.6A1.1 0.8 27 1 0 382.2 903.7A1.1 0.8 27 1 0 380.2 902.6ZM360.4 901.6A0.9 0.9 161 1 0 358.6 902.2A0.9 0.9 161 1 0 360.4 901.6ZM372.4 880.3A1.5 0.9 118 1 0 371 882.9A1.5 0.9 118 1 0 372.4 880.3ZM367 909.8A0.7 0.6 9 1 0 368.3 910A0.7 0.6 9 1 0 367 909.8ZM374.7 909.1A1.6 1.1 104 1 0 373.9 912.2A1.6 1.1 104 1 0 374.7 909.1ZM335.5 872.9A1.3 1.1 66 1 0 336.6 875.3A1.3 1.1 66 1 0 335.5 872.9ZM423.7 880.3A2.3 1.1 10 1 0 428.3 881.2A2.3 1.1 10 1 0 423.7 880.3ZM347.2 886.6A2.1 1.1 111 1 0 345.7 890.5A2.1 1.1 111 1 0 347.2 886.6ZM385.9 877A1.7 1 151 1 0 382.9 878.7A1.7 1 151 1 0 385.9 877ZM420.4 901.3A1.3 0.8 36 1 0 422.4 902.8A1.3 0.8 36 1 0 420.4 901.3ZM416.8 891.2A1.4 0.9 11 1 0 419.5 891.7A1.4 0.9 11 1 0 416.8 891.2ZM333.3 886.2A1.3 0.6 170 1 0 330.7 886.6A1.3 0.6 170 1 0 333.3 886.2ZM427.7 887.6A1.9 0.9 127 1 0 425.4 890.6A1.9 0.9 127 1 0 427.7 887.6ZM392.6 900.8A1.7 1 87 1 0 392.8 904.1A1.7 1 87 1 0 392.6 900.8ZM366 878.9A0.7 0.7 0 1 0 367.4 878.9A0.7 0.7 0 1 0 366 878.9ZM371.6 868.7A0.5 0.5 19 1 0 372.6 869A0.5 0.5 19 1 0 371.6 868.7ZM365.5 873.4A2 1.1 117 1 0 363.7 877A2 1.1 117 1 0 365.5 873.4ZM379.2 878.2A1.7 1 134 1 0 376.8 880.6A1.7 1 134 1 0 379.2 878.2ZM381.3 907A1.4 0.8 70 1 0 382.3 909.7A1.4 0.8 70 1 0 381.3 907ZM421.5 882.7A2.2 1.1 47 1 0 424.5 886A2.2 1.1 47 1 0 421.5 882.7ZM404.4 883.1A1.6 1 109 1 0 403.3 886.1A1.6 1 109 1 0 404.4 883.1ZM349.1 871A1.9 1 91 1 0 349 874.8A1.9 1 91 1 0 349.1 871ZM403 885.3A1.7 0.9 9 1 0 406.2 885.9A1.7 0.9 9 1 0 403 885.3ZM419.7 888.4A1 0.5 107 1 0 419.1 890.3A1 0.5 107 1 0 419.7 888.4ZM361.8 872.8A1.6 0.9 93 1 0 361.6 876A1.6 0.9 93 1 0 361.8 872.8ZM426.8 905.1A1.3 0.6 89 1 0 426.8 907.8A1.3 0.6 89 1 0 426.8 905.1ZM332.6 894.9A2 0.9 96 1 0 332.2 898.8A2 0.9 96 1 0 332.6 894.9ZM347.4 892.6A1.1 0.9 61 1 0 348.4 894.5A1.1 0.9 61 1 0 347.4 892.6ZM406.7 887.6A1.5 1 111 1 0 405.6 890.3A1.5 1 111 1 0 406.7 887.6ZM410.9 879.6A0.8 0.8 99 1 0 410.6 881.1A0.8 0.8 99 1 0 410.9 879.6ZM407.2 888.2A1.7 0.7 61 1 0 408.8 891.1A1.7 0.7 61 1 0 407.2 888.2ZM385.8 890.9A1.1 0.9 30 1 0 387.6 892A1.1 0.9 30 1 0 385.8 890.9ZM334 891.9A0.7 0.5 108 1 0 333.5 893.3A0.7 0.5 108 1 0 334 891.9ZM394.5 880.9A1.6 1 162 1 0 391.5 881.8A1.6 1 162 1 0 394.5 880.9ZM359.2 888.7A1.2 0.9 44 1 0 360.9 890.4A1.2 0.9 44 1 0 359.2 888.7ZM420.8 906.4A1.5 1.1 27 1 0 423.5 907.8A1.5 1.1 27 1 0 420.8 906.4ZM350.9 869.3A1.9 1 57 1 0 353 872.5A1.9 1 57 1 0 350.9 869.3ZM398.9 886A1.9 0.9 10 1 0 402.7 886.7A1.9 0.9 10 1 0 398.9 886ZM347.6 897.9A1.2 0.6 12 1 0 350 898.4A1.2 0.6 12 1 0 347.6 897.9ZM360.5 867.8A0.5 0.5 72 1 0 360.8 868.9A0.5 0.5 72 1 0 360.5 867.8ZM340.4 885.6A0.8 0.6 31 1 0 341.8 886.4A0.8 0.6 31 1 0 340.4 885.6ZM354.6 892.3A1.4 0.7 9 1 0 357.5 892.8A1.4 0.7 9 1 0 354.6 892.3ZM372.6 910A1.4 0.6 131 1 0 370.7 912.2A1.4 0.6 131 1 0 372.6 910ZM371.7 871.2A2.4 1.1 171 1 0 367 871.9A2.4 1.1 171 1 0 371.7 871.2ZM375.4 887.6A0.7 0.6 59 1 0 376.1 888.8A0.7 0.6 59 1 0 375.4 887.6ZM423.4 889.6A2 1 114 1 0 421.7 893.3A2 1 114 1 0 423.4 889.6ZM362.9 907.1A0.9 0.8 161 1 0 361.3 907.7A0.9 0.8 161 1 0 362.9 907.1ZM392.8 903.6A1.5 0.9 95 1 0 392.5 906.7A1.5 0.9 95 1 0 392.8 903.6ZM381.7 890.8A0.8 0.5 167 1 0 380.1 891.1A0.8 0.5 167 1 0 381.7 890.8ZM390.6 876.5A2 0.9 129 1 0 388 879.7A2 0.9 129 1 0 390.6 876.5ZM429.5 898.5A0.8 0.7 33 1 0 430.9 899.4A0.8 0.7 33 1 0 429.5 898.5ZM428.7 904.8A2 1 89 1 0 428.7 908.8A2 1 89 1 0 428.7 904.8ZM332.6 884.4A0.8 0.6 97 1 0 332.3 886A0.8 0.6 97 1 0 332.6 884.4ZM406.9 879.5A2.3 1.1 168 1 0 402.3 880.4A2.3 1.1 168 1 0 406.9 879.5ZM296.8 906A0.7 0.5 155 1 0 295.5 906.6A0.7 0.5 155 1 0 296.8 906ZM270.6 935.5A0.7 0.5 85 1 0 270.7 936.9A0.7 0.5 85 1 0 270.6 935.5ZM316.6 905.9A1.1 0.7 151 1 0 314.6 907A1.1 0.7 151 1 0 316.6 905.9ZM307.6 912.9A1.1 0.7 137 1 0 306 914.4A1.1 0.7 137 1 0 307.6 912.9ZM283.3 909.7A0.6 0.6 144 1 0 282.3 910.4A0.6 0.6 144 1 0 283.3 909.7ZM291 892.3A1.1 0.8 159 1 0 288.8 893.1A1.1 0.8 159 1 0 291 892.3ZM284.7 935.9A1.2 0.8 142 1 0 282.7 937.4A1.2 0.8 142 1 0 284.7 935.9ZM283.1 918.5A0.9 0.7 129 1 0 282 920A0.9 0.7 129 1 0 283.1 918.5ZM271.9 901.8A1.2 0.7 7 1 0 274.4 902.1A1.2 0.7 7 1 0 271.9 901.8ZM276 904.1A1.3 0.7 109 1 0 275.1 906.6A1.3 0.7 109 1 0 276 904.1ZM317.7 915.4A0.9 0.6 143 1 0 316.2 916.5A0.9 0.6 143 1 0 317.7 915.4ZM288.8 938A1.1 0.5 15 1 0 290.8 938.6A1.1 0.5 15 1 0 288.8 938ZM274.3 922.2A1.5 0.8 122 1 0 272.7 924.8A1.5 0.8 122 1 0 274.3 922.2ZM273.3 918.2A1 0.5 79 1 0 273.7 920.2A1 0.5 79 1 0 273.3 918.2ZM320.9 912A1.3 0.9 60 1 0 322.2 914.3A1.3 0.9 60 1 0 320.9 912ZM271.9 889.5A1.7 0.8 56 1 0 273.7 892.4A1.7 0.8 56 1 0 271.9 889.5ZM306.8 919.8A0.6 0.4 170 1 0 305.6 920A0.6 0.4 170 1 0 306.8 919.8ZM326.5 892.1A0.6 0.4 6 1 0 327.8 892.2A0.6 0.4 6 1 0 326.5 892.1ZM474.5 910.6A0.8 0.6 54 1 0 475.4 911.9A0.8 0.6 54 1 0 474.5 910.6ZM405.5 932A0.7 0.5 176 1 0 404.2 932.1A0.7 0.5 176 1 0 405.5 932ZM447.3 892.4A0.9 0.6 74 1 0 447.8 894.1A0.9 0.6 74 1 0 447.3 892.4ZM493.9 864.4A0.6 0.5 48 1 0 494.7 865.4A0.6 0.5 48 1 0 493.9 864.4ZM304.7 935.6A0.7 0.5 46 1 0 305.7 936.5A0.7 0.5 46 1 0 304.7 935.6ZM288.1 896.1A0.5 0.4 27 1 0 289 896.5A0.5 0.4 27 1 0 288.1 896.1ZM309.8 936.2A0.8 0.4 26 1 0 311.2 937A0.8 0.4 26 1 0 309.8 936.2ZM435.6 915.8A1 0.6 167 1 0 433.7 916.2A1 0.6 167 1 0 435.6 915.8ZM341.9 877A0.5 0.4 8 1 0 342.9 877.1A0.5 0.4 8 1 0 341.9 877ZM410.2 936.6A0.5 0.4 46 1 0 411 937.4A0.5 0.4 46 1 0 410.2 936.6ZM398 931.8A1 0.5 119 1 0 397 933.6A1 0.5 119 1 0 398 931.8ZM444.8 918.7A0.6 0.3 177 1 0 443.6 918.8A0.6 0.3 177 1 0 444.8 918.7ZM388.3 877.9A1 0.5 109 1 0 387.6 879.7A1 0.5 109 1 0 388.3 877.9ZM338.5 877.4A1 0.5 81 1 0 338.8 879.4A1 0.5 81 1 0 338.5 877.4ZM392.3 931.1A0.5 0.4 158 1 0 391.3 931.5A0.5 0.4 158 1 0 392.3 931.1ZM319.5 909.8A0.6 0.3 46 1 0 320.3 910.6A0.6 0.3 46 1 0 319.5 909.8ZM467.8 869.9A0.9 0.6 170 1 0 466 870.3A0.9 0.6 170 1 0 467.8 869.9ZM366.4 932.9A0.5 0.4 50 1 0 367.1 933.8A0.5 0.4 50 1 0 366.4 932.9ZM404.5 921.2A0.8 0.5 177 1 0 402.9 921.2A0.8 0.5 177 1 0 404.5 921.2ZM338.7 922.6A0.7 0.5 129 1 0 337.9 923.6A0.7 0.5 129 1 0 338.7 922.6ZM389.3 878.3A0.8 0.5 3 1 0 390.9 878.4A0.8 0.5 3 1 0 389.3 878.3ZM361.5 915.9A0.8 0.6 179 1 0 359.9 915.9A0.8 0.6 179 1 0 361.5 915.9ZM454.4 919.4A0.8 0.5 156 1 0 452.9 920.1A0.8 0.5 156 1 0 454.4 919.4ZM277.8 894.1A0.6 0.4 45 1 0 278.6 895A0.6 0.4 45 1 0 277.8 894.1ZM387.7 941A0.8 0.5 14 1 0 389.1 941.4A0.8 0.5 14 1 0 387.7 941ZM403 913.3A1 0.6 93 1 0 402.9 915.2A1 0.6 93 1 0 403 913.3ZM349.1 933.6A0.8 0.5 172 1 0 347.5 933.8A0.8 0.5 172 1 0 349.1 933.6ZM401.5 939.2A0.7 0.5 69 1 0 401.9 940.5A0.7 0.5 69 1 0 401.5 939.2ZM477.9 895A0.9 0.5 94 1 0 477.7 896.8A0.9 0.5 94 1 0 477.9 895ZM483.3 858.4A1.1 0.7 46 1 0 484.8 860A1.1 0.7 46 1 0 483.3 858.4ZM487.6 865.6A0.7 0.7 99 1 0 487.4 866.9A0.7 0.7 99 1 0 487.6 865.6ZM476.4 888.6A0.8 0.7 106 1 0 475.9 890.1A0.8 0.7 106 1 0 476.4 888.6ZM472 875.9A0.8 0.5 65 1 0 472.7 877.4A0.8 0.5 65 1 0 472 875.9ZM465.6 874.8A0.8 0.6 164 1 0 464 875.3A0.8 0.6 164 1 0 465.6 874.8ZM463.3 881.6A1.5 0.9 57 1 0 465 884.2A1.5 0.9 57 1 0 463.3 881.6ZM457.6 877.2A1.2 0.8 34 1 0 459.6 878.6A1.2 0.8 34 1 0 457.6 877.2ZM487.1 870.4A1.3 0.7 8 1 0 489.6 870.8A1.3 0.7 8 1 0 487.1 870.4ZM492.8 883.6A0.8 0.5 23 1 0 494.2 884.2A0.8 0.5 23 1 0 492.8 883.6ZM474.7 881.4A1 0.7 176 1 0 472.7 881.5A1 0.7 176 1 0 474.7 881.4ZM476.2 885.5A1 0.8 154 1 0 474.4 886.4A1 0.8 154 1 0 476.2 885.5ZM494.5 881.6A1 0.7 64 1 0 495.3 883.4A1 0.7 64 1 0 494.5 881.6ZM292.5 938.1A0.5 0.3 61 1 0 292.9 938.9A0.5 0.3 61 1 0 292.5 938.1ZM307.7 943.6A0.4 0.3 144 1 0 307.1 944A0.4 0.3 144 1 0 307.7 943.6ZM359.3 949A0.4 0.4 83 1 0 359.4 949.8A0.4 0.4 83 1 0 359.3 949ZM400 940A0.4 0.3 77 1 0 400.1 940.8A0.4 0.3 77 1 0 400 940ZM490.5 897.2A0.4 0.4 167 1 0 489.7 897.4A0.4 0.4 167 1 0 490.5 897.2ZM465.5 916.1A0.4 0.3 18 1 0 466.2 916.4A0.4 0.3 18 1 0 465.5 916.1ZM471.3 913.2A0.5 0.4 94 1 0 471.2 914.3A0.5 0.4 94 1 0 471.3 913.2ZM434.2 935.2A0.3 0.3 137 1 0 433.7 935.7A0.3 0.3 137 1 0 434.2 935.2ZM395.7 944.6A0.4 0.4 136 1 0 395.1 945.1A0.4 0.4 136 1 0 395.7 944.6ZM335.1 942.3A0.4 0.3 166 1 0 334.3 942.5A0.4 0.3 166 1 0 335.1 942.3ZM485.8 909.4A0.5 0.4 96 1 0 485.7 910.5A0.5 0.4 96 1 0 485.8 909.4ZM446.3 925.5A0.4 0.3 19 1 0 447 925.7A0.4 0.3 19 1 0 446.3 925.5ZM460.3 917.8A0.3 0.3 91 1 0 460.3 918.5A0.3 0.3 91 1 0 460.3 917.8ZM284.1 941.4A0.4 0.3 125 1 0 283.6 942.1A0.4 0.3 125 1 0 284.1 941.4ZM306.5 940.5A0.3 0.3 67 1 0 306.7 941.1A0.3 0.3 67 1 0 306.5 940.5ZM299.7 946.6A0.4 0.3 60 1 0 300.1 947.3A0.4 0.3 60 1 0 299.7 946.6ZM296.3 946.4A0.4 0.4 155 1 0 295.5 946.7A0.4 0.4 155 1 0 296.3 946.4Z"/>
<path fill="#6e4420" fill-opacity="0.9" d="M417.1 847A0.8 0.4 147 1 0 415.8 847.9A0.8 0.4 147 1 0 417.1 847ZM403.6 833.4A1.2 0.6 111 1 0 402.7 835.7A1.2 0.6 111 1 0 403.6 833.4ZM366.3 851.8A0.5 0.4 94 1 0 366.2 852.8A0.5 0.4 94 1 0 366.3 851.8ZM438.7 838A0.6 0.4 164 1 0 437.7 838.3A0.6 0.4 164 1 0 438.7 838ZM370.6 847.8A0.6 0.6 42 1 0 371.6 848.7A0.6 0.6 42 1 0 370.6 847.8ZM378.7 835A0.6 0.5 40 1 0 379.6 835.7A0.6 0.5 40 1 0 378.7 835ZM346.8 843.3A0.9 0.6 12 1 0 348.6 843.7A0.9 0.6 12 1 0 346.8 843.3ZM429.9 849.8A0.5 0.3 142 1 0 429 850.4A0.5 0.3 142 1 0 429.9 849.8ZM414.3 838A0.4 0.3 128 1 0 413.8 838.6A0.4 0.3 128 1 0 414.3 838ZM365 845.1A0.7 0.5 130 1 0 364.1 846.2A0.7 0.5 130 1 0 365 845.1ZM384.5 851.1A0.5 0.3 76 1 0 384.8 852A0.5 0.3 76 1 0 384.5 851.1ZM348.1 837.3A1.1 0.6 113 1 0 347.3 839.2A1.1 0.6 113 1 0 348.1 837.3ZM351.4 841.7A0.7 0.4 139 1 0 350.4 842.6A0.7 0.4 139 1 0 351.4 841.7ZM393.4 853A0.5 0.5 26 1 0 394.3 853.5A0.5 0.5 26 1 0 393.4 853ZM437.6 847.6A0.9 0.4 110 1 0 437 849.2A0.9 0.4 110 1 0 437.6 847.6ZM410.1 845.1A0.6 0.4 23 1 0 411.3 845.6A0.6 0.4 23 1 0 410.1 845.1ZM360.9 845.1A0.6 0.5 22 1 0 362 845.6A0.6 0.5 22 1 0 360.9 845.1ZM410 848.5A0.8 0.5 4 1 0 411.6 848.6A0.8 0.5 4 1 0 410 848.5ZM346.5 838.7A1 0.5 154 1 0 344.7 839.5A1 0.5 154 1 0 346.5 838.7ZM425.7 851A1.2 0.6 60 1 0 426.9 853A1.2 0.6 60 1 0 425.7 851ZM362.1 842.9A0.6 0.5 87 1 0 362.2 844A0.6 0.5 87 1 0 362.1 842.9ZM388.7 854.3A0.6 0.6 44 1 0 389.6 855.2A0.6 0.6 44 1 0 388.7 854.3ZM386.9 832.9A0.5 0.4 38 1 0 387.6 833.5A0.5 0.4 38 1 0 386.9 832.9ZM398.1 851A0.8 0.5 21 1 0 399.6 851.6A0.8 0.5 21 1 0 398.1 851ZM367 835.6A0.9 0.5 99 1 0 366.7 837.3A0.9 0.5 99 1 0 367 835.6ZM437.8 845A1.3 0.7 62 1 0 439 847.3A1.3 0.7 62 1 0 437.8 845ZM417.7 833.2A1.1 0.6 114 1 0 416.8 835.2A1.1 0.6 114 1 0 417.7 833.2ZM421.2 850.5A1.2 0.6 46 1 0 422.8 852.2A1.2 0.6 46 1 0 421.2 850.5ZM416 835.3A0.5 0.3 107 1 0 415.6 836.3A0.5 0.3 107 1 0 416 835.3ZM355.1 843.7A0.7 0.5 137 1 0 354 844.7A0.7 0.5 137 1 0 355.1 843.7ZM424 840.9A0.6 0.3 3 1 0 425.2 841A0.6 0.3 3 1 0 424 840.9ZM369 851.7A1 0.7 13 1 0 371 852.2A1 0.7 13 1 0 369 851.7ZM358.4 841.2A0.9 0.5 5 1 0 360.3 841.4A0.9 0.5 5 1 0 358.4 841.2ZM362.2 834.4A0.7 0.4 30 1 0 363.4 835.1A0.7 0.4 30 1 0 362.2 834.4ZM354.3 839.4A0.5 0.4 105 1 0 354 840.4A0.5 0.4 105 1 0 354.3 839.4ZM369.3 854.2A0.7 0.6 103 1 0 369 855.6A0.7 0.6 103 1 0 369.3 854.2ZM433.5 837.3A0.6 0.6 79 1 0 433.7 838.5A0.6 0.6 79 1 0 433.5 837.3ZM364.3 847.8A0.7 0.7 28 1 0 365.6 848.5A0.7 0.7 28 1 0 364.3 847.8ZM392.4 842.7A0.6 0.4 154 1 0 391.4 843.2A0.6 0.4 154 1 0 392.4 842.7ZM424.6 837.7A0.9 0.6 50 1 0 425.7 839A0.9 0.6 50 1 0 424.6 837.7ZM419.3 846.9A0.5 0.5 166 1 0 418.3 847.1A0.5 0.5 166 1 0 419.3 846.9ZM382 852.8A1 0.6 4 1 0 383.9 853A1 0.6 4 1 0 382 852.8ZM399.3 907A2.4 1.1 47 1 0 402.5 910.6A2.4 1.1 47 1 0 399.3 907ZM383.8 895.1A1.4 1.1 2 1 0 386.5 895.2A1.4 1.1 2 1 0 383.8 895.1ZM406 871.8A1.4 0.8 79 1 0 406.5 874.6A1.4 0.8 79 1 0 406 871.8ZM412.2 884.2A1.5 0.7 109 1 0 411.2 887.1A1.5 0.7 109 1 0 412.2 884.2ZM376.1 882.4A1.9 1 54 1 0 378.2 885.5A1.9 1 54 1 0 376.1 882.4ZM342.8 893.3A0.9 0.5 28 1 0 344.4 894.1A0.9 0.5 28 1 0 342.8 893.3ZM351.7 893.6A1.2 0.9 162 1 0 349.4 894.3A1.2 0.9 162 1 0 351.7 893.6ZM379.6 876.2A1.3 1 170 1 0 377.1 876.6A1.3 1 170 1 0 379.6 876.2ZM386.7 895.8A1.4 0.8 132 1 0 384.8 897.9A1.4 0.8 132 1 0 386.7 895.8ZM417.2 911.6A1 0.8 21 1 0 419 912.3A1 0.8 21 1 0 417.2 911.6ZM410.5 910.1A1.9 1.1 170 1 0 406.6 910.7A1.9 1.1 170 1 0 410.5 910.1ZM411.6 892.7A1.2 1 36 1 0 413.5 894.1A1.2 1 36 1 0 411.6 892.7ZM404.8 894.1A1.6 0.9 173 1 0 401.6 894.4A1.6 0.9 173 1 0 404.8 894.1ZM415.4 899.7A1.1 0.5 155 1 0 413.4 900.6A1.1 0.5 155 1 0 415.4 899.7ZM424.3 898.2A1 0.5 146 1 0 422.5 899.4A1 0.5 146 1 0 424.3 898.2ZM412.8 878.5A2.1 1 0 1 0 417 878.5A2.1 1 0 1 0 412.8 878.5ZM401.8 877.6A1.4 0.7 104 1 0 401.1 880.4A1.4 0.7 104 1 0 401.8 877.6ZM379.9 901.2A1.1 0.5 163 1 0 377.7 901.8A1.1 0.5 163 1 0 379.9 901.2ZM425.5 884.5A1.6 0.8 143 1 0 422.9 886.4A1.6 0.8 143 1 0 425.5 884.5ZM379.9 877.6A0.9 0.9 98 1 0 379.7 879.4A0.9 0.9 98 1 0 379.9 877.6ZM343 871.5A1.1 1 155 1 0 341.1 872.3A1.1 1 155 1 0 343 871.5ZM349.4 879.7A1.3 1 176 1 0 346.7 879.8A1.3 1 176 1 0 349.4 879.7ZM331.1 887.7A1.1 0.9 60 1 0 332.2 889.5A1.1 0.9 60 1 0 331.1 887.7ZM336.9 894.3A1.8 0.8 77 1 0 337.7 897.8A1.8 0.8 77 1 0 336.9 894.3ZM388.8 877.4A1.5 0.7 153 1 0 386.2 878.7A1.5 0.7 153 1 0 388.8 877.4ZM300.7 893.2A0.8 0.5 10 1 0 302.3 893.5A0.8 0.5 10 1 0 300.7 893.2ZM271.9 932.2A0.9 0.6 5 1 0 273.7 932.4A0.9 0.6 5 1 0 271.9 932.2ZM312.8 924.6A0.8 0.7 103 1 0 312.5 926.1A0.8 0.7 103 1 0 312.8 924.6ZM302.4 920.5A1.7 0.7 112 1 0 301.2 923.5A1.7 0.7 112 1 0 302.4 920.5ZM295.4 900.5A1.2 0.7 61 1 0 296.5 902.6A1.2 0.7 61 1 0 295.4 900.5ZM275.8 881A1.1 0.8 178 1 0 273.7 881.1A1.1 0.8 178 1 0 275.8 881ZM299.2 934A0.9 0.4 137 1 0 297.8 935.2A0.9 0.4 137 1 0 299.2 934ZM297.1 920.1A0.8 0.8 108 1 0 296.6 921.6A0.8 0.8 108 1 0 297.1 920.1ZM315.8 908.4A1 0.6 103 1 0 315.3 910.3A1 0.6 103 1 0 315.8 908.4ZM273.9 936.2A1.1 0.6 78 1 0 274.3 938.4A1.1 0.6 78 1 0 273.9 936.2ZM291.8 937.1A0.7 0.6 173 1 0 290.4 937.3A0.7 0.6 173 1 0 291.8 937.1ZM453.2 898.5A1 0.8 2 1 0 455.1 898.6A1 0.8 2 1 0 453.2 898.5ZM463.1 885.7A0.6 0.5 159 1 0 462.1 886.1A0.6 0.5 159 1 0 463.1 885.7ZM454.3 869.1A0.9 0.8 108 1 0 453.7 870.9A0.9 0.8 108 1 0 454.3 869.1ZM451.2 869A1.1 0.6 137 1 0 449.6 870.5A1.1 0.6 137 1 0 451.2 869ZM472.4 876.7A1.2 0.8 143 1 0 470.6 878A1.2 0.8 143 1 0 472.4 876.7ZM447 880.5A0.8 0.6 169 1 0 445.5 880.7A0.8 0.6 169 1 0 447 880.5ZM486.3 860.2A0.8 0.4 45 1 0 487.5 861.3A0.8 0.4 45 1 0 486.3 860.2ZM469.3 889.2A1 0.8 51 1 0 470.6 890.8A1 0.8 51 1 0 469.3 889.2ZM482.1 875.3A0.7 0.6 137 1 0 481.1 876.2A0.7 0.6 137 1 0 482.1 875.3ZM447.6 888.1A1.5 0.8 169 1 0 444.6 888.7A1.5 0.8 169 1 0 447.6 888.1Z"/>
<path fill="#8e6136" fill-opacity="0.8" d="M365.6 874.7A1.1 0.7 90 1 0 365.6 876.8A1.1 0.7 90 1 0 365.6 874.7ZM355.4 889A0.7 0.5 84 1 0 355.6 890.4A0.7 0.5 84 1 0 355.4 889ZM436.3 898.7A1.3 0.9 118 1 0 435.1 901A1.3 0.9 118 1 0 436.3 898.7ZM360.7 899.7A1.1 0.7 72 1 0 361.4 901.8A1.1 0.7 72 1 0 360.7 899.7ZM368.8 879A1.7 0.9 6 1 0 372.2 879.4A1.7 0.9 6 1 0 368.8 879ZM347.5 878.5A0.7 0.5 38 1 0 348.5 879.3A0.7 0.5 38 1 0 347.5 878.5ZM350.9 880.1A2.4 1.1 130 1 0 347.9 883.7A2.4 1.1 130 1 0 350.9 880.1ZM366.8 875.2A1.8 1 109 1 0 365.6 878.6A1.8 1 109 1 0 366.8 875.2ZM407.1 908.9A1.2 0.9 116 1 0 406 911.1A1.2 0.9 116 1 0 407.1 908.9ZM393 883.5A1.2 0.6 19 1 0 395.3 884.4A1.2 0.6 19 1 0 393 883.5ZM359.6 892.5A1.7 0.9 39 1 0 362.2 894.6A1.7 0.9 39 1 0 359.6 892.5ZM387.6 878.8A1.2 0.5 119 1 0 386.4 880.9A1.2 0.5 119 1 0 387.6 878.8ZM426.1 905.7A0.9 0.5 154 1 0 424.5 906.5A0.9 0.5 154 1 0 426.1 905.7ZM330.6 889.2A2.3 1.1 4 1 0 335.2 889.5A2.3 1.1 4 1 0 330.6 889.2ZM423.6 895.2A0.9 0.6 150 1 0 422 896.1A0.9 0.6 150 1 0 423.6 895.2ZM363.1 891.6A1.4 1 119 1 0 361.7 894A1.4 1 119 1 0 363.1 891.6ZM397.5 871.2A2.1 1 145 1 0 394 873.6A2.1 1 145 1 0 397.5 871.2ZM361.8 888.1A0.8 0.5 0 1 0 363.5 888.1A0.8 0.5 0 1 0 361.8 888.1ZM382.8 899.6A1.7 0.8 118 1 0 381.3 902.5A1.7 0.8 118 1 0 382.8 899.6ZM427.4 903.5A1 0.6 128 1 0 426.1 905.1A1 0.6 128 1 0 427.4 903.5ZM404.1 904.8A1 0.5 143 1 0 402.4 906A1 0.5 143 1 0 404.1 904.8ZM412.4 877.3A2.3 1.1 30 1 0 416.4 879.6A2.3 1.1 30 1 0 412.4 877.3ZM399.2 876.1A1.7 0.8 141 1 0 396.6 878.2A1.7 0.8 141 1 0 399.2 876.1ZM429.1 880.9A2.3 1 103 1 0 428 885.3A2.3 1 103 1 0 429.1 880.9ZM413.7 884.2A2.1 1.1 52 1 0 416.3 887.5A2.1 1.1 52 1 0 413.7 884.2ZM390 908.1A2.1 1.1 66 1 0 391.7 911.9A2.1 1.1 66 1 0 390 908.1ZM426.7 889.3A1 0.6 110 1 0 426.1 891.1A1 0.6 110 1 0 426.7 889.3ZM290.1 888.6A0.7 0.6 54 1 0 290.9 889.7A0.7 0.6 54 1 0 290.1 888.6ZM281.9 899.1A1.1 0.6 60 1 0 283 901A1.1 0.6 60 1 0 281.9 899.1ZM270.9 913.3A1 0.5 79 1 0 271.2 915.2A1 0.5 79 1 0 270.9 913.3ZM278 929.3A2 0.9 72 1 0 279.2 933A2 0.9 72 1 0 278 929.3ZM292.1 907.7A1.1 0.7 11 1 0 294.3 908.2A1.1 0.7 11 1 0 292.1 907.7ZM272 929.7A0.9 0.6 162 1 0 270.4 930.2A0.9 0.6 162 1 0 272 929.7ZM276.6 901.1A0.7 0.4 165 1 0 275.2 901.5A0.7 0.4 165 1 0 276.6 901.1ZM296.7 910A0.6 0.5 27 1 0 297.8 910.5A0.6 0.5 27 1 0 296.7 910ZM297.7 894.4A1.8 0.8 144 1 0 294.8 896.5A1.8 0.8 144 1 0 297.7 894.4ZM305.6 898.8A0.8 0.6 146 1 0 304.3 899.7A0.8 0.6 146 1 0 305.6 898.8ZM310.7 933.5A1.4 0.9 6 1 0 313.5 933.8A1.4 0.9 6 1 0 310.7 933.5ZM372.9 911.9A1.1 0.6 113 1 0 372.1 913.8A1.1 0.6 113 1 0 372.9 911.9ZM334.6 910A0.7 0.5 69 1 0 335.1 911.4A0.7 0.5 69 1 0 334.6 910ZM308.5 920.8A0.6 0.4 134 1 0 307.6 921.7A0.6 0.4 134 1 0 308.5 920.8ZM277.8 932.2A0.8 0.5 33 1 0 279.2 933.1A0.8 0.5 33 1 0 277.8 932.2ZM287.6 881.7A0.6 0.5 73 1 0 287.9 882.8A0.6 0.5 73 1 0 287.6 881.7ZM386.7 932.5A0.4 0.4 8 1 0 387.5 932.6A0.4 0.4 8 1 0 386.7 932.5ZM309 928.4A0.7 0.5 142 1 0 307.9 929.3A0.7 0.5 142 1 0 309 928.4ZM403.2 872.5A0.6 0.6 78 1 0 403.4 873.6A0.6 0.6 78 1 0 403.2 872.5ZM460.7 912.5A0.7 0.5 133 1 0 459.8 913.6A0.7 0.5 133 1 0 460.7 912.5ZM370.8 878.7A0.8 0.5 107 1 0 370.3 880.2A0.8 0.5 107 1 0 370.8 878.7ZM473 872.6A0.7 0.4 143 1 0 471.8 873.5A0.7 0.4 143 1 0 473 872.6ZM391.9 884.7A0.9 0.5 119 1 0 391 886.4A0.9 0.5 119 1 0 391.9 884.7ZM343.9 931.3A0.8 0.5 74 1 0 344.3 932.8A0.8 0.5 74 1 0 343.9 931.3ZM291.6 944.9A0.7 0.4 157 1 0 290.4 945.4A0.7 0.4 157 1 0 291.6 944.9ZM458.6 908.6A0.4 0.3 66 1 0 458.9 909.3A0.4 0.3 66 1 0 458.6 908.6ZM342.2 926A0.6 0.5 117 1 0 341.6 927.1A0.6 0.5 117 1 0 342.2 926ZM458.5 879.3A0.9 0.5 165 1 0 456.8 879.7A0.9 0.5 165 1 0 458.5 879.3ZM393 940.5A0.3 0.3 120 1 0 392.7 941.1A0.3 0.3 120 1 0 393 940.5ZM352.9 932.1A0.6 0.6 130 1 0 352.1 933A0.6 0.6 130 1 0 352.9 932.1ZM405.9 938.4A0.6 0.4 76 1 0 406.1 939.4A0.6 0.4 76 1 0 405.9 938.4ZM437.1 897.3A0.6 0.4 20 1 0 438.3 897.7A0.6 0.4 20 1 0 437.1 897.3ZM472.3 892A0.6 0.5 170 1 0 471.2 892.1A0.6 0.5 170 1 0 472.3 892ZM485.9 872.6A0.7 0.6 110 1 0 485.4 873.8A0.7 0.6 110 1 0 485.9 872.6ZM476.3 883.9A0.5 0.4 108 1 0 476 884.7A0.5 0.4 108 1 0 476.3 883.9ZM473.9 863.9A0.5 0.4 95 1 0 473.8 864.8A0.5 0.4 95 1 0 473.9 863.9ZM480.5 857.2A1.1 0.8 39 1 0 482.2 858.6A1.1 0.8 39 1 0 480.5 857.2ZM455.4 883.5A1.3 0.9 134 1 0 453.5 885.4A1.3 0.9 134 1 0 455.4 883.5ZM494.5 847.5A1 0.7 94 1 0 494.4 849.5A1 0.7 94 1 0 494.5 847.5ZM487.9 874A1.1 0.6 54 1 0 489.2 875.7A1.1 0.6 54 1 0 487.9 874ZM480.2 885.7A0.7 0.7 172 1 0 478.7 885.8A0.7 0.7 172 1 0 480.2 885.7ZM450.4 874.3A1 0.5 149 1 0 448.8 875.3A1 0.5 149 1 0 450.4 874.3ZM270.3 942.3A0.6 0.4 11 1 0 271.4 942.5A0.6 0.4 11 1 0 270.3 942.3ZM343.8 948A0.4 0.3 26 1 0 344.5 948.3A0.4 0.3 26 1 0 343.8 948ZM393.3 944.1A0.5 0.4 11 1 0 394.4 944.4A0.5 0.4 11 1 0 393.3 944.1ZM317 940.5A0.4 0.3 103 1 0 316.8 941.2A0.4 0.3 103 1 0 317 940.5ZM435 931.4A0.4 0.3 83 1 0 435.1 932.2A0.4 0.3 83 1 0 435 931.4ZM286.7 945.2A0.5 0.4 119 1 0 286.2 946.1A0.5 0.4 119 1 0 286.7 945.2ZM480.7 909A0.4 0.3 2 1 0 481.6 909A0.4 0.3 2 1 0 480.7 909ZM435.3 934A0.4 0.4 167 1 0 434.6 934.2A0.4 0.4 167 1 0 435.3 934ZM396.7 940.2A0.4 0.3 44 1 0 397.2 940.7A0.4 0.3 44 1 0 396.7 940.2ZM472.5 907.4A0.4 0.4 169 1 0 471.7 907.6A0.4 0.4 169 1 0 472.5 907.4ZM371.7 946.4A0.6 0.4 88 1 0 371.7 947.6A0.6 0.4 88 1 0 371.7 946.4ZM288.1 944.2A0.3 0.3 24 1 0 288.7 944.5A0.3 0.3 24 1 0 288.1 944.2ZM390.6 944.5A0.4 0.3 49 1 0 391.1 945.1A0.4 0.3 49 1 0 390.6 944.5ZM468.2 918.7A0.4 0.3 46 1 0 468.7 919.2A0.4 0.3 46 1 0 468.2 918.7ZM357.3 940.1A0.3 0.3 72 1 0 357.5 940.7A0.3 0.3 72 1 0 357.3 940.1ZM421.4 934.4A0.5 0.4 67 1 0 421.7 935.2A0.5 0.4 67 1 0 421.4 934.4Z"/>
<path fill="#9c7046" fill-opacity="0.75" d="M331.9 898.1A1.7 0.9 12 1 0 335.2 898.8A1.7 0.9 12 1 0 331.9 898.1ZM349.1 874.6A1.4 0.9 174 1 0 346.4 874.9A1.4 0.9 174 1 0 349.1 874.6ZM403.9 881.3A0.9 0.6 38 1 0 405.3 882.4A0.9 0.6 38 1 0 403.9 881.3ZM396.3 882.3A1.5 1.1 52 1 0 398.2 884.7A1.5 1.1 52 1 0 396.3 882.3ZM349.1 872.9A1.7 0.8 37 1 0 351.9 875A1.7 0.8 37 1 0 349.1 872.9ZM335 884.8A1 0.7 51 1 0 336.2 886.3A1 0.7 51 1 0 335 884.8ZM405.3 894.9A1.3 1.1 77 1 0 405.8 897.4A1.3 1.1 77 1 0 405.3 894.9ZM404.2 899A1.5 0.9 105 1 0 403.4 901.9A1.5 0.9 105 1 0 404.2 899ZM389.9 873.2A1.3 1 31 1 0 392 874.6A1.3 1 31 1 0 389.9 873.2ZM345.9 889A2.1 1 35 1 0 349.3 891.4A2.1 1 35 1 0 345.9 889ZM383.6 869.1A1.9 1.1 164 1 0 379.9 870.1A1.9 1.1 164 1 0 383.6 869.1ZM377.6 893.8A1.8 0.9 102 1 0 376.9 897.2A1.8 0.9 102 1 0 377.6 893.8ZM360.7 867.5A1.1 0.9 73 1 0 361.3 869.7A1.1 0.9 73 1 0 360.7 867.5ZM387.7 903.5A0.9 0.6 149 1 0 386.2 904.4A0.9 0.6 149 1 0 387.7 903.5ZM380.6 879.6A1.7 1 41 1 0 383.1 881.8A1.7 1 41 1 0 380.6 879.6ZM373.3 880.2A1.8 1.1 84 1 0 373.7 883.7A1.8 1.1 84 1 0 373.3 880.2ZM353 888.8A1.3 0.6 65 1 0 354.1 891.2A1.3 0.6 65 1 0 353 888.8ZM386.9 910.9A1.9 0.9 178 1 0 383.1 911A1.9 0.9 178 1 0 386.9 910.9ZM352.6 883.4A2 1 54 1 0 354.9 886.7A2 1 54 1 0 352.6 883.4ZM331.4 895.1A0.6 0.5 105 1 0 331.1 896.2A0.6 0.5 105 1 0 331.4 895.1ZM339.8 898.1A1.9 0.9 34 1 0 342.9 900.3A1.9 0.9 34 1 0 339.8 898.1ZM349.9 897.1A1.4 1.1 22 1 0 352.5 898.2A1.4 1.1 22 1 0 349.9 897.1ZM395.3 880.8A1.4 0.9 98 1 0 394.9 883.6A1.4 0.9 98 1 0 395.3 880.8ZM370.2 884.9A1.4 1 177 1 0 367.4 885A1.4 1 177 1 0 370.2 884.9ZM361.4 869.7A1.2 0.7 176 1 0 359.1 869.9A1.2 0.7 176 1 0 361.4 869.7ZM367.1 892.3A1.9 0.8 99 1 0 366.5 896A1.9 0.8 99 1 0 367.1 892.3ZM364 888.2A1.1 0.5 93 1 0 363.8 890.4A1.1 0.5 93 1 0 364 888.2ZM371.2 887.1A0.8 0.7 165 1 0 369.5 887.5A0.8 0.7 165 1 0 371.2 887.1ZM378.3 874.6A0.7 0.6 89 1 0 378.3 876A0.7 0.6 89 1 0 378.3 874.6ZM354.2 880A1.3 1.1 65 1 0 355.3 882.2A1.3 1.1 65 1 0 354.2 880ZM334.3 876.9A0.9 0.8 135 1 0 333 878.2A0.9 0.8 135 1 0 334.3 876.9ZM395 878.3A1.2 1.1 108 1 0 394.2 880.5A1.2 1.1 108 1 0 395 878.3ZM390.9 880A1.5 0.9 61 1 0 392.3 882.6A1.5 0.9 61 1 0 390.9 880ZM420.3 885.3A1.5 0.7 74 1 0 421.2 888.3A1.5 0.7 74 1 0 420.3 885.3ZM424.6 888A1.5 0.9 32 1 0 427.2 889.7A1.5 0.9 32 1 0 424.6 888ZM349.9 880.5A1.4 0.6 36 1 0 352.1 882.1A1.4 0.6 36 1 0 349.9 880.5ZM431.1 899.7A1.9 1 19 1 0 434.6 900.9A1.9 1 19 1 0 431.1 899.7ZM386 901.6A0.8 0.8 8 1 0 387.6 901.8A0.8 0.8 8 1 0 386 901.6ZM403.6 883.2A1 0.6 144 1 0 402 884.4A1 0.6 144 1 0 403.6 883.2ZM400.6 905.5A1.5 0.7 8 1 0 403.7 905.9A1.5 0.7 8 1 0 400.6 905.5ZM283.3 931A0.9 0.4 84 1 0 283.5 932.8A0.9 0.4 84 1 0 283.3 931ZM299.6 919.9A0.5 0.4 143 1 0 298.7 920.5A0.5 0.4 143 1 0 299.6 919.9ZM322 920.8A1.7 0.8 22 1 0 325.1 922.1A1.7 0.8 22 1 0 322 920.8ZM291.9 896.2A1.9 0.8 112 1 0 290.5 899.7A1.9 0.8 112 1 0 291.9 896.2ZM281.1 937A0.9 0.5 44 1 0 282.4 938.3A0.9 0.5 44 1 0 281.1 937ZM278.3 935.2A0.7 0.5 126 1 0 277.4 936.3A0.7 0.5 126 1 0 278.3 935.2ZM327.9 929.8A0.5 0.5 71 1 0 328.2 930.8A0.5 0.5 71 1 0 327.9 929.8ZM282.9 934.3A0.9 0.9 47 1 0 284.1 935.7A0.9 0.9 47 1 0 282.9 934.3ZM271 935.9A0.9 0.9 116 1 0 270.2 937.5A0.9 0.9 116 1 0 271 935.9ZM272.3 879.2A1.1 0.6 179 1 0 270.2 879.2A1.1 0.6 179 1 0 272.3 879.2ZM318.2 915.7A1.4 0.8 23 1 0 320.8 916.9A1.4 0.8 23 1 0 318.2 915.7ZM304 928.3A1.5 0.8 127 1 0 302.2 930.6A1.5 0.8 127 1 0 304 928.3ZM279.2 917.3A0.8 0.6 149 1 0 277.9 918.1A0.8 0.6 149 1 0 279.2 917.3ZM369 935A0.4 0.3 148 1 0 368.3 935.4A0.4 0.3 148 1 0 369 935ZM427.2 915.1A0.4 0.3 63 1 0 427.5 915.8A0.4 0.3 63 1 0 427.2 915.1ZM460.2 889.2A0.4 0.4 153 1 0 459.4 889.6A0.4 0.4 153 1 0 460.2 889.2ZM344 914A0.6 0.5 131 1 0 343.2 914.9A0.6 0.5 131 1 0 344 914ZM365.7 923.3A0.6 0.3 104 1 0 365.4 924.6A0.6 0.3 104 1 0 365.7 923.3ZM299.7 899.4A0.8 0.4 147 1 0 298.4 900.3A0.8 0.4 147 1 0 299.7 899.4ZM416.8 887.4A0.9 0.5 110 1 0 416.2 889A0.9 0.5 110 1 0 416.8 887.4ZM378.2 941.7A1 0.6 157 1 0 376.3 942.5A1 0.6 157 1 0 378.2 941.7ZM308.3 898.9A0.9 0.5 128 1 0 307.1 900.3A0.9 0.5 128 1 0 308.3 898.9ZM398.1 885.7A0.6 0.5 96 1 0 397.9 886.8A0.6 0.5 96 1 0 398.1 885.7ZM434.3 907.9A0.8 0.4 101 1 0 434 909.5A0.8 0.4 101 1 0 434.3 907.9ZM336.7 936.6A0.5 0.3 156 1 0 335.9 936.9A0.5 0.3 156 1 0 336.7 936.6ZM375.5 880.8A1 0.5 121 1 0 374.5 882.5A1 0.5 121 1 0 375.5 880.8ZM348.6 896.4A1 0.6 11 1 0 350.6 896.8A1 0.6 11 1 0 348.6 896.4ZM432 933.4A1 0.6 49 1 0 433.3 935A1 0.6 49 1 0 432 933.4ZM434.4 932A0.8 0.5 3 1 0 436.1 932.1A0.8 0.5 3 1 0 434.4 932ZM488.6 870.4A0.6 0.4 97 1 0 488.4 871.5A0.6 0.4 97 1 0 488.6 870.4ZM374.3 920A0.7 0.5 97 1 0 374.1 921.4A0.7 0.5 97 1 0 374.3 920ZM473.1 879.4A0.7 0.6 4 1 0 474.4 879.5A0.7 0.6 4 1 0 473.1 879.4ZM391.4 876.7A1 0.6 1 1 0 393.4 876.8A1 0.6 1 1 0 391.4 876.7ZM322.1 921.4A0.7 0.4 103 1 0 321.8 922.7A0.7 0.4 103 1 0 322.1 921.4ZM321.8 902.3A0.5 0.5 20 1 0 322.8 902.7A0.5 0.5 20 1 0 321.8 902.3ZM354.3 889.3A0.8 0.5 133 1 0 353.1 890.5A0.8 0.5 133 1 0 354.3 889.3ZM481.2 866.2A0.7 0.4 99 1 0 480.9 867.5A0.7 0.4 99 1 0 481.2 866.2ZM331.1 886.4A0.9 0.5 178 1 0 329.2 886.5A0.9 0.5 178 1 0 331.1 886.4ZM402 894.7A0.8 0.5 41 1 0 403.2 895.7A0.8 0.5 41 1 0 402 894.7ZM362.2 894.2A0.4 0.4 35 1 0 362.9 894.7A0.4 0.4 35 1 0 362.2 894.2ZM355.8 893.4A0.5 0.3 14 1 0 356.7 893.7A0.5 0.3 14 1 0 355.8 893.4ZM417.2 889.9A0.4 0.4 178 1 0 416.5 889.9A0.4 0.4 178 1 0 417.2 889.9ZM308.1 923.9A0.6 0.4 84 1 0 308.2 925.1A0.6 0.4 84 1 0 308.1 923.9ZM401.5 905.8A0.4 0.3 78 1 0 401.6 906.6A0.4 0.3 78 1 0 401.5 905.8ZM416.5 893.1A0.8 0.6 127 1 0 415.5 894.4A0.8 0.6 127 1 0 416.5 893.1ZM442.1 930.3A0.6 0.5 87 1 0 442.2 931.4A0.6 0.5 87 1 0 442.1 930.3ZM275.7 889.2A0.5 0.3 13 1 0 276.7 889.5A0.5 0.3 13 1 0 275.7 889.2ZM442.2 906.2A0.8 0.5 168 1 0 440.7 906.5A0.8 0.5 168 1 0 442.2 906.2ZM304.5 914.9A0.8 0.5 10 1 0 306.2 915.2A0.8 0.5 10 1 0 304.5 914.9ZM469.3 867A0.4 0.3 174 1 0 468.5 867.1A0.4 0.3 174 1 0 469.3 867ZM408.4 912A0.5 0.3 61 1 0 408.8 912.9A0.5 0.3 61 1 0 408.4 912ZM481 858.5A0.5 0.5 115 1 0 480.6 859.5A0.5 0.5 115 1 0 481 858.5ZM484.7 871.5A1.5 0.9 97 1 0 484.3 874.5A1.5 0.9 97 1 0 484.7 871.5ZM451.7 885.1A1 0.7 172 1 0 449.7 885.3A1 0.7 172 1 0 451.7 885.1ZM464.3 865.2A0.7 0.5 94 1 0 464.2 866.5A0.7 0.5 94 1 0 464.3 865.2ZM469.8 887.7A1.2 0.9 109 1 0 469 889.9A1.2 0.9 109 1 0 469.8 887.7ZM470.4 857.9A1.3 0.8 124 1 0 468.9 860A1.3 0.8 124 1 0 470.4 857.9ZM466.8 880.8A1.2 0.7 118 1 0 465.7 882.8A1.2 0.7 118 1 0 466.8 880.8ZM472.3 869.2A0.7 0.5 177 1 0 471 869.3A0.7 0.5 177 1 0 472.3 869.2ZM471.5 884.5A1.1 0.7 150 1 0 469.6 885.6A1.1 0.7 150 1 0 471.5 884.5ZM457.5 865.4A0.9 0.8 78 1 0 457.9 867.1A0.9 0.8 78 1 0 457.5 865.4ZM487.6 871.7A0.9 0.8 174 1 0 485.7 871.9A0.9 0.8 174 1 0 487.6 871.7ZM470.5 861.5A1.6 0.8 1 1 0 473.8 861.6A1.6 0.8 1 1 0 470.5 861.5ZM383 943.6A0.6 0.4 146 1 0 382 944.2A0.6 0.4 146 1 0 383 943.6ZM354.6 940.9A0.6 0.4 75 1 0 354.9 942.1A0.6 0.4 75 1 0 354.6 940.9ZM469.7 915.8A0.4 0.3 49 1 0 470.2 916.5A0.4 0.3 49 1 0 469.7 915.8ZM286.4 939.9A0.3 0.3 15 1 0 287.1 940.1A0.3 0.3 15 1 0 286.4 939.9ZM382.2 948.9A0.3 0.3 15 1 0 382.7 949A0.3 0.3 15 1 0 382.2 948.9ZM323.9 947.9A0.3 0.3 110 1 0 323.6 948.5A0.3 0.3 110 1 0 323.9 947.9ZM419.5 936.2A0.3 0.3 165 1 0 418.9 936.4A0.3 0.3 165 1 0 419.5 936.2Z"/>
<path d="M270 903 Q300 906 320 911 T341 916" stroke="#e9ebe8" stroke-width="2.5" fill="none"/>
<rect x="273" y="953" width="32" height="2.6" fill="#4a4a4a"/>
</g>
<rect x="270.5" y="831.4" width="223.9" height="127.3" fill="none" stroke="#333" stroke-width="1.1"/>
<clipPath id="cBL"><rect x="42.8" y="963.6" width="223.2" height="126.5"/></clipPath>
<g clip-path="url(#cBL)">
<polygon points="42,963 267,963 267,1091 42,1091" fill="#bfcde1" />
<polygon points="42,963 267,963 267,1091 42,1091" fill="#fff" filter="url(#texA)" opacity="0.8"/>
<polygon points="42,963 267,963 267,1091 42,1091" fill="#fff" filter="url(#texN)" opacity="0.3"/>
<polygon points="200,963 267,963 267,976 240,971 220,966" fill="#eff0ee" />
<polygon points="42,1048 55,1050 62,1070 64,1091 42,1091" fill="#dde3ea" opacity="0.7"/>
<g filter="url(#blur3)"><rect x="131" y="966" width="31" height="44" fill="#9a7048" opacity="0.45"/><rect x="136" y="1010" width="22" height="60" fill="#9a7048" opacity="0.25"/><rect x="230" y="1046" width="36" height="36" fill="#a88360" opacity="0.3"/><rect x="80" y="990" width="14" height="62" fill="#a88360" opacity="0.2"/></g>
<g stroke="#eef0ee" fill="none"><path d="M84 990 L86 1020 L88 1052" stroke-width="1.6"/><path d="M172 1030 L175 1066" stroke-width="1.4"/><path d="M60 967 L64 985" stroke-width="2"/></g>
<g fill="#eef0ee"><circle cx="141" cy="1030" r="4"/><circle cx="140" cy="1051" r="4.5"/><circle cx="120" cy="1010" r="2.5"/><circle cx="204" cy="1078" r="3.5"/><circle cx="148" cy="1082" r="3" opacity="0.7"/></g>
<path fill="#5e3818" fill-opacity="0.9" d="M149.1 991.8A1.8 1.4 117 1 0 147.4 995.1A1.8 1.4 117 1 0 149.1 991.8ZM162.4 1008.6A1.1 0.8 117 1 0 161.3 1010.6A1.1 0.8 117 1 0 162.4 1008.6ZM128.9 982.2A1.9 1.3 19 1 0 132.5 983.5A1.9 1.3 19 1 0 128.9 982.2ZM132.1 1006A2.3 1 146 1 0 128.3 1008.5A2.3 1 146 1 0 132.1 1006ZM137.1 1002.3A2.3 1.1 46 1 0 140.3 1005.7A2.3 1.1 46 1 0 137.1 1002.3ZM143 968.6A2.3 1.3 82 1 0 143.6 973.1A2.3 1.3 82 1 0 143 968.6ZM130.9 965.3A1 0.8 132 1 0 129.5 966.8A1 0.8 132 1 0 130.9 965.3ZM135.3 981.1A2.6 1.4 23 1 0 140.1 983.1A2.6 1.4 23 1 0 135.3 981.1ZM155.8 980.9A1.5 1.4 112 1 0 154.7 983.8A1.5 1.4 112 1 0 155.8 980.9ZM156.5 984.2A1.2 1 138 1 0 154.8 985.7A1.2 1 138 1 0 156.5 984.2ZM138.5 1001.3A1 0.8 59 1 0 139.5 1003A1 0.8 59 1 0 138.5 1001.3ZM147.2 1006.3A1.9 1.2 2 1 0 151 1006.5A1.9 1.2 2 1 0 147.2 1006.3ZM160.3 977.5A3 1.4 157 1 0 154.7 979.8A3 1.4 157 1 0 160.3 977.5ZM160.4 967.7A1.5 1 32 1 0 162.9 969.3A1.5 1 32 1 0 160.4 967.7ZM150.1 982.3A1.5 0.8 52 1 0 152 984.7A1.5 0.8 52 1 0 150.1 982.3ZM141.9 1004.2A2 1.2 22 1 0 145.6 1005.7A2 1.2 22 1 0 141.9 1004.2ZM145 1057.4A2.1 1 158 1 0 141.2 1058.9A2.1 1 158 1 0 145 1057.4ZM152 1039.6A1.5 1.2 102 1 0 151.4 1042.5A1.5 1.2 102 1 0 152 1039.6ZM141.3 1029.6A1.2 1.1 146 1 0 139.3 1030.9A1.2 1.1 146 1 0 141.3 1029.6ZM141.6 1028.2A1.3 0.9 65 1 0 142.7 1030.6A1.3 0.9 65 1 0 141.6 1028.2ZM154.9 1052.8A2.5 1.4 71 1 0 156.5 1057.6A2.5 1.4 71 1 0 154.9 1052.8ZM148 1053.7A2.5 1.4 40 1 0 151.7 1056.9A2.5 1.4 40 1 0 148 1053.7ZM155.6 1037.4A1.5 0.7 105 1 0 154.8 1040.2A1.5 0.7 105 1 0 155.6 1037.4ZM132.9 1018.9A2.2 1.2 10 1 0 137.3 1019.7A2.2 1.2 10 1 0 132.9 1018.9ZM151.1 1017.5A2.3 1.4 161 1 0 146.6 1019A2.3 1.4 161 1 0 151.1 1017.5ZM81.3 989.3A2.1 0.9 65 1 0 83 993.1A2.1 0.9 65 1 0 81.3 989.3ZM77.8 1010.6A2.4 1 34 1 0 81.7 1013.3A2.4 1 34 1 0 77.8 1010.6ZM90.5 994.3A2.1 1.3 7 1 0 94.6 994.9A2.1 1.3 7 1 0 90.5 994.3ZM118 995.3A2.7 1.2 145 1 0 113.5 998.4A2.7 1.2 145 1 0 118 995.3ZM111.1 1064.5A2.6 1.2 167 1 0 106 1065.6A2.6 1.2 167 1 0 111.1 1064.5ZM109 1074.1A1.2 0.7 116 1 0 107.9 1076.2A1.2 0.7 116 1 0 109 1074.1ZM109.5 1034A2.2 1 124 1 0 106.9 1037.6A2.2 1 124 1 0 109.5 1034ZM165.1 1040.9A1.2 0.8 129 1 0 163.6 1042.7A1.2 0.8 129 1 0 165.1 1040.9ZM170 1038.8A1.4 0.8 103 1 0 169.3 1041.5A1.4 0.8 103 1 0 170 1038.8ZM179.2 1035.9A1.8 1 66 1 0 180.6 1039.1A1.8 1 66 1 0 179.2 1035.9ZM241.5 1011.7A2.1 0.9 110 1 0 240 1015.7A2.1 0.9 110 1 0 241.5 1011.7ZM249.7 1003.1A1.4 0.7 117 1 0 248.4 1005.6A1.4 0.7 117 1 0 249.7 1003.1ZM226.9 987.6A0.9 0.7 160 1 0 225.3 988.2A0.9 0.7 160 1 0 226.9 987.6ZM209.6 1028.2A1.3 0.6 43 1 0 211.5 1030A1.3 0.6 43 1 0 209.6 1028.2ZM240.4 980A2.1 1.1 149 1 0 236.9 982.1A2.1 1.1 149 1 0 240.4 980ZM235 1029.2A2 1.1 144 1 0 231.8 1031.5A2 1.1 144 1 0 235 1029.2ZM242.3 997.5A1.5 1 72 1 0 243.2 1000.4A1.5 1 72 1 0 242.3 997.5ZM239.9 1015.5A2.2 1.3 109 1 0 238.4 1019.7A2.2 1.3 109 1 0 239.9 1015.5ZM231.4 1055.1A2.3 1.2 59 1 0 233.8 1059.1A2.3 1.2 59 1 0 231.4 1055.1ZM234.7 1065.7A1.8 1 88 1 0 234.8 1069.3A1.8 1 88 1 0 234.7 1065.7ZM261.1 1057.8A1.1 0.8 63 1 0 262.1 1059.8A1.1 0.8 63 1 0 261.1 1057.8ZM244.8 1050.4A1.9 0.8 66 1 0 246.3 1053.9A1.9 0.8 66 1 0 244.8 1050.4ZM230.8 1052.2A2.3 1.1 125 1 0 228.1 1056A2.3 1.1 125 1 0 230.8 1052.2ZM255.9 1056.5A2 0.9 22 1 0 259.7 1058A2 0.9 22 1 0 255.9 1056.5Z"/>
<path fill="#7c5029" fill-opacity="0.85" d="M162.5 1004A2.1 1.5 123 1 0 160.2 1007.5A2.1 1.5 123 1 0 162.5 1004ZM143.3 1006.1A1.7 1.2 55 1 0 145.2 1008.8A1.7 1.2 55 1 0 143.3 1006.1ZM146.7 977.6A1.8 1 99 1 0 146.1 981.2A1.8 1 99 1 0 146.7 977.6ZM146.6 985.4A2.3 1.4 1 1 0 151.1 985.5A2.3 1.4 1 1 0 146.6 985.4ZM140.5 1000A1.7 0.8 2 1 0 143.8 1000.2A1.7 0.8 2 1 0 140.5 1000ZM155.9 1003.5A2.9 1.4 163 1 0 150.3 1005.1A2.9 1.4 163 1 0 155.9 1003.5ZM130.8 966.7A2.3 1.2 83 1 0 131.3 971.2A2.3 1.2 83 1 0 130.8 966.7ZM161.7 981.9A1.9 1.1 136 1 0 158.9 984.6A1.9 1.1 136 1 0 161.7 981.9ZM140.4 969.4A1.4 1 89 1 0 140.5 972.2A1.4 1 89 1 0 140.4 969.4ZM154.2 1004.5A1.6 1.2 120 1 0 152.6 1007.2A1.6 1.2 120 1 0 154.2 1004.5ZM158.5 970.6A1.8 0.9 170 1 0 154.9 971.2A1.8 0.9 170 1 0 158.5 970.6ZM160.2 987.8A1.8 1 142 1 0 157.4 990A1.8 1 142 1 0 160.2 987.8ZM146.9 988.3A2.3 1.1 16 1 0 151.2 989.6A2.3 1.1 16 1 0 146.9 988.3ZM141.8 997.2A1.7 1.4 27 1 0 144.8 998.7A1.7 1.4 27 1 0 141.8 997.2ZM152 1046.2A2.5 1.3 168 1 0 147.1 1047.2A2.5 1.3 168 1 0 152 1046.2ZM150.7 1020A2 0.9 117 1 0 148.8 1023.6A2 0.9 117 1 0 150.7 1020ZM147.1 1010.2A1.4 1.1 86 1 0 147.2 1013A1.4 1.1 86 1 0 147.1 1010.2ZM143.2 1055.8A1.2 1.1 72 1 0 143.9 1058.1A1.2 1.1 72 1 0 143.2 1055.8ZM155.4 1016.8A2.4 1 28 1 0 159.6 1019.1A2.4 1 28 1 0 155.4 1016.8ZM148.8 1026.3A1.3 1.1 83 1 0 149.1 1029A1.3 1.1 83 1 0 148.8 1026.3ZM96 1047.5A1.5 0.7 139 1 0 93.7 1049.4A1.5 0.7 139 1 0 96 1047.5ZM88.9 1051.9A1.5 0.7 172 1 0 85.8 1052.3A1.5 0.7 172 1 0 88.9 1051.9ZM95.3 1015.4A1.7 0.9 140 1 0 92.7 1017.5A1.7 0.9 140 1 0 95.3 1015.4ZM85.1 1005.5A1.3 0.8 70 1 0 85.9 1007.9A1.3 0.8 70 1 0 85.1 1005.5ZM121.5 1015A2.7 1.2 34 1 0 126 1018.1A2.7 1.2 34 1 0 121.5 1015ZM108.8 1088A2.6 1.2 68 1 0 110.8 1092.9A2.6 1.2 68 1 0 108.8 1088ZM119.3 1060.3A1.3 0.7 126 1 0 117.8 1062.4A1.3 0.7 126 1 0 119.3 1060.3ZM123.2 1046.8A1.3 0.8 120 1 0 121.9 1049.1A1.3 0.8 120 1 0 123.2 1046.8ZM122.6 1015.3A1 1 54 1 0 123.8 1016.9A1 1 54 1 0 122.6 1015.3ZM120.5 1052.7A1.4 1.2 90 1 0 120.5 1055.5A1.4 1.2 90 1 0 120.5 1052.7ZM118.7 1013.4A1.7 0.9 61 1 0 120.3 1016.3A1.7 0.9 61 1 0 118.7 1013.4ZM176.1 1034A1.3 1 67 1 0 177 1036.4A1.3 1 67 1 0 176.1 1034ZM172.9 1032.2A0.7 0.7 111 1 0 172.4 1033.5A0.7 0.7 111 1 0 172.9 1032.2ZM176.8 1030.4A1.1 0.8 176 1 0 174.5 1030.6A1.1 0.8 176 1 0 176.8 1030.4ZM229.9 1030.8A1.6 0.8 38 1 0 232.5 1032.8A1.6 0.8 38 1 0 229.9 1030.8ZM214.9 995.3A2.4 1 17 1 0 219.5 996.7A2.4 1 17 1 0 214.9 995.3ZM215.2 1004.1A1.4 1.2 109 1 0 214.3 1006.7A1.4 1.2 109 1 0 215.2 1004.1ZM248.8 1028.3A1.6 0.9 113 1 0 247.6 1031.1A1.6 0.9 113 1 0 248.8 1028.3ZM214.6 1041.1A1.7 1.2 77 1 0 215.3 1044.4A1.7 1.2 77 1 0 214.6 1041.1ZM239.3 1020A2 1.4 29 1 0 242.7 1022A2 1.4 29 1 0 239.3 1020ZM232.1 980.6A1.9 1.3 135 1 0 229.3 983.3A1.9 1.3 135 1 0 232.1 980.6ZM218.3 1027.8A3.2 1.3 101 1 0 217 1034.2A3.2 1.3 101 1 0 218.3 1027.8ZM258.7 1069.1A1.7 1.4 74 1 0 259.6 1072.4A1.7 1.4 74 1 0 258.7 1069.1ZM252.8 1068.2A1.4 0.9 23 1 0 255.3 1069.3A1.4 0.9 23 1 0 252.8 1068.2ZM258.1 1078.1A1.9 0.8 106 1 0 257 1081.7A1.9 0.8 106 1 0 258.1 1078.1ZM254.1 1072.2A1.8 1.1 88 1 0 254.1 1075.9A1.8 1.1 88 1 0 254.1 1072.2ZM232.4 1057.3A2.5 1 84 1 0 232.8 1062.3A2.5 1 84 1 0 232.4 1057.3ZM242.9 1077A1.9 1.3 0 1 0 246.7 1077A1.9 1.3 0 1 0 242.9 1077ZM260 1080.3A1.9 1.1 36 1 0 263 1082.6A1.9 1.1 36 1 0 260 1080.3ZM248.6 1047.4A1.9 1.2 166 1 0 244.9 1048.3A1.9 1.2 166 1 0 248.6 1047.4ZM227.8 1077.2A1.3 1.1 58 1 0 229.2 1079.5A1.3 1.1 58 1 0 227.8 1077.2ZM263.4 1057.5A0.9 0.8 160 1 0 261.7 1058.1A0.9 0.8 160 1 0 263.4 1057.5ZM46.9 986.4A2.2 0.9 73 1 0 48.1 990.7A2.2 0.9 73 1 0 46.9 986.4ZM71 981.1A1.7 0.9 163 1 0 67.7 982.1A1.7 0.9 163 1 0 71 981.1ZM66.4 970.6A0.8 0.8 19 1 0 67.9 971.1A0.8 0.8 19 1 0 66.4 970.6ZM67.1 980.9A0.6 0.5 123 1 0 66.4 981.9A0.6 0.5 123 1 0 67.1 980.9ZM45 970.4A1.6 1.1 7 1 0 48.2 970.9A1.6 1.1 7 1 0 45 970.4ZM61.1 964.6A1 0.9 137 1 0 59.7 965.9A1 0.9 137 1 0 61.1 964.6ZM49.5 986.8A1.1 0.6 4 1 0 51.7 986.9A1.1 0.6 4 1 0 49.5 986.8ZM59.7 1053.6A1.3 0.6 31 1 0 62 1055A1.3 0.6 31 1 0 59.7 1053.6ZM47.4 1050.5A2.1 1 144 1 0 44.1 1052.9A2.1 1 144 1 0 47.4 1050.5ZM57.7 1078A0.9 0.8 64 1 0 58.5 1079.6A0.9 0.8 64 1 0 57.7 1078ZM51.5 1090A0.6 0.6 99 1 0 51.3 1091.2A0.6 0.6 99 1 0 51.5 1090ZM151 1033.5A0.7 0.4 94 1 0 150.8 1034.8A0.7 0.4 94 1 0 151 1033.5ZM263.6 968.4A0.8 0.5 163 1 0 262.1 968.8A0.8 0.5 163 1 0 263.6 968.4ZM170.3 1066.1A0.7 0.6 32 1 0 171.4 1066.8A0.7 0.6 32 1 0 170.3 1066.1ZM168.6 997.8A0.6 0.5 104 1 0 168.3 999A0.6 0.5 104 1 0 168.6 997.8ZM186.6 1003.2A0.5 0.5 147 1 0 185.7 1003.8A0.5 0.5 147 1 0 186.6 1003.2ZM164.3 988.5A1.4 0.7 170 1 0 161.4 989A1.4 0.7 170 1 0 164.3 988.5ZM208.4 1042.4A1.1 0.6 17 1 0 210.6 1043.1A1.1 0.6 17 1 0 208.4 1042.4ZM182.6 1006.4A1 0.8 60 1 0 183.6 1008.1A1 0.8 60 1 0 182.6 1006.4ZM79.8 1009.7A0.9 0.5 106 1 0 79.3 1011.5A0.9 0.5 106 1 0 79.8 1009.7ZM146.3 1021A0.7 0.5 162 1 0 144.9 1021.4A0.7 0.5 162 1 0 146.3 1021ZM262.7 972.8A1 0.5 90 1 0 262.7 974.8A1 0.5 90 1 0 262.7 972.8ZM243.1 1030.7A0.5 0.4 79 1 0 243.3 1031.6A0.5 0.4 79 1 0 243.1 1030.7ZM228.6 1065.8A1.3 0.8 49 1 0 230.3 1067.8A1.3 0.8 49 1 0 228.6 1065.8ZM206.8 1055.1A1 0.8 81 1 0 207.1 1057A1 0.8 81 1 0 206.8 1055.1ZM84.5 987.3A1 0.6 39 1 0 86.1 988.5A1 0.6 39 1 0 84.5 987.3ZM47.4 1047.9A0.8 0.4 149 1 0 46.1 1048.6A0.8 0.4 149 1 0 47.4 1047.9ZM60.2 1082.7A1 0.7 135 1 0 58.8 1084.1A1 0.7 135 1 0 60.2 1082.7ZM92.7 994.4A1.4 0.7 81 1 0 93.1 997.1A1.4 0.7 81 1 0 92.7 994.4Z"/>
<path fill="#6e4420" fill-opacity="0.9" d="M160.9 997A2.6 1.4 146 1 0 156.6 999.9A2.6 1.4 146 1 0 160.9 997ZM158.3 989.8A1.4 1.2 10 1 0 161.1 990.3A1.4 1.2 10 1 0 158.3 989.8ZM131.6 967.9A1.4 1.3 73 1 0 132.4 970.5A1.4 1.3 73 1 0 131.6 967.9ZM136.3 971.7A2 1.2 85 1 0 136.7 975.6A2 1.2 85 1 0 136.3 971.7ZM156.5 977.7A3.2 1.5 31 1 0 162 981A3.2 1.5 31 1 0 156.5 977.7ZM155.6 992.7A1.7 1.3 16 1 0 158.8 993.6A1.7 1.3 16 1 0 155.6 992.7ZM132.2 994.5A1.1 0.7 95 1 0 132 996.7A1.1 0.7 95 1 0 132.2 994.5ZM154.8 1002.3A0.7 0.7 155 1 0 153.5 1002.9A0.7 0.7 155 1 0 154.8 1002.3ZM139.4 1001.5A1.1 0.7 68 1 0 140.2 1003.6A1.1 0.7 68 1 0 139.4 1001.5ZM143.8 969.9A2.7 1.5 172 1 0 138.4 970.6A2.7 1.5 172 1 0 143.8 969.9ZM156.7 1002A2.9 1.4 127 1 0 153.2 1006.6A2.9 1.4 127 1 0 156.7 1002ZM146 986.2A1.6 0.9 97 1 0 145.6 989.4A1.6 0.9 97 1 0 146 986.2ZM139.4 964.9A2 1.5 78 1 0 140.2 968.7A2 1.5 78 1 0 139.4 964.9ZM141.4 969.4A1 0.7 98 1 0 141.1 971.4A1 0.7 98 1 0 141.4 969.4ZM150.9 1006.6A2.9 1.3 106 1 0 149.3 1012.2A2.9 1.3 106 1 0 150.9 1006.6ZM152.2 969.3A1.7 0.8 67 1 0 153.6 972.5A1.7 0.8 67 1 0 152.2 969.3ZM134.9 988.1A1.7 0.9 85 1 0 135.2 991.4A1.7 0.9 85 1 0 134.9 988.1ZM156.5 1050.2A1.5 1.1 115 1 0 155.2 1052.9A1.5 1.1 115 1 0 156.5 1050.2ZM134.8 1023.2A1.6 1 13 1 0 138 1023.9A1.6 1 13 1 0 134.8 1023.2ZM134 1041A2 1 68 1 0 135.5 1044.8A2 1 68 1 0 134 1041ZM138.2 1016.7A1.2 1 4 1 0 140.5 1016.9A1.2 1 4 1 0 138.2 1016.7ZM145.9 1051A3 1.4 156 1 0 140.4 1053.3A3 1.4 156 1 0 145.9 1051ZM138.5 1050.6A1 0.8 29 1 0 140.2 1051.6A1 0.8 29 1 0 138.5 1050.6ZM158 1009.1A2.2 1.5 106 1 0 156.7 1013.3A2.2 1.5 106 1 0 158 1009.1ZM147.9 1067.5A2.5 1.4 24 1 0 152.5 1069.6A2.5 1.4 24 1 0 147.9 1067.5ZM151 1064.6A1.3 1 25 1 0 153.3 1065.7A1.3 1 25 1 0 151 1064.6ZM149.2 1024.3A3 1.5 23 1 0 154.7 1026.7A3 1.5 23 1 0 149.2 1024.3ZM133.7 1037.4A2.6 1.3 31 1 0 138.2 1040.1A2.6 1.3 31 1 0 133.7 1037.4ZM90.4 995.2A1.5 1.1 76 1 0 91.1 998.1A1.5 1.1 76 1 0 90.4 995.2ZM93.7 1032.9A1.7 0.9 65 1 0 95.1 1035.9A1.7 0.9 65 1 0 93.7 1032.9ZM78.5 1047A0.9 0.9 15 1 0 80.3 1047.5A0.9 0.9 15 1 0 78.5 1047ZM80.5 996.3A1.8 0.9 88 1 0 80.6 999.9A1.8 0.9 88 1 0 80.5 996.3ZM89.7 1009.6A0.8 0.7 58 1 0 90.5 1010.9A0.8 0.7 58 1 0 89.7 1009.6ZM89.3 987.9A3.3 1.4 63 1 0 92.2 993.8A3.3 1.4 63 1 0 89.3 987.9ZM94.7 1022.7A2.8 1.3 124 1 0 91.6 1027.3A2.8 1.3 124 1 0 94.7 1022.7ZM93.9 1006.8A1.6 1.3 174 1 0 90.6 1007.2A1.6 1.3 174 1 0 93.9 1006.8ZM118.8 1022.8A1.7 1.1 47 1 0 121 1025.3A1.7 1.1 47 1 0 118.8 1022.8ZM109.7 1049.6A1.3 1 162 1 0 107.3 1050.4A1.3 1 162 1 0 109.7 1049.6ZM117.8 1046A1.3 1.2 157 1 0 115.4 1047A1.3 1.2 157 1 0 117.8 1046ZM122.2 1005.1A1.5 0.8 169 1 0 119.2 1005.7A1.5 0.8 169 1 0 122.2 1005.1ZM110.5 1021.5A1.9 1 83 1 0 111 1025.4A1.9 1 83 1 0 110.5 1021.5ZM125.5 1000.3A1.9 0.9 145 1 0 122.2 1002.4A1.9 0.9 145 1 0 125.5 1000.3ZM117.7 994.1A1.5 1 108 1 0 116.8 997A1.5 1 108 1 0 117.7 994.1ZM109.3 1062.2A0.8 0.8 0 1 0 110.9 1062.2A0.8 0.8 0 1 0 109.3 1062.2ZM119.9 1057.3A1.8 0.8 34 1 0 122.9 1059.3A1.8 0.8 34 1 0 119.9 1057.3ZM113.5 1054.3A2.5 1 170 1 0 108.7 1055.1A2.5 1 170 1 0 113.5 1054.3ZM175.1 1063.9A2.8 1.2 11 1 0 180.7 1065A2.8 1.2 11 1 0 175.1 1063.9ZM165 1065.5A2.1 1.2 93 1 0 164.8 1069.8A2.1 1.2 93 1 0 165 1065.5ZM176.7 1056.2A0.9 0.7 63 1 0 177.4 1057.8A0.9 0.7 63 1 0 176.7 1056.2ZM174.7 1031.4A1.6 0.8 104 1 0 173.8 1034.5A1.6 0.8 104 1 0 174.7 1031.4ZM167.9 1064.1A1 0.8 61 1 0 168.9 1065.9A1 0.8 61 1 0 167.9 1064.1ZM217.1 1035.4A1.1 0.7 157 1 0 215.1 1036.3A1.1 0.7 157 1 0 217.1 1035.4ZM215.7 1000.9A1.6 0.7 34 1 0 218.3 1002.6A1.6 0.7 34 1 0 215.7 1000.9ZM252.3 1002.9A1.6 0.9 118 1 0 250.7 1005.8A1.6 0.9 118 1 0 252.3 1002.9ZM241.1 986.6A2 1.1 137 1 0 238.2 989.4A2 1.1 137 1 0 241.1 986.6ZM201.2 1012.7A1.7 0.7 35 1 0 203.9 1014.7A1.7 0.7 35 1 0 201.2 1012.7ZM253.2 1018.2A1.2 0.9 33 1 0 255.1 1019.5A1.2 0.9 33 1 0 253.2 1018.2ZM210.1 1039.9A1 0.6 18 1 0 212 1040.5A1 0.6 18 1 0 210.1 1039.9ZM212.6 1043.4A2.3 0.9 159 1 0 208.2 1045.1A2.3 0.9 159 1 0 212.6 1043.4ZM248.9 1077.6A1.9 0.9 66 1 0 250.4 1081.1A1.9 0.9 66 1 0 248.9 1077.6ZM248.5 1048.1A2.2 1.4 154 1 0 244.5 1050A2.2 1.4 154 1 0 248.5 1048.1ZM233.6 1071.4A1.5 1.3 111 1 0 232.5 1074.2A1.5 1.3 111 1 0 233.6 1071.4ZM232 1080.6A1.2 0.7 49 1 0 233.5 1082.4A1.2 0.7 49 1 0 232 1080.6ZM257.6 1054.8A1.2 0.8 86 1 0 257.7 1057.3A1.2 0.8 86 1 0 257.6 1054.8Z"/>
<path fill="#4f2e14" fill-opacity="0.95" d="M137 968.8A1.6 0.7 134 1 0 134.8 971.1A1.6 0.7 134 1 0 137 968.8ZM159.3 983.3A3 1.3 156 1 0 153.9 985.7A3 1.3 156 1 0 159.3 983.3ZM155.8 967.5A1.7 0.8 35 1 0 158.5 969.5A1.7 0.8 35 1 0 155.8 967.5ZM144.9 998.7A1.5 1.2 100 1 0 144.4 1001.6A1.5 1.2 100 1 0 144.9 998.7ZM139.4 967.1A2.3 1.4 55 1 0 142 970.9A2.3 1.4 55 1 0 139.4 967.1ZM160.1 975.4A1.8 1.3 70 1 0 161.2 978.8A1.8 1.3 70 1 0 160.1 975.4ZM160.1 1005.8A1.3 1.2 157 1 0 157.7 1006.8A1.3 1.2 157 1 0 160.1 1005.8ZM142.8 977.5A1.6 0.8 162 1 0 139.7 978.5A1.6 0.8 162 1 0 142.8 977.5ZM156 976A2.3 1.4 57 1 0 158.4 979.9A2.3 1.4 57 1 0 156 976ZM142.9 987.1A1.3 1 43 1 0 144.8 988.9A1.3 1 43 1 0 142.9 987.1ZM152.9 977.3A1.2 1.2 28 1 0 155.1 978.5A1.2 1.2 28 1 0 152.9 977.3ZM133 976.5A2.7 1.3 20 1 0 138 978.3A2.7 1.3 20 1 0 133 976.5ZM153.1 1004A2.2 1.3 72 1 0 154.5 1008.2A2.2 1.3 72 1 0 153.1 1004ZM138.1 1042A1.8 1.4 142 1 0 135.3 1044.2A1.8 1.4 142 1 0 138.1 1042ZM138.1 1041.3A1.7 0.7 118 1 0 136.5 1044.2A1.7 0.7 118 1 0 138.1 1041.3ZM145.8 1020.4A2.3 1 160 1 0 141.5 1021.9A2.3 1 160 1 0 145.8 1020.4ZM134.5 1020.6A2.1 1.3 57 1 0 136.8 1024.1A2.1 1.3 57 1 0 134.5 1020.6ZM96.8 1039.6A2.4 1 173 1 0 92 1040.1A2.4 1 173 1 0 96.8 1039.6ZM91 1013A1.2 1.2 67 1 0 91.9 1015.3A1.2 1.2 67 1 0 91 1013ZM92.2 990.8A1.7 0.8 17 1 0 95.4 991.8A1.7 0.8 17 1 0 92.2 990.8ZM94 1004.6A1.6 0.7 105 1 0 93.1 1007.7A1.6 0.7 105 1 0 94 1004.6ZM79.8 1040.1A0.8 0.8 58 1 0 80.6 1041.5A0.8 0.8 58 1 0 79.8 1040.1ZM87.1 1022.4A1.3 1.2 11 1 0 89.6 1022.9A1.3 1.2 11 1 0 87.1 1022.4ZM93.1 1024A1.2 1.1 46 1 0 94.7 1025.7A1.2 1.1 46 1 0 93.1 1024ZM85.2 1041.2A1.2 0.7 61 1 0 86.4 1043.3A1.2 0.7 61 1 0 85.2 1041.2ZM83.6 1000.8A1.8 1.3 156 1 0 80.4 1002.3A1.8 1.3 156 1 0 83.6 1000.8ZM109 1048.5A2.4 0.9 51 1 0 111.9 1052.2A2.4 0.9 51 1 0 109 1048.5ZM123.3 1036.5A2.3 1.1 134 1 0 120 1039.8A2.3 1.1 134 1 0 123.3 1036.5ZM118.2 1024.1A2.1 0.9 70 1 0 119.6 1028A2.1 0.9 70 1 0 118.2 1024.1ZM170.6 1049.6A1.5 1 84 1 0 170.9 1052.5A1.5 1 84 1 0 170.6 1049.6ZM215 1043.4A1.9 0.8 148 1 0 211.7 1045.4A1.9 0.8 148 1 0 215 1043.4ZM243.2 990.1A1 0.8 12 1 0 245.2 990.6A1 0.8 12 1 0 243.2 990.1ZM207 1013.1A1.4 1.1 155 1 0 204.6 1014.2A1.4 1.1 155 1 0 207 1013.1ZM247.4 981.2A1.9 0.8 117 1 0 245.6 984.5A1.9 0.8 117 1 0 247.4 981.2ZM219.8 1040.8A1.3 0.6 2 1 0 222.5 1040.9A1.3 0.6 2 1 0 219.8 1040.8ZM236.6 1009.8A1.1 0.7 59 1 0 237.7 1011.7A1.1 0.7 59 1 0 236.6 1009.8ZM203.9 1029A1.3 0.8 34 1 0 206.1 1030.5A1.3 0.8 34 1 0 203.9 1029ZM240.1 987.1A1.6 0.8 21 1 0 243.2 988.3A1.6 0.8 21 1 0 240.1 987.1ZM248.7 1073.1A1.8 0.9 70 1 0 250 1076.6A1.8 0.9 70 1 0 248.7 1073.1ZM256.5 1043A2 1 116 1 0 254.8 1046.6A2 1 116 1 0 256.5 1043ZM245 1075.9A1.3 1 106 1 0 244.3 1078.4A1.3 1 106 1 0 245 1075.9ZM239.4 1075.7A3.1 1.4 153 1 0 233.9 1078.4A3.1 1.4 153 1 0 239.4 1075.7ZM249 1066A2.2 1.4 118 1 0 246.8 1070A2.2 1.4 118 1 0 249 1066ZM250.4 1072A2 1 10 1 0 254.3 1072.7A2 1 10 1 0 250.4 1072ZM252.7 1060.7A2.5 1.1 112 1 0 250.9 1065.3A2.5 1.1 112 1 0 252.7 1060.7Z"/>
<path fill="#9c7046" fill-opacity="0.75" d="M47.6 989.4A0.8 0.6 21 1 0 49 989.9A0.8 0.6 21 1 0 47.6 989.4ZM72.8 988A1.1 0.7 160 1 0 70.7 988.7A1.1 0.7 160 1 0 72.8 988ZM53 989.7A0.8 0.8 113 1 0 52.4 991.2A0.8 0.8 113 1 0 53 989.7ZM45.6 1073.2A1.6 0.9 22 1 0 48.4 1074.4A1.6 0.9 22 1 0 45.6 1073.2ZM53.2 1069.9A0.6 0.6 139 1 0 52.2 1070.7A0.6 0.6 139 1 0 53.2 1069.9ZM49.9 1055.8A1.9 0.8 102 1 0 49.1 1059.5A1.9 0.8 102 1 0 49.9 1055.8ZM260.2 1030.3A0.9 0.7 61 1 0 261 1031.8A0.9 0.7 61 1 0 260.2 1030.3ZM156.7 1012A0.6 0.4 38 1 0 157.5 1012.7A0.6 0.4 38 1 0 156.7 1012ZM127.5 1033.3A0.5 0.4 109 1 0 127.1 1034.3A0.5 0.4 109 1 0 127.5 1033.3ZM175 1055.1A0.9 0.7 51 1 0 176.2 1056.5A0.9 0.7 51 1 0 175 1055.1ZM150.9 997.3A0.6 0.5 165 1 0 149.7 997.6A0.6 0.5 165 1 0 150.9 997.3ZM225.8 974.5A1.3 0.8 26 1 0 228.1 975.6A1.3 0.8 26 1 0 225.8 974.5ZM151.3 1063.2A0.6 0.4 118 1 0 150.7 1064.3A0.6 0.4 118 1 0 151.3 1063.2ZM67.2 1009.9A0.7 0.7 21 1 0 68.6 1010.5A0.7 0.7 21 1 0 67.2 1009.9ZM249.3 966.2A0.8 0.5 151 1 0 248 966.9A0.8 0.5 151 1 0 249.3 966.2Z"/>
<path fill="#8e6136" fill-opacity="0.8" d="M63.4 968.5A2.1 1 45 1 0 66.2 971.4A2.1 1 45 1 0 63.4 968.5ZM74.4 979.6A1 0.6 95 1 0 74.2 981.5A1 0.6 95 1 0 74.4 979.6ZM50.3 1062.2A1.2 0.9 3 1 0 52.6 1062.3A1.2 0.9 3 1 0 50.3 1062.2ZM196.4 1076.1A0.5 0.4 105 1 0 196.1 1077A0.5 0.4 105 1 0 196.4 1076.1ZM120 1042.6A1.2 0.6 146 1 0 118 1043.9A1.2 0.6 146 1 0 120 1042.6ZM73.7 1045.8A1.4 0.7 144 1 0 71.5 1047.4A1.4 0.7 144 1 0 73.7 1045.8ZM183.2 1008.3A0.6 0.5 13 1 0 184.3 1008.5A0.6 0.5 13 1 0 183.2 1008.3ZM264.6 1012.4A1.3 0.7 38 1 0 266.6 1014A1.3 0.7 38 1 0 264.6 1012.4ZM98.8 988A0.5 0.4 105 1 0 98.6 989A0.5 0.4 105 1 0 98.8 988ZM60 1079.1A1.2 0.7 154 1 0 57.8 1080.2A1.2 0.7 154 1 0 60 1079.1ZM96.3 1013.8A1 0.6 138 1 0 94.9 1015.1A1 0.6 138 1 0 96.3 1013.8ZM65.1 998A0.7 0.6 77 1 0 65.4 999.3A0.7 0.6 77 1 0 65.1 998ZM209.2 1009.8A0.5 0.4 91 1 0 209.2 1010.8A0.5 0.4 91 1 0 209.2 1009.8ZM67.3 1065.1A1 0.6 36 1 0 68.8 1066.3A1 0.6 36 1 0 67.3 1065.1ZM219.9 1011.6A0.8 0.7 57 1 0 220.8 1013A0.8 0.7 57 1 0 219.9 1011.6ZM115.4 1071.4A1.2 0.8 1 1 0 117.9 1071.4A1.2 0.8 1 1 0 115.4 1071.4Z"/>
<rect x="44" y="1085.2" width="26" height="2.4" fill="#2e2e2e"/>
</g>
<rect x="42.8" y="963.6" width="223.2" height="126.5" fill="none" stroke="#333" stroke-width="1.1"/>
<clipPath id="cBR"><rect x="270.5" y="963.4" width="223.9" height="126.7"/></clipPath>
<g clip-path="url(#cBR)">
<polygon points="270,963 495,963 495,1091 270,1091" fill="#bfcde1" />
<polygon points="270,963 495,963 495,1091 270,1091" fill="#fff" filter="url(#texA)" opacity="0.8"/>
<polygon points="270,963 495,963 495,1091 270,1091" fill="#fff" filter="url(#texN)" opacity="0.3"/>
<g filter="url(#blur3)">
<polygon points="280,980 300,975 330,967 385,964 420,964 420,975 405,985 385,1000 385,1012 357,1017 345,1005 320,1000 287,990" fill="#b39878" opacity="0.6"/>
<polygon points="453,969 452.5,970.5 450.9,971.9 448.5,973 445.4,973.8 442,974 438.6,973.8 435.5,973 433.1,971.9 431.5,970.5 431,969 431.5,967.5 433.1,966.1 435.5,965 438.6,964.2 442,964 445.4,964.2 448.5,965 450.9,966.1 452.5,967.5" fill="#b39878" opacity="0.6"/>
<polygon points="402,986 401.5,989.1 399.9,991.9 397.5,994.1 394.4,995.5 391,996 387.6,995.5 384.5,994.1 382.1,991.9 380.5,989.1 380,986 380.5,982.9 382.1,980.1 384.5,977.9 387.6,976.5 391,976 394.4,976.5 397.5,977.9 399.9,980.1 401.5,982.9" fill="#b39878" opacity="0.45"/>
<polygon points="391,1008 390.7,1010.8 389.9,1013.3 388.5,1015.3 386.9,1016.6 385,1017 383.1,1016.6 381.5,1015.3 380.1,1013.3 379.3,1010.8 379,1008 379.3,1005.2 380.1,1002.7 381.5,1000.7 383.1,999.4 385,999 386.9,999.4 388.5,1000.7 389.9,1002.7 390.7,1005.2" fill="#b39878" opacity="0.45"/>
<polygon points="441,987 439.7,991 436,994.6 430.3,997.5 423,999.4 415,1000 407,999.4 399.7,997.5 394,994.6 390.3,991 389,987 390.3,983 394,979.4 399.7,976.5 407,974.6 415,974 423,974.6 430.3,976.5 436,979.4 439.7,983" fill="#b39878" opacity="0.35"/>
<polygon points="446,984 482,982 495,978 495,1066 470,1066 461,1030 461,1006 446,1000" fill="#b39878" opacity="0.7"/>
<polygon points="357,1017 385,1012 385,1058 367,1058 367,1030" fill="#b39878" opacity="0.55"/>
<polygon points="400,1042 399.5,1047.3 398.1,1052 395.9,1055.8 393.1,1058.2 390,1059 386.9,1058.2 384.1,1055.8 381.9,1052 380.5,1047.3 380,1042 380.5,1036.7 381.9,1032 384.1,1028.2 386.9,1025.8 390,1025 393.1,1025.8 395.9,1028.2 398.1,1032 399.5,1036.7" fill="#b39878" opacity="0.6"/>
<polygon points="393,1081 392.7,1083.8 391.7,1086.3 390.1,1088.3 388.2,1089.6 386,1090 383.8,1089.6 381.9,1088.3 380.3,1086.3 379.3,1083.8 379,1081 379.3,1078.2 380.3,1075.7 381.9,1073.7 383.8,1072.4 386,1072 388.2,1072.4 390.1,1073.7 391.7,1075.7 392.7,1078.2" fill="#b39878" opacity="0.5"/>
<polygon points="422,1034 421.4,1035.5 419.7,1036.9 417.1,1038 413.7,1038.8 410,1039 406.3,1038.8 402.9,1038 400.3,1036.9 398.6,1035.5 398,1034 398.6,1032.5 400.3,1031.1 402.9,1030 406.3,1029.2 410,1029 413.7,1029.2 417.1,1030 419.7,1031.1 421.4,1032.5" fill="#b39878" opacity="0.5"/>
<polygon points="442,1071 441.1,1074.7 438.6,1078.1 434.6,1080.7 429.6,1082.4 424,1083 418.4,1082.4 413.4,1080.7 409.4,1078.1 406.9,1074.7 406,1071 406.9,1067.3 409.4,1063.9 413.4,1061.3 418.4,1059.6 424,1059 429.6,1059.6 434.6,1061.3 438.6,1063.9 441.1,1067.3" fill="#b39878" opacity="0.55"/>
<polygon points="454,1068 453.7,1074.5 452.9,1080.3 451.5,1085 449.9,1088 448,1089 446.1,1088 444.5,1085 443.1,1080.3 442.3,1074.5 442,1068 442.3,1061.5 443.1,1055.7 444.5,1051 446.1,1048 448,1047 449.9,1048 451.5,1051 452.9,1055.7 453.7,1061.5" fill="#b39878" opacity="0.6"/>
<polygon points="468,1053 467.7,1057.3 466.9,1061.2 465.5,1064.3 463.9,1066.3 462,1067 460.1,1066.3 458.5,1064.3 457.1,1061.2 456.3,1057.3 456,1053 456.3,1048.7 457.1,1044.8 458.5,1041.7 460.1,1039.7 462,1039 463.9,1039.7 465.5,1041.7 466.9,1044.8 467.7,1048.7" fill="#b39878" opacity="0.55"/>
<polygon points="354,1047 353.7,1048.5 352.9,1049.9 351.5,1051 349.9,1051.8 348,1052 346.1,1051.8 344.5,1051 343.1,1049.9 342.3,1048.5 342,1047 342.3,1045.5 343.1,1044.1 344.5,1043 346.1,1042.2 348,1042 349.9,1042.2 351.5,1043 352.9,1044.1 353.7,1045.5" fill="#b39878" opacity="0.4"/>
<polygon points="339,1060 338.8,1063.7 338,1067.1 336.9,1069.7 335.5,1071.4 334,1072 332.5,1071.4 331.1,1069.7 330,1067.1 329.2,1063.7 329,1060 329.2,1056.3 330,1052.9 331.1,1050.3 332.5,1048.6 334,1048 335.5,1048.6 336.9,1050.3 338,1052.9 338.8,1056.3" fill="#b39878" opacity="0.4"/>
<polygon points="377,1077 376.3,1079.5 374.1,1081.7 370.8,1083.5 366.6,1084.6 362,1085 357.4,1084.6 353.2,1083.5 349.9,1081.7 347.7,1079.5 347,1077 347.7,1074.5 349.9,1072.3 353.2,1070.5 357.4,1069.4 362,1069 366.6,1069.4 370.8,1070.5 374.1,1072.3 376.3,1074.5" fill="#b39878" opacity="0.5"/>
<polygon points="284,1071 283.7,1072.9 282.7,1074.5 281.1,1075.9 279.2,1076.7 277,1077 274.8,1076.7 272.9,1075.9 271.3,1074.5 270.3,1072.9 270,1071 270.3,1069.1 271.3,1067.5 272.9,1066.1 274.8,1065.3 277,1065 279.2,1065.3 281.1,1066.1 282.7,1067.5 283.7,1069.1" fill="#b39878" opacity="0.4"/>
<polygon points="370,1032 368.3,1034.5 363.3,1036.7 355.6,1038.5 345.8,1039.6 335,1040 324.2,1039.6 314.4,1038.5 306.7,1036.7 301.7,1034.5 300,1032 301.7,1029.5 306.7,1027.3 314.4,1025.5 324.2,1024.4 335,1024 345.8,1024.4 355.6,1025.5 363.3,1027.3 368.3,1029.5" fill="#b39878" opacity="0.3"/>
<polygon points="492,1078 491.4,1081.1 489.7,1083.9 487.1,1086.1 483.7,1087.5 480,1088 476.3,1087.5 472.9,1086.1 470.3,1083.9 468.6,1081.1 468,1078 468.6,1074.9 470.3,1072.1 472.9,1069.9 476.3,1068.5 480,1068 483.7,1068.5 487.1,1069.9 489.7,1072.1 491.4,1074.9" fill="#b39878" opacity="0.25"/>
<polygon points="423,1003 422.6,1004.9 421.5,1006.5 419.7,1007.9 417.5,1008.7 415,1009 412.5,1008.7 410.3,1007.9 408.5,1006.5 407.4,1004.9 407,1003 407.4,1001.1 408.5,999.5 410.3,998.1 412.5,997.3 415,997 417.5,997.3 419.7,998.1 421.5,999.5 422.6,1001.1" fill="#b39878" opacity="0.35"/>
<polygon points="439,1016 438.7,1018.8 437.9,1021.3 436.5,1023.3 434.9,1024.6 433,1025 431.1,1024.6 429.5,1023.3 428.1,1021.3 427.3,1018.8 427,1016 427.3,1013.2 428.1,1010.7 429.5,1008.7 431.1,1007.4 433,1007 434.9,1007.4 436.5,1008.7 437.9,1010.7 438.7,1013.2" fill="#b39878" opacity="0.35"/>
<polygon points="413,1022 412.7,1023.5 411.7,1024.9 410.1,1026 408.2,1026.8 406,1027 403.8,1026.8 401.9,1026 400.3,1024.9 399.3,1023.5 399,1022 399.3,1020.5 400.3,1019.1 401.9,1018 403.8,1017.2 406,1017 408.2,1017.2 410.1,1018 411.7,1019.1 412.7,1020.5" fill="#b39878" opacity="0.3"/>
<polygon points="309,1048 308.6,1049.9 307.3,1051.5 305.3,1052.9 302.8,1053.7 300,1054 297.2,1053.7 294.7,1052.9 292.7,1051.5 291.4,1049.9 291,1048 291.4,1046.1 292.7,1044.5 294.7,1043.1 297.2,1042.3 300,1042 302.8,1042.3 305.3,1043.1 307.3,1044.5 308.6,1046.1" fill="#b39878" opacity="0.3"/>
<polygon points="326,1072 325.6,1073.9 324.5,1075.5 322.7,1076.9 320.5,1077.7 318,1078 315.5,1077.7 313.3,1076.9 311.5,1075.5 310.4,1073.9 310,1072 310.4,1070.1 311.5,1068.5 313.3,1067.1 315.5,1066.3 318,1066 320.5,1066.3 322.7,1067.1 324.5,1068.5 325.6,1070.1" fill="#b39878" opacity="0.25"/>
<polygon points="288,1040 287.7,1042.5 286.9,1044.7 285.5,1046.5 283.9,1047.6 282,1048 280.1,1047.6 278.5,1046.5 277.1,1044.7 276.3,1042.5 276,1040 276.3,1037.5 277.1,1035.3 278.5,1033.5 280.1,1032.4 282,1032 283.9,1032.4 285.5,1033.5 286.9,1035.3 287.7,1037.5" fill="#b39878" opacity="0.3"/>
</g>
<g fill="#e9ecea"><polygon points="283,995 300,993 320,1000 340,1008 338,1022 310,1026 288,1020" opacity="0.5"/><ellipse cx="425" cy="1079" rx="12" ry="10"/><ellipse cx="455" cy="1057" rx="5" ry="6.5"/><ellipse cx="409" cy="1041" rx="9" ry="5" opacity="0.7"/><ellipse cx="358" cy="1062" rx="7" ry="12" opacity="0.6"/><path d="M470 1008 Q478 1014 482 1022" stroke="#e9ecea" stroke-width="2.5" fill="none"/></g>
<path fill="#4f2e14" fill-opacity="0.95" d="M335.8 991.5A1.8 1.5 40 1 0 338.6 993.9A1.8 1.5 40 1 0 335.8 991.5ZM376 982.3A2 1.1 58 1 0 378.1 985.8A2 1.1 58 1 0 376 982.3ZM294.1 988.5A1 0.9 134 1 0 292.7 990A1 0.9 134 1 0 294.1 988.5ZM328.1 968.5A3.4 1.6 26 1 0 334.3 971.5A3.4 1.6 26 1 0 328.1 968.5ZM309.8 970.6A1.9 0.8 60 1 0 311.7 973.9A1.9 0.8 60 1 0 309.8 970.6ZM354 975.2A1 0.8 2 1 0 356 975.3A1 0.8 2 1 0 354 975.2ZM337 977.3A1.7 1.4 111 1 0 335.8 980.5A1.7 1.4 111 1 0 337 977.3ZM326.6 994.5A1.8 1 147 1 0 323.5 996.5A1.8 1 147 1 0 326.6 994.5ZM355.6 1000.2A1 0.8 96 1 0 355.3 1002.2A1 0.8 96 1 0 355.6 1000.2ZM310.5 992.6A1.5 1.5 62 1 0 311.8 995.2A1.5 1.5 62 1 0 310.5 992.6ZM340.8 967.1A0.9 0.9 13 1 0 342.6 967.5A0.9 0.9 13 1 0 340.8 967.1ZM349 996.1A2.2 1.1 98 1 0 348.4 1000.4A2.2 1.1 98 1 0 349 996.1ZM365.8 982.3A2.9 1.5 35 1 0 370.5 985.7A2.9 1.5 35 1 0 365.8 982.3ZM322.9 981.6A1 0.9 17 1 0 324.8 982.2A1 0.9 17 1 0 322.9 981.6ZM436.6 968.9A2.5 1.3 174 1 0 431.7 969.4A2.5 1.3 174 1 0 436.6 968.9ZM445.3 971.5A2.4 1.4 14 1 0 449.9 972.7A2.4 1.4 14 1 0 445.3 971.5ZM435.3 966.2A2.2 1 148 1 0 431.6 968.5A2.2 1 148 1 0 435.3 966.2ZM389.6 990.1A1.3 1.1 115 1 0 388.5 992.4A1.3 1.1 115 1 0 389.6 990.1ZM386.2 982.9A1.9 0.8 124 1 0 384 986.1A1.9 0.8 124 1 0 386.2 982.9ZM397.5 991.8A1.2 1.1 116 1 0 396.4 994A1.2 1.1 116 1 0 397.5 991.8ZM383.2 997.9A2.4 1.3 105 1 0 382 1002.4A2.4 1.3 105 1 0 383.2 997.9ZM400.8 992.7A1.3 0.8 154 1 0 398.3 993.9A1.3 0.8 154 1 0 400.8 992.7ZM410.8 990.1A1.5 1.3 67 1 0 412 992.9A1.5 1.3 67 1 0 410.8 990.1ZM396.6 980.6A2.1 1.2 50 1 0 399.3 983.9A2.1 1.2 50 1 0 396.6 980.6ZM433.6 981.4A2.3 1.3 17 1 0 438 982.8A2.3 1.3 17 1 0 433.6 981.4ZM426.2 974.1A1.8 0.8 146 1 0 423.2 976.1A1.8 0.8 146 1 0 426.2 974.1ZM483.1 1063.3A1 0.9 147 1 0 481.4 1064.3A1 0.9 147 1 0 483.1 1063.3ZM492 1026.3A1.4 1.1 58 1 0 493.5 1028.8A1.4 1.1 58 1 0 492 1026.3ZM448.1 986.2A2.6 1.5 124 1 0 445.1 990.5A2.6 1.5 124 1 0 448.1 986.2ZM474.5 1042.8A2 1.5 71 1 0 475.8 1046.6A2 1.5 71 1 0 474.5 1042.8ZM489.5 986.6A2.2 1.6 101 1 0 488.7 991A2.2 1.6 101 1 0 489.5 986.6ZM483.9 1061.9A2.9 1.5 116 1 0 481.3 1067A2.9 1.5 116 1 0 483.9 1061.9ZM473.4 987.5A1.3 0.9 132 1 0 471.7 989.4A1.3 0.9 132 1 0 473.4 987.5ZM451.1 998A1.2 0.9 54 1 0 452.5 999.9A1.2 0.9 54 1 0 451.1 998ZM491.9 1014A1.5 1 134 1 0 489.8 1016.2A1.5 1 134 1 0 491.9 1014ZM483.5 1046.1A2.3 1.1 147 1 0 479.5 1048.6A2.3 1.1 147 1 0 483.5 1046.1ZM486.9 1002.4A3.1 1.5 168 1 0 480.9 1003.6A3.1 1.5 168 1 0 486.9 1002.4ZM475.1 994.4A1.9 0.9 74 1 0 476.1 998.1A1.9 0.9 74 1 0 475.1 994.4ZM490.6 1052.4A3.1 1.4 154 1 0 485 1055.1A3.1 1.4 154 1 0 490.6 1052.4ZM475.7 1038.1A2.5 1.5 165 1 0 470.8 1039.4A2.5 1.5 165 1 0 475.7 1038.1ZM495.3 1011.6A1.9 0.9 129 1 0 492.9 1014.5A1.9 0.9 129 1 0 495.3 1011.6ZM494.5 980.9A1.6 1.3 84 1 0 494.8 984.1A1.6 1.3 84 1 0 494.5 980.9ZM484.6 1055A2.9 1.5 2 1 0 490.4 1055.3A2.9 1.5 2 1 0 484.6 1055ZM477.8 1021.3A1.5 1.2 147 1 0 475.2 1022.9A1.5 1.2 147 1 0 477.8 1021.3ZM489.5 1032.1A1.7 0.9 88 1 0 489.6 1035.4A1.7 0.9 88 1 0 489.5 1032.1ZM476 1060.8A1.4 1.4 79 1 0 476.6 1063.5A1.4 1.4 79 1 0 476 1060.8ZM495.8 1010.8A2.5 1.2 129 1 0 492.6 1014.7A2.5 1.2 129 1 0 495.8 1010.8ZM479.7 983.1A2.8 1.6 61 1 0 482.4 988A2.8 1.6 61 1 0 479.7 983.1ZM491.9 984.7A1.4 1 75 1 0 492.6 987.5A1.4 1 75 1 0 491.9 984.7ZM478 1049.3A2.3 1.4 101 1 0 477.1 1053.9A2.3 1.4 101 1 0 478 1049.3ZM469.3 1057.4A1.7 1.1 106 1 0 468.3 1060.8A1.7 1.1 106 1 0 469.3 1057.4ZM477.3 1001.8A1.6 1.5 123 1 0 475.6 1004.4A1.6 1.5 123 1 0 477.3 1001.8ZM379.3 1056.1A1.9 1 118 1 0 377.5 1059.4A1.9 1 118 1 0 379.3 1056.1ZM383.5 1048.7A1.3 1.1 90 1 0 383.5 1051.4A1.3 1.1 90 1 0 383.5 1048.7ZM378.5 1045.2A1.8 1.5 99 1 0 377.9 1048.8A1.8 1.5 99 1 0 378.5 1045.2ZM379.5 1035.6A2.2 1 33 1 0 383.1 1037.9A2.2 1 33 1 0 379.5 1035.6ZM367 1019.1A2 1.5 96 1 0 366.6 1023.2A2 1.5 96 1 0 367 1019.1ZM400.3 1040.8A2 0.9 103 1 0 399.4 1044.7A2 0.9 103 1 0 400.3 1040.8ZM381.6 1045.7A2.2 1.2 33 1 0 385.2 1048.1A2.2 1.2 33 1 0 381.6 1045.7ZM390.3 1040A3.2 1.5 105 1 0 388.6 1046.1A3.2 1.5 105 1 0 390.3 1040ZM386.2 1043A1.8 1.6 30 1 0 389.4 1044.8A1.8 1.6 30 1 0 386.2 1043ZM384.4 1052.2A1.1 0.7 68 1 0 385.3 1054.3A1.1 0.7 68 1 0 384.4 1052.2ZM388.8 1036.7A1.5 1.3 78 1 0 389.4 1039.7A1.5 1.3 78 1 0 388.8 1036.7ZM392.6 1029A2.4 1.2 57 1 0 395.2 1033.1A2.4 1.2 57 1 0 392.6 1029ZM381.3 1051.5A2.5 1.5 30 1 0 385.5 1054A2.5 1.5 30 1 0 381.3 1051.5ZM381.9 1036A1.2 0.9 26 1 0 384.1 1037.2A1.2 0.9 26 1 0 381.9 1036ZM380.7 1035.9A2.5 1.3 8 1 0 385.7 1036.7A2.5 1.3 8 1 0 380.7 1035.9ZM389.4 1071.7A1.4 0.7 98 1 0 389 1074.6A1.4 0.7 98 1 0 389.4 1071.7ZM382.2 1078.8A1 0.8 126 1 0 381 1080.4A1 0.8 126 1 0 382.2 1078.8ZM409.5 1035.2A1.7 1.4 52 1 0 411.5 1037.8A1.7 1.4 52 1 0 409.5 1035.2ZM418.5 1034.2A1.8 0.9 73 1 0 419.6 1037.7A1.8 0.9 73 1 0 418.5 1034.2ZM436.3 1071A2.2 1 164 1 0 432 1072.2A2.2 1 164 1 0 436.3 1071ZM415.6 1060.8A3.1 1.3 148 1 0 410.4 1064A3.1 1.3 148 1 0 415.6 1060.8ZM413.9 1061.2A1.1 0.7 35 1 0 415.8 1062.5A1.1 0.7 35 1 0 413.9 1061.2ZM437.7 1063.4A1.5 1.4 79 1 0 438.3 1066.4A1.5 1.4 79 1 0 437.7 1063.4ZM420.7 1066.5A2.6 1.6 28 1 0 425.3 1069A2.6 1.6 28 1 0 420.7 1066.5ZM426.7 1064.1A1.7 1.5 175 1 0 423.3 1064.3A1.7 1.5 175 1 0 426.7 1064.1ZM426.4 1071.2A2.1 1.3 6 1 0 430.6 1071.7A2.1 1.3 6 1 0 426.4 1071.2ZM427.9 1062.6A0.9 0.9 26 1 0 429.6 1063.4A0.9 0.9 26 1 0 427.9 1062.6ZM416.6 1069.6A3.2 1.4 145 1 0 411.4 1073.2A3.2 1.4 145 1 0 416.6 1069.6ZM409.6 1068.3A1.1 0.9 10 1 0 411.8 1068.7A1.1 0.9 10 1 0 409.6 1068.3ZM448.6 1079.5A1.2 1.2 109 1 0 447.8 1081.8A1.2 1.2 109 1 0 448.6 1079.5ZM454.5 1075.1A2.5 1.3 121 1 0 451.9 1079.3A2.5 1.3 121 1 0 454.5 1075.1ZM442.7 1083.7A1.8 0.9 14 1 0 446.3 1084.6A1.8 0.9 14 1 0 442.7 1083.7ZM449.6 1086.8A0.8 0.8 158 1 0 448 1087.4A0.8 0.8 158 1 0 449.6 1086.8ZM454.5 1062.7A1 0.7 143 1 0 452.9 1063.9A1 0.7 143 1 0 454.5 1062.7ZM447.3 1053A2.2 1.3 19 1 0 451.4 1054.4A2.2 1.3 19 1 0 447.3 1053ZM465.7 1058.1A2.5 1.3 136 1 0 462.1 1061.6A2.5 1.3 136 1 0 465.7 1058.1ZM461.3 1053A1.1 0.8 24 1 0 463.2 1053.8A1.1 0.8 24 1 0 461.3 1053ZM464.7 1060.5A1.1 0.7 139 1 0 463.1 1061.9A1.1 0.7 139 1 0 464.7 1060.5ZM344.9 1042.4A1.6 1.2 82 1 0 345.3 1045.6A1.6 1.2 82 1 0 344.9 1042.4ZM348.1 1043.5A1.1 0.8 32 1 0 349.9 1044.7A1.1 0.8 32 1 0 348.1 1043.5ZM332.6 1058.8A1.2 1 113 1 0 331.6 1061.1A1.2 1 113 1 0 332.6 1058.8ZM331.8 1059.2A2.2 1.2 142 1 0 328.3 1061.9A2.2 1.2 142 1 0 331.8 1059.2ZM330.6 1066.1A1.3 1.2 32 1 0 332.9 1067.5A1.3 1.2 32 1 0 330.6 1066.1ZM338.7 1062.1A2 1.4 94 1 0 338.4 1066A2 1.4 94 1 0 338.7 1062.1ZM357.3 1077.1A2.5 1.5 70 1 0 358.9 1081.8A2.5 1.5 70 1 0 357.3 1077.1ZM356 1076A1.3 1.1 31 1 0 358.1 1077.4A1.3 1.1 31 1 0 356 1076ZM355.7 1075.3A1 0.9 169 1 0 353.7 1075.6A1 0.9 169 1 0 355.7 1075.3ZM374.2 1075.6A1.7 0.9 87 1 0 374.4 1079.1A1.7 0.9 87 1 0 374.2 1075.6ZM366.1 1078.9A2.6 1.1 129 1 0 362.9 1082.9A2.6 1.1 129 1 0 366.1 1078.9ZM373.1 1075.1A1.3 0.7 97 1 0 372.7 1077.7A1.3 0.7 97 1 0 373.1 1075.1ZM374.2 1079.8A1.8 1.3 167 1 0 370.7 1080.6A1.8 1.3 167 1 0 374.2 1079.8ZM358.5 1076.3A2.3 1.1 127 1 0 355.7 1080A2.3 1.1 127 1 0 358.5 1076.3ZM367.7 1079A2.1 1.6 24 1 0 371.5 1080.8A2.1 1.6 24 1 0 367.7 1079ZM370.6 1080.5A1 0.8 90 1 0 370.6 1082.5A1 0.8 90 1 0 370.6 1080.5ZM274 1074.6A1.6 1.4 67 1 0 275.2 1077.6A1.6 1.4 67 1 0 274 1074.6ZM271.8 1070.5A1.4 1.1 123 1 0 270.2 1072.8A1.4 1.1 123 1 0 271.8 1070.5ZM269.7 1070.1A2.1 1 14 1 0 273.7 1071.1A2.1 1 14 1 0 269.7 1070.1ZM318.6 1028.4A1.6 1 16 1 0 321.6 1029.3A1.6 1 16 1 0 318.6 1028.4ZM487.2 1069.4A1.2 0.9 78 1 0 487.7 1071.8A1.2 0.9 78 1 0 487.2 1069.4ZM473.9 1069.9A0.9 0.7 142 1 0 472.4 1071.1A0.9 0.7 142 1 0 473.9 1069.9ZM407.7 1000.8A1.4 1 61 1 0 409.1 1003.3A1.4 1 61 1 0 407.7 1000.8ZM410.6 998.6A1.5 1 157 1 0 407.8 999.7A1.5 1 157 1 0 410.6 998.6ZM418.7 1001.5A2.6 1.3 18 1 0 423.7 1003.2A2.6 1.3 18 1 0 418.7 1001.5ZM421.8 1002.2A1.3 0.7 123 1 0 420.4 1004.4A1.3 0.7 123 1 0 421.8 1002.2ZM436.6 1017.8A2.4 1.1 62 1 0 438.8 1022A2.4 1.1 62 1 0 436.6 1017.8ZM408.6 1021.7A1.8 1.4 133 1 0 406.2 1024.3A1.8 1.4 133 1 0 408.6 1021.7ZM297.4 1051.2A0.7 0.6 172 1 0 296.1 1051.3A0.7 0.6 172 1 0 297.4 1051.2ZM291.7 1047.5A1.7 1 87 1 0 291.9 1050.9A1.7 1 87 1 0 291.7 1047.5ZM307 1043.5A1.3 0.6 133 1 0 305.3 1045.4A1.3 0.6 133 1 0 307 1043.5ZM298.1 1046.2A1.9 1 154 1 0 294.6 1047.9A1.9 1 154 1 0 298.1 1046.2ZM315.9 1067.2A1.2 1.1 137 1 0 314.1 1068.8A1.2 1.1 137 1 0 315.9 1067.2ZM312 1070.9A1.2 1 116 1 0 310.9 1073.2A1.2 1 116 1 0 312 1070.9ZM314 1072A1.5 1.2 120 1 0 312.5 1074.6A1.5 1.2 120 1 0 314 1072ZM281.4 1041.9A1.7 0.7 137 1 0 278.9 1044.2A1.7 0.7 137 1 0 281.4 1041.9Z"/>
<path fill="#6e4420" fill-opacity="0.9" d="M312.3 992.8A1.6 0.8 123 1 0 310.6 995.5A1.6 0.8 123 1 0 312.3 992.8ZM327.8 977.6A1.4 0.8 105 1 0 327 980.3A1.4 0.8 105 1 0 327.8 977.6ZM377.5 1000.4A2.6 1.4 152 1 0 372.9 1002.8A2.6 1.4 152 1 0 377.5 1000.4ZM343.3 971.5A3 1.5 0 1 0 349.4 971.6A3 1.5 0 1 0 343.3 971.5ZM292.1 989.6A3.6 1.6 179 1 0 284.9 989.6A3.6 1.6 179 1 0 292.1 989.6ZM291.5 978.2A1.3 1.1 169 1 0 289 978.6A1.3 1.1 169 1 0 291.5 978.2ZM320 983.8A1.8 1 173 1 0 316.4 984.2A1.8 1 173 1 0 320 983.8ZM294.4 990.4A1.9 1.5 45 1 0 297.1 993.2A1.9 1.5 45 1 0 294.4 990.4ZM314.1 972.4A1.9 1.2 75 1 0 315 976A1.9 1.2 75 1 0 314.1 972.4ZM401.6 983.3A1.9 1.1 46 1 0 404.2 986.1A1.9 1.1 46 1 0 401.6 983.3ZM347.1 974.2A2.9 1.6 58 1 0 350.1 979.2A2.9 1.6 58 1 0 347.1 974.2ZM366.9 1010.1A1.9 1.3 7 1 0 370.6 1010.6A1.9 1.3 7 1 0 366.9 1010.1ZM378.8 963.2A1.5 0.8 113 1 0 377.6 966A1.5 0.8 113 1 0 378.8 963.2ZM363.1 985.4A1.2 0.7 77 1 0 363.7 987.7A1.2 0.7 77 1 0 363.1 985.4ZM404 973A1.3 1.1 166 1 0 401.5 973.6A1.3 1.1 166 1 0 404 973ZM338.4 997.2A1.5 0.8 61 1 0 339.9 999.9A1.5 0.8 61 1 0 338.4 997.2ZM366.3 995.6A2.1 0.9 71 1 0 367.6 999.5A2.1 0.9 71 1 0 366.3 995.6ZM391.9 975.7A1.5 0.9 145 1 0 389.4 977.4A1.5 0.9 145 1 0 391.9 975.7ZM447.9 965.1A1.5 1 150 1 0 445.3 966.6A1.5 1 150 1 0 447.9 965.1ZM451.4 968.4A1.5 0.8 14 1 0 454.2 969.2A1.5 0.8 14 1 0 451.4 968.4ZM441.7 967.9A2 1.2 40 1 0 444.7 970.5A2 1.2 40 1 0 441.7 967.9ZM388.5 988A1.6 0.8 179 1 0 385.4 988.1A1.6 0.8 179 1 0 388.5 988ZM394 981.8A2.1 1.2 31 1 0 397.5 983.9A2.1 1.2 31 1 0 394 981.8ZM393.2 986.9A1.4 1.4 62 1 0 394.6 989.4A1.4 1.4 62 1 0 393.2 986.9ZM384.5 990.8A1.5 0.8 175 1 0 381.5 991.1A1.5 0.8 175 1 0 384.5 990.8ZM392.7 993.6A1.2 0.9 71 1 0 393.5 995.8A1.2 0.9 71 1 0 392.7 993.6ZM399.8 980.4A2.1 1.2 90 1 0 399.8 984.6A2.1 1.2 90 1 0 399.8 980.4ZM381 999.9A1.1 0.8 32 1 0 382.8 1001.1A1.1 0.8 32 1 0 381 999.9ZM388.6 1010.3A1.7 1.2 109 1 0 387.4 1013.6A1.7 1.2 109 1 0 388.6 1010.3ZM387.3 1006A1.6 1 125 1 0 385.4 1008.6A1.6 1 125 1 0 387.3 1006ZM437.2 987.6A2.2 1.4 126 1 0 434.6 991.1A2.2 1.4 126 1 0 437.2 987.6ZM410.5 996.7A1.7 0.8 122 1 0 408.7 999.6A1.7 0.8 122 1 0 410.5 996.7ZM414.9 999.3A1.7 1.1 15 1 0 418.1 1000.2A1.7 1.1 15 1 0 414.9 999.3ZM416.5 981.9A0.6 0.6 49 1 0 417.4 982.9A0.6 0.6 49 1 0 416.5 981.9ZM424.8 986A1.4 0.6 85 1 0 425 988.8A1.4 0.6 85 1 0 424.8 986ZM389.6 984.8A2.4 1.1 58 1 0 392.1 989A2.4 1.1 58 1 0 389.6 984.8ZM405.7 995.3A1.8 1.4 125 1 0 403.6 998.3A1.8 1.4 125 1 0 405.7 995.3ZM426.8 993.4A2 1 60 1 0 428.8 996.9A2 1 60 1 0 426.8 993.4ZM431.7 984.2A2 1.2 118 1 0 429.8 987.8A2 1.2 118 1 0 431.7 984.2ZM400.7 981A2.1 1 18 1 0 404.6 982.3A2.1 1 18 1 0 400.7 981ZM419.9 981.9A1.5 1.1 113 1 0 418.7 984.6A1.5 1.1 113 1 0 419.9 981.9ZM432.9 982.6A1 0.6 173 1 0 430.9 982.9A1 0.6 173 1 0 432.9 982.6ZM426.3 982.8A1.4 0.9 105 1 0 425.6 985.5A1.4 0.9 105 1 0 426.3 982.8ZM408.2 984.1A1.6 1.1 34 1 0 410.9 985.9A1.6 1.1 34 1 0 408.2 984.1ZM488.7 1051A1 1 47 1 0 490 1052.5A1 1 47 1 0 488.7 1051ZM462.1 990.8A1.3 0.7 5 1 0 464.6 991A1.3 0.7 5 1 0 462.1 990.8ZM468.2 1028.3A2.1 1.1 116 1 0 466.3 1032A2.1 1.1 116 1 0 468.2 1028.3ZM461.5 992.2A2.1 1.5 94 1 0 461.1 996.4A2.1 1.5 94 1 0 461.5 992.2ZM477.6 1021.9A1.7 1.2 137 1 0 475.1 1024.2A1.7 1.2 137 1 0 477.6 1021.9ZM494.2 1016.5A2.6 1.6 152 1 0 489.6 1018.9A2.6 1.6 152 1 0 494.2 1016.5ZM471.3 1025.1A1.3 1.1 15 1 0 473.9 1025.8A1.3 1.1 15 1 0 471.3 1025.1ZM478.8 1008.7A1.5 1 28 1 0 481.4 1010.1A1.5 1 28 1 0 478.8 1008.7ZM484.3 1010.7A2.6 1.5 168 1 0 479.2 1011.7A2.6 1.5 168 1 0 484.3 1010.7ZM487.5 1033.8A1.8 1 70 1 0 488.7 1037.3A1.8 1 70 1 0 487.5 1033.8ZM464.9 1039.9A1.4 1.3 62 1 0 466.3 1042.4A1.4 1.3 62 1 0 464.9 1039.9ZM492.9 989.1A1.1 0.8 94 1 0 492.8 991.3A1.1 0.8 94 1 0 492.9 989.1ZM486.3 1041.3A1.8 1.4 7 1 0 489.9 1041.8A1.8 1.4 7 1 0 486.3 1041.3ZM485.5 1030.9A2.9 1.5 146 1 0 480.7 1034.1A2.9 1.5 146 1 0 485.5 1030.9ZM481.7 1018.6A1.7 0.8 154 1 0 478.7 1020A1.7 0.8 154 1 0 481.7 1018.6ZM478.6 1058.8A1.3 0.9 42 1 0 480.5 1060.5A1.3 0.9 42 1 0 478.6 1058.8ZM495.9 982.7A1.5 1.2 168 1 0 493 983.4A1.5 1.2 168 1 0 495.9 982.7ZM447.7 988.1A1.7 1.5 145 1 0 445 990A1.7 1.5 145 1 0 447.7 988.1ZM473.5 1013.9A0.9 0.9 79 1 0 473.8 1015.6A0.9 0.9 79 1 0 473.5 1013.9ZM454.1 997.9A1.5 0.8 32 1 0 456.7 999.6A1.5 0.8 32 1 0 454.1 997.9ZM492.6 1028.4A1.4 1.1 112 1 0 491.6 1031A1.4 1.1 112 1 0 492.6 1028.4ZM470.9 1020.9A3.2 1.5 141 1 0 465.8 1024.9A3.2 1.5 141 1 0 470.9 1020.9ZM488.3 1029.2A1.3 0.8 116 1 0 487.1 1031.6A1.3 0.8 116 1 0 488.3 1029.2ZM468.8 1031.1A1.2 1.2 45 1 0 470.5 1032.8A1.2 1.2 45 1 0 468.8 1031.1ZM470.7 1007.7A2.1 0.9 34 1 0 474.2 1010.1A2.1 0.9 34 1 0 470.7 1007.7ZM449.3 985.3A2 1.2 12 1 0 453.2 986.2A2 1.2 12 1 0 449.3 985.3ZM479.4 1028.7A1.6 1.2 133 1 0 477.1 1031A1.6 1.2 133 1 0 479.4 1028.7ZM455.5 996.9A1.6 0.7 66 1 0 456.9 999.9A1.6 0.7 66 1 0 455.5 996.9ZM484.3 1015.3A1.2 1 173 1 0 482 1015.6A1.2 1 173 1 0 484.3 1015.3ZM474.6 1048.3A1.4 1 50 1 0 476.4 1050.5A1.4 1 50 1 0 474.6 1048.3ZM489.2 997.8A2.1 1.3 35 1 0 492.5 1000.2A2.1 1.3 35 1 0 489.2 997.8ZM467.2 998.7A2.9 1.4 113 1 0 465 1004A2.9 1.4 113 1 0 467.2 998.7ZM479.4 995.1A2.8 1.5 142 1 0 475 998.5A2.8 1.5 142 1 0 479.4 995.1ZM493.7 989.4A1.1 0.8 113 1 0 492.8 991.5A1.1 0.8 113 1 0 493.7 989.4ZM470.2 1009.5A3.2 1.6 157 1 0 464.2 1012A3.2 1.6 157 1 0 470.2 1009.5ZM380.5 1052.9A1.9 1 95 1 0 380.1 1056.7A1.9 1 95 1 0 380.5 1052.9ZM376.4 1023.1A1.3 0.8 60 1 0 377.7 1025.3A1.3 0.8 60 1 0 376.4 1023.1ZM369.8 1014A2.5 1.1 131 1 0 366.4 1017.8A2.5 1.1 131 1 0 369.8 1014ZM384 1036.1A1.1 1.1 168 1 0 381.8 1036.5A1.1 1.1 168 1 0 384 1036.1ZM377.1 1029.6A1.8 1 5 1 0 380.6 1029.9A1.8 1 5 1 0 377.1 1029.6ZM373.7 1015.6A2.3 1.2 48 1 0 376.7 1019A2.3 1.2 48 1 0 373.7 1015.6ZM392.8 1033.5A2.8 1.4 29 1 0 397.7 1036.3A2.8 1.4 29 1 0 392.8 1033.5ZM394.3 1051.3A1.4 0.7 50 1 0 396.1 1053.4A1.4 0.7 50 1 0 394.3 1051.3ZM394.4 1032.6A3.1 1.6 173 1 0 388.3 1033.2A3.1 1.6 173 1 0 394.4 1032.6ZM384.3 1027.8A0.9 0.8 18 1 0 386.1 1028.3A0.9 0.8 18 1 0 384.3 1027.8ZM382 1082.3A1.9 1 122 1 0 380 1085.5A1.9 1 122 1 0 382 1082.3ZM391.5 1072.7A2.1 1.3 153 1 0 387.7 1074.5A2.1 1.3 153 1 0 391.5 1072.7ZM389.9 1074.6A1.8 0.8 154 1 0 386.6 1076.2A1.8 0.8 154 1 0 389.9 1074.6ZM410.2 1030.3A2.7 1.5 45 1 0 413.9 1034.1A2.7 1.5 45 1 0 410.2 1030.3ZM413.3 1033.6A1.9 1.2 145 1 0 410.2 1035.7A1.9 1.2 145 1 0 413.3 1033.6ZM407.9 1030.5A2 1.3 120 1 0 405.8 1033.9A2 1.3 120 1 0 407.9 1030.5ZM415.7 1032.6A1.5 1.4 171 1 0 412.7 1033.1A1.5 1.4 171 1 0 415.7 1032.6ZM399.6 1034.4A2 1.4 40 1 0 402.6 1036.9A2 1.4 40 1 0 399.6 1034.4ZM402.7 1034.4A1.1 0.7 100 1 0 402.3 1036.5A1.1 0.7 100 1 0 402.7 1034.4ZM414.7 1062.8A2.2 1.2 71 1 0 416.2 1067A2.2 1.2 71 1 0 414.7 1062.8ZM429.1 1065.8A1.2 1 139 1 0 427.3 1067.3A1.2 1 139 1 0 429.1 1065.8ZM427.8 1067.7A1.3 1.1 60 1 0 429.1 1070A1.3 1.1 60 1 0 427.8 1067.7ZM426.7 1058.7A2 0.9 128 1 0 424.2 1061.8A2 0.9 128 1 0 426.7 1058.7ZM450.6 1062.8A1.6 0.9 10 1 0 453.7 1063.4A1.6 0.9 10 1 0 450.6 1062.8ZM450.9 1049.6A1.6 1.1 144 1 0 448.4 1051.4A1.6 1.1 144 1 0 450.9 1049.6ZM450.2 1062.2A1.4 1.3 162 1 0 447.5 1063.1A1.4 1.3 162 1 0 450.2 1062.2ZM452.9 1075.8A1.5 0.9 173 1 0 449.8 1076.2A1.5 0.9 173 1 0 452.9 1075.8ZM445.4 1074.3A2.3 1.3 94 1 0 445.1 1078.8A2.3 1.3 94 1 0 445.4 1074.3ZM462.7 1053.2A2.4 1.1 157 1 0 458.2 1055.1A2.4 1.1 157 1 0 462.7 1053.2ZM350.9 1043.3A0.8 0.8 134 1 0 349.7 1044.4A0.8 0.8 134 1 0 350.9 1043.3ZM343.5 1046.4A1.5 1.3 12 1 0 346.4 1047A1.5 1.3 12 1 0 343.5 1046.4ZM333 1053.7A2.2 1.2 141 1 0 329.5 1056.5A2.2 1.2 141 1 0 333 1053.7ZM333.1 1058.8A1.4 0.8 73 1 0 333.9 1061.5A1.4 0.8 73 1 0 333.1 1058.8ZM334.1 1065.5A0.9 0.7 35 1 0 335.7 1066.6A0.9 0.7 35 1 0 334.1 1065.5ZM333.7 1060.9A1.9 1.2 113 1 0 332.3 1064.4A1.9 1.2 113 1 0 333.7 1060.9ZM360 1078.3A1.7 1.5 160 1 0 356.9 1079.4A1.7 1.5 160 1 0 360 1078.3ZM362.7 1069.6A1.9 1.5 117 1 0 360.9 1073A1.9 1.5 117 1 0 362.7 1069.6ZM355.6 1071.5A1.3 1.1 131 1 0 354 1073.4A1.3 1.1 131 1 0 355.6 1071.5ZM368.3 1077.4A2.9 1.4 107 1 0 366.5 1083A2.9 1.4 107 1 0 368.3 1077.4ZM366.3 1073A1.9 1.2 70 1 0 367.5 1076.6A1.9 1.2 70 1 0 366.3 1073ZM358.1 1069.5A0.8 0.7 131 1 0 357 1070.6A0.8 0.7 131 1 0 358.1 1069.5ZM364.3 1077.4A1.4 0.8 31 1 0 366.6 1078.8A1.4 0.8 31 1 0 364.3 1077.4ZM274 1067.9A1.8 0.9 127 1 0 271.7 1070.8A1.8 0.9 127 1 0 274 1067.9ZM302 1028A1.9 0.9 33 1 0 305.1 1030.1A1.9 0.9 33 1 0 302 1028ZM487.1 1073.6A2.7 1.3 143 1 0 482.7 1076.9A2.7 1.3 143 1 0 487.1 1073.6ZM417.7 1004.7A1.1 1.1 155 1 0 415.7 1005.6A1.1 1.1 155 1 0 417.7 1004.7ZM409.4 1004A1.1 0.9 36 1 0 411.2 1005.3A1.1 0.9 36 1 0 409.4 1004ZM435.1 1014.6A1.4 0.7 154 1 0 432.5 1015.8A1.4 0.7 154 1 0 435.1 1014.6ZM431.4 1009.8A2.2 1.2 149 1 0 427.6 1012A2.2 1.2 149 1 0 431.4 1009.8ZM431.7 1010.2A2 1.3 119 1 0 429.7 1013.6A2 1.3 119 1 0 431.7 1010.2ZM436 1009.4A1.4 0.9 162 1 0 433.3 1010.3A1.4 0.9 162 1 0 436 1009.4ZM407.6 1021.4A1.8 1.1 162 1 0 404.2 1022.5A1.8 1.1 162 1 0 407.6 1021.4ZM403.8 1025.7A2.3 1.3 21 1 0 408.1 1027.4A2.3 1.3 21 1 0 403.8 1025.7ZM405.2 1018.9A1.8 1 176 1 0 401.6 1019.2A1.8 1 176 1 0 405.2 1018.9ZM301.1 1052A0.7 0.7 90 1 0 301 1053.4A0.7 0.7 90 1 0 301.1 1052ZM322.5 1065A2.5 1.1 143 1 0 318.5 1068A2.5 1.1 143 1 0 322.5 1065ZM283.3 1038.5A1.1 0.7 55 1 0 284.6 1040.3A1.1 0.7 55 1 0 283.3 1038.5Z"/>
<path fill="#7c5029" fill-opacity="0.85" d="M411.4 969.4A2.9 1.3 6 1 0 417.1 970A2.9 1.3 6 1 0 411.4 969.4ZM329.7 987.9A2.3 1.1 27 1 0 333.7 990A2.3 1.1 27 1 0 329.7 987.9ZM337.3 982.3A1 0.8 129 1 0 336 983.9A1 0.8 129 1 0 337.3 982.3ZM356.1 988.6A1.3 1 72 1 0 356.9 991.1A1.3 1 72 1 0 356.1 988.6ZM320.1 990.7A1.9 1.4 126 1 0 317.9 993.8A1.9 1.4 126 1 0 320.1 990.7ZM394.1 981.7A3.1 1.6 123 1 0 390.7 986.8A3.1 1.6 123 1 0 394.1 981.7ZM348 977.3A1.7 1 80 1 0 348.5 980.7A1.7 1 80 1 0 348 977.3ZM346.6 997.4A0.9 0.9 40 1 0 347.9 998.6A0.9 0.9 40 1 0 346.6 997.4ZM371.7 978.7A2.9 1.3 61 1 0 374.4 983.7A2.9 1.3 61 1 0 371.7 978.7ZM380 980.5A1.5 1.3 97 1 0 379.6 983.5A1.5 1.3 97 1 0 380 980.5ZM383.4 996.8A1.6 0.8 139 1 0 380.9 998.9A1.6 0.8 139 1 0 383.4 996.8ZM366.2 982.6A1.7 1.2 75 1 0 367.1 985.9A1.7 1.2 75 1 0 366.2 982.6ZM339.9 985.5A1.2 1.1 53 1 0 341.3 987.4A1.2 1.1 53 1 0 339.9 985.5ZM331.9 968.3A2.9 1.3 116 1 0 329.3 973.5A2.9 1.3 116 1 0 331.9 968.3ZM284.6 982.6A2.8 1.5 74 1 0 286.1 988A2.8 1.5 74 1 0 284.6 982.6ZM374.6 986.8A2.5 1.2 177 1 0 369.7 987A2.5 1.2 177 1 0 374.6 986.8ZM338.9 984.9A2.1 1.2 70 1 0 340.4 988.9A2.1 1.2 70 1 0 338.9 984.9ZM285.8 984.6A2.2 1.5 113 1 0 284 988.7A2.2 1.5 113 1 0 285.8 984.6ZM446.8 971.4A2.4 1.4 151 1 0 442.6 973.7A2.4 1.4 151 1 0 446.8 971.4ZM383.7 980.4A1.2 0.7 82 1 0 384 982.8A1.2 0.7 82 1 0 383.7 980.4ZM385.1 1013.2A1.6 1.3 1 1 0 388.2 1013.3A1.6 1.3 1 1 0 385.1 1013.2ZM391.4 1006.4A1.3 0.8 156 1 0 389 1007.4A1.3 0.8 156 1 0 391.4 1006.4ZM432.7 994.7A1.7 0.9 102 1 0 431.9 998.1A1.7 0.9 102 1 0 432.7 994.7ZM428.5 984.8A1.7 0.8 162 1 0 425.3 985.8A1.7 0.8 162 1 0 428.5 984.8ZM422.5 982.8A1.8 1.1 57 1 0 424.4 985.9A1.8 1.1 57 1 0 422.5 982.8ZM418.5 978.7A2.3 1.2 111 1 0 416.7 983A2.3 1.2 111 1 0 418.5 978.7ZM438.3 989.2A1.1 0.9 17 1 0 440.4 989.9A1.1 0.9 17 1 0 438.3 989.2ZM466.2 998.2A1.7 1 84 1 0 466.6 1001.6A1.7 1 84 1 0 466.2 998.2ZM454 989.7A3.3 1.5 77 1 0 455.4 996.1A3.3 1.5 77 1 0 454 989.7ZM473.9 1047.9A1.8 1.4 90 1 0 473.8 1051.6A1.8 1.4 90 1 0 473.9 1047.9ZM476.7 1050A1.7 1.1 58 1 0 478.5 1052.9A1.7 1.1 58 1 0 476.7 1050ZM467.8 1008.6A0.9 0.9 162 1 0 466 1009.2A0.9 0.9 162 1 0 467.8 1008.6ZM468 991.6A3.3 1.6 168 1 0 461.6 992.9A3.3 1.6 168 1 0 468 991.6ZM472.7 1012.6A2.2 1.6 98 1 0 472 1016.9A2.2 1.6 98 1 0 472.7 1012.6ZM495 999.4A1 0.7 175 1 0 493 999.5A1 0.7 175 1 0 495 999.4ZM473.9 1018.1A1.6 1.5 101 1 0 473.3 1021.3A1.6 1.5 101 1 0 473.9 1018.1ZM471.5 984.1A3.4 1.6 118 1 0 468.3 990A3.4 1.6 118 1 0 471.5 984.1ZM477.3 1045.7A1.7 0.8 28 1 0 480.2 1047.3A1.7 0.8 28 1 0 477.3 1045.7ZM471.6 1027.9A1.8 0.9 129 1 0 469.3 1030.6A1.8 0.9 129 1 0 471.6 1027.9ZM487.2 1018.6A1.8 1.4 37 1 0 490.1 1020.8A1.8 1.4 37 1 0 487.2 1018.6ZM458.7 989.8A1.1 0.9 101 1 0 458.2 992A1.1 0.9 101 1 0 458.7 989.8ZM490.8 999.6A2.1 1.7 36 1 0 494.2 1002.2A2.1 1.7 36 1 0 490.8 999.6ZM490.7 1049.8A2.2 1.1 83 1 0 491.2 1054.1A2.2 1.1 83 1 0 490.7 1049.8ZM473.4 1062.5A1.4 1.1 82 1 0 473.8 1065.3A1.4 1.1 82 1 0 473.4 1062.5ZM472.5 1049.2A1.7 1.2 103 1 0 471.6 1052.6A1.7 1.2 103 1 0 472.5 1049.2ZM478.4 987.1A1.7 1 98 1 0 477.9 990.6A1.7 1 98 1 0 478.4 987.1ZM488.5 991.4A1.5 1.4 34 1 0 491 993.1A1.5 1.4 34 1 0 488.5 991.4ZM474.6 1044.7A2.9 1.5 163 1 0 469.1 1046.4A2.9 1.5 163 1 0 474.6 1044.7ZM485.7 1049.3A1.4 1.2 19 1 0 488.4 1050.2A1.4 1.2 19 1 0 485.7 1049.3ZM485.2 1040.8A1.4 1.3 45 1 0 487.1 1042.7A1.4 1.3 45 1 0 485.2 1040.8ZM477.9 1021.3A2.1 1.6 163 1 0 473.9 1022.5A2.1 1.6 163 1 0 477.9 1021.3ZM482.5 1031A1.3 0.7 91 1 0 482.5 1033.5A1.3 0.7 91 1 0 482.5 1031ZM381.5 1054.4A2.2 1.2 51 1 0 384.2 1057.7A2.2 1.2 51 1 0 381.5 1054.4ZM371.1 1017.1A2.7 1.3 146 1 0 366.6 1020.1A2.7 1.3 146 1 0 371.1 1017.1ZM375.8 1016.2A1.9 0.8 157 1 0 372.4 1017.6A1.9 0.8 157 1 0 375.8 1016.2ZM382.9 1044.2A2.4 1.4 140 1 0 379.2 1047.2A2.4 1.4 140 1 0 382.9 1044.2ZM390.6 1051.3A2.3 1.2 52 1 0 393.4 1054.9A2.3 1.2 52 1 0 390.6 1051.3ZM387.5 1031A0.9 0.9 55 1 0 388.6 1032.6A0.9 0.9 55 1 0 387.5 1031ZM385.8 1029.7A1.8 1.4 0 1 0 389.5 1029.8A1.8 1.4 0 1 0 385.8 1029.7ZM393 1051.5A1.3 1 29 1 0 395.2 1052.7A1.3 1 29 1 0 393 1051.5ZM393.6 1040.7A0.8 0.7 56 1 0 394.4 1041.9A0.8 0.7 56 1 0 393.6 1040.7ZM389.4 1042.3A1.5 0.8 97 1 0 389 1045.3A1.5 0.8 97 1 0 389.4 1042.3ZM380.9 1077A1.3 0.9 158 1 0 378.5 1077.9A1.3 0.9 158 1 0 380.9 1077ZM389.7 1076.9A1.5 1.2 31 1 0 392.2 1078.4A1.5 1.2 31 1 0 389.7 1076.9ZM417.1 1029.2A2.2 1 41 1 0 420.4 1032.2A2.2 1 41 1 0 417.1 1029.2ZM410.6 1027.4A3.1 1.4 85 1 0 411.1 1033.7A3.1 1.4 85 1 0 410.6 1027.4ZM415.3 1070.3A2.1 1 99 1 0 414.6 1074.3A2.1 1 99 1 0 415.3 1070.3ZM411.6 1060.5A3.2 1.5 62 1 0 414.6 1066.2A3.2 1.5 62 1 0 411.6 1060.5ZM409.3 1077.1A1.2 1.2 18 1 0 411.7 1077.8A1.2 1.2 18 1 0 409.3 1077.1ZM412.7 1070.7A1.7 0.9 85 1 0 413 1074.2A1.7 0.9 85 1 0 412.7 1070.7ZM410.3 1063.3A2.7 1.3 71 1 0 412.1 1068.5A2.7 1.3 71 1 0 410.3 1063.3ZM424.3 1059.2A2 1.2 89 1 0 424.4 1063.2A2 1.2 89 1 0 424.3 1059.2ZM420.4 1077.5A2.3 1 47 1 0 423.5 1080.9A2.3 1 47 1 0 420.4 1077.5ZM436.9 1071A1.2 0.9 96 1 0 436.6 1073.4A1.2 0.9 96 1 0 436.9 1071ZM443.7 1071.4A1.3 0.7 158 1 0 441.3 1072.3A1.3 0.7 158 1 0 443.7 1071.4ZM453.8 1082.5A2.2 1.6 173 1 0 449.4 1083A2.2 1.6 173 1 0 453.8 1082.5ZM441.7 1079.5A1.5 0.8 6 1 0 444.6 1079.8A1.5 0.8 6 1 0 441.7 1079.5ZM447.5 1085.3A2.9 1.3 102 1 0 446.2 1091A2.9 1.3 102 1 0 447.5 1085.3ZM456.5 1055.4A0.9 0.9 3 1 0 458.4 1055.5A0.9 0.9 3 1 0 456.5 1055.4ZM461.6 1049A2.2 1.5 68 1 0 463.2 1053.1A2.2 1.5 68 1 0 461.6 1049ZM460.1 1050.6A1.3 0.8 66 1 0 461.2 1053A1.3 0.8 66 1 0 460.1 1050.6ZM462.8 1049.8A1.6 1.4 139 1 0 460.5 1051.8A1.6 1.4 139 1 0 462.8 1049.8ZM345.9 1048.4A1.5 1 35 1 0 348.2 1050.1A1.5 1 35 1 0 345.9 1048.4ZM353 1080.6A2 1.4 104 1 0 352 1084.6A2 1.4 104 1 0 353 1080.6ZM355.6 1070.1A1.4 0.8 143 1 0 353.3 1071.7A1.4 0.8 143 1 0 355.6 1070.1ZM363.5 1082.5A1.8 1.3 108 1 0 362.3 1085.9A1.8 1.3 108 1 0 363.5 1082.5ZM372 1070.8A1.4 1 79 1 0 372.5 1073.5A1.4 1 79 1 0 372 1070.8ZM271.9 1070.1A1.2 1.2 22 1 0 274.1 1071A1.2 1.2 22 1 0 271.9 1070.1ZM278.8 1069A2.9 1.3 104 1 0 277.3 1074.6A2.9 1.3 104 1 0 278.8 1069ZM327.1 1024.3A1.2 1.1 122 1 0 325.9 1026.3A1.2 1.1 122 1 0 327.1 1024.3ZM483.2 1074.7A1.2 0.9 121 1 0 481.9 1076.8A1.2 0.9 121 1 0 483.2 1074.7ZM479.7 1071A1.7 0.8 142 1 0 477 1073.1A1.7 0.8 142 1 0 479.7 1071ZM421.5 1002.5A0.7 0.6 92 1 0 421.5 1003.9A0.7 0.6 92 1 0 421.5 1002.5ZM421.6 1003A1.8 0.9 105 1 0 420.7 1006.4A1.8 0.9 105 1 0 421.6 1003ZM436.6 1016.5A1.9 1.4 79 1 0 437.3 1020.3A1.9 1.4 79 1 0 436.6 1016.5ZM435 1022.2A1.5 1.2 133 1 0 432.9 1024.3A1.5 1.2 133 1 0 435 1022.2ZM436.8 1016.7A1.9 1 119 1 0 435 1020A1.9 1 119 1 0 436.8 1016.7ZM403.6 1023.5A1.6 0.8 52 1 0 405.6 1026.1A1.6 0.8 52 1 0 403.6 1023.5ZM397.8 1018.7A2.3 1.4 36 1 0 401.4 1021.5A2.3 1.4 36 1 0 397.8 1018.7ZM402.3 1017.1A1.7 1 128 1 0 400.2 1019.8A1.7 1 128 1 0 402.3 1017.1ZM306 1048.8A2.3 1 21 1 0 310.2 1050.4A2.3 1 21 1 0 306 1048.8ZM301.5 1048.3A1 0.8 169 1 0 299.6 1048.6A1 0.8 169 1 0 301.5 1048.3ZM276 1040.3A1.4 0.7 3 1 0 278.7 1040.5A1.4 0.7 3 1 0 276 1040.3ZM395.3 1056.2A1 0.6 33 1 0 397 1057.4A1 0.6 33 1 0 395.3 1056.2ZM399 993.9A1.3 0.8 104 1 0 398.3 996.4A1.3 0.8 104 1 0 399 993.9ZM296.6 1029.2A0.5 0.4 90 1 0 296.6 1030.2A0.5 0.4 90 1 0 296.6 1029.2ZM387.9 972.3A0.5 0.5 24 1 0 388.8 972.7A0.5 0.5 24 1 0 387.9 972.3ZM413.6 1012.4A0.9 0.6 10 1 0 415.4 1012.8A0.9 0.6 10 1 0 413.6 1012.4ZM492.8 1028.6A0.8 0.5 168 1 0 491.3 1028.9A0.8 0.5 168 1 0 492.8 1028.6ZM467.2 1049.6A1 0.7 138 1 0 465.8 1050.9A1 0.7 138 1 0 467.2 1049.6ZM324.7 1055.5A1.8 1 75 1 0 325.7 1058.9A1.8 1 75 1 0 324.7 1055.5ZM440.2 1043.6A1.4 0.8 121 1 0 438.8 1046A1.4 0.8 121 1 0 440.2 1043.6ZM374.4 1019.4A1.2 0.8 167 1 0 372 1019.9A1.2 0.8 167 1 0 374.4 1019.4ZM281.6 995.5A1.1 0.7 134 1 0 280.1 997A1.1 0.7 134 1 0 281.6 995.5ZM434.5 1013.7A1.5 1 110 1 0 433.4 1016.5A1.5 1 110 1 0 434.5 1013.7ZM429.9 1071.4A0.9 0.9 50 1 0 431.1 1072.8A0.9 0.9 50 1 0 429.9 1071.4ZM392.8 1068.1A0.7 0.6 44 1 0 393.8 1069.1A0.7 0.6 44 1 0 392.8 1068.1ZM399.1 1025.7A0.7 0.7 24 1 0 400.4 1026.2A0.7 0.7 24 1 0 399.1 1025.7ZM302 1034.9A0.8 0.5 19 1 0 303.4 1035.5A0.8 0.5 19 1 0 302 1034.9ZM435.6 1080.5A1.8 0.9 10 1 0 439.1 1081.2A1.8 0.9 10 1 0 435.6 1080.5ZM380.2 1078A1.5 0.9 127 1 0 378.4 1080.4A1.5 0.9 127 1 0 380.2 1078ZM324 1047A1 0.9 121 1 0 323 1048.6A1 0.9 121 1 0 324 1047ZM325.8 1038.4A1.7 0.9 173 1 0 322.3 1038.8A1.7 0.9 173 1 0 325.8 1038.4ZM273.9 1046.7A0.6 0.5 155 1 0 272.8 1047.2A0.6 0.5 155 1 0 273.9 1046.7ZM318.6 995A0.8 0.6 1 1 0 320.3 995A0.8 0.6 1 1 0 318.6 995ZM408.7 1057A1.1 0.5 56 1 0 409.9 1058.8A1.1 0.5 56 1 0 408.7 1057ZM480.8 1086.2A1.2 0.7 170 1 0 478.5 1086.6A1.2 0.7 170 1 0 480.8 1086.2ZM428.8 1040.8A1 0.8 73 1 0 429.4 1042.8A1 0.8 73 1 0 428.8 1040.8ZM295.6 1052.4A0.7 0.5 71 1 0 296 1053.8A0.7 0.5 71 1 0 295.6 1052.4ZM368.4 1064.8A1.3 0.8 43 1 0 370.4 1066.6A1.3 0.8 43 1 0 368.4 1064.8ZM473.7 1062.9A1.3 0.9 1 1 0 476.4 1063A1.3 0.9 1 1 0 473.7 1062.9ZM443.9 991.1A0.9 0.5 129 1 0 442.7 992.6A0.9 0.5 129 1 0 443.9 991.1ZM472.3 1019.4A0.9 0.8 109 1 0 471.7 1021A0.9 0.8 109 1 0 472.3 1019.4ZM444.2 1018.1A1.2 0.8 106 1 0 443.5 1020.3A1.2 0.8 106 1 0 444.2 1018.1ZM432.2 999.3A1.6 0.9 34 1 0 434.9 1001.1A1.6 0.9 34 1 0 432.2 999.3ZM418.4 1081.8A0.7 0.7 3 1 0 419.9 1081.9A0.7 0.7 3 1 0 418.4 1081.8ZM393.8 1039.7A0.7 0.4 31 1 0 395 1040.4A0.7 0.4 31 1 0 393.8 1039.7ZM283.1 980.6A1.2 0.6 0 1 0 285.5 980.6A1.2 0.6 0 1 0 283.1 980.6Z"/>
<path fill="#5e3818" fill-opacity="0.9" d="M372.7 981.9A3 1.4 7 1 0 378.7 982.7A3 1.4 7 1 0 372.7 981.9ZM362.8 995.7A1.6 1.2 169 1 0 359.6 996.3A1.6 1.2 169 1 0 362.8 995.7ZM407.9 966.7A1.2 0.8 32 1 0 410 968A1.2 0.8 32 1 0 407.9 966.7ZM287.7 986.7A2.8 1.3 15 1 0 293.1 988.1A2.8 1.3 15 1 0 287.7 986.7ZM314.6 984.1A2.6 1.4 30 1 0 319.1 986.8A2.6 1.4 30 1 0 314.6 984.1ZM345.6 968.3A2.3 1.3 45 1 0 348.9 971.6A2.3 1.3 45 1 0 345.6 968.3ZM391 987.7A1.7 1.5 68 1 0 392.3 990.9A1.7 1.5 68 1 0 391 987.7ZM358.3 964.5A2.4 1.1 93 1 0 358 969.2A2.4 1.1 93 1 0 358.3 964.5ZM321.2 993.5A2.4 1.5 110 1 0 319.5 998A2.4 1.5 110 1 0 321.2 993.5ZM338.9 986.4A2.8 1.5 109 1 0 337.1 991.6A2.8 1.5 109 1 0 338.9 986.4ZM379.4 1007.9A2.5 1.1 102 1 0 378.3 1012.8A2.5 1.1 102 1 0 379.4 1007.9ZM334.8 995.2A2.8 1.3 63 1 0 337.4 1000.1A2.8 1.3 63 1 0 334.8 995.2ZM409.9 972A2.5 1.6 80 1 0 410.7 977A2.5 1.6 80 1 0 409.9 972ZM282.3 979.1A1.6 1.2 70 1 0 283.4 982.1A1.6 1.2 70 1 0 282.3 979.1ZM305.3 986.7A1.9 1.1 131 1 0 302.8 989.6A1.9 1.1 131 1 0 305.3 986.7ZM382.7 992.1A1.2 0.7 65 1 0 383.7 994.2A1.2 0.7 65 1 0 382.7 992.1ZM369.5 1012A1.7 0.7 15 1 0 372.7 1012.9A1.7 0.7 15 1 0 369.5 1012ZM419.4 971.4A1.5 1 169 1 0 416.5 971.9A1.5 1 169 1 0 419.4 971.4ZM395.5 985.4A0.8 0.7 51 1 0 396.5 986.7A0.8 0.7 51 1 0 395.5 985.4ZM384.8 983.2A2.9 1.3 110 1 0 382.7 988.7A2.9 1.3 110 1 0 384.8 983.2ZM441.9 967.2A2 1.3 154 1 0 438.3 968.9A2 1.3 154 1 0 441.9 967.2ZM451.2 970.3A3 1.4 143 1 0 446.4 973.8A3 1.4 143 1 0 451.2 970.3ZM438.1 971.4A2.1 1 52 1 0 440.6 974.7A2.1 1 52 1 0 438.1 971.4ZM450 967.3A1.4 1.2 91 1 0 450 970.1A1.4 1.2 91 1 0 450 967.3ZM432 967.9A2.5 1.3 90 1 0 432 972.9A2.5 1.3 90 1 0 432 967.9ZM383.7 989.9A1.6 1.1 52 1 0 385.6 992.4A1.6 1.1 52 1 0 383.7 989.9ZM381.1 983.7A1.9 0.8 100 1 0 380.4 987.4A1.9 0.8 100 1 0 381.1 983.7ZM391.7 976.4A2.4 1.3 87 1 0 391.9 981.2A2.4 1.3 87 1 0 391.7 976.4ZM386.1 979.5A2 1.1 14 1 0 390 980.5A2 1.1 14 1 0 386.1 979.5ZM385.8 1001.2A1.3 1.1 114 1 0 384.7 1003.5A1.3 1.1 114 1 0 385.8 1001.2ZM405.1 974.7A0.9 0.6 60 1 0 405.9 976.2A0.9 0.6 60 1 0 405.1 974.7ZM417.6 995.2A0.8 0.7 74 1 0 418 996.7A0.8 0.7 74 1 0 417.6 995.2ZM407.7 996.3A2.3 1.2 90 1 0 407.6 1000.9A2.3 1.2 90 1 0 407.7 996.3ZM408.8 986.5A1.7 0.8 155 1 0 405.7 987.9A1.7 0.8 155 1 0 408.8 986.5ZM421.5 976.7A0.8 0.7 164 1 0 419.8 977.1A0.8 0.7 164 1 0 421.5 976.7ZM418.1 977.5A1.8 1.3 80 1 0 418.7 981A1.8 1.3 80 1 0 418.1 977.5ZM398.3 982.5A2.8 1.3 163 1 0 392.9 984.1A2.8 1.3 163 1 0 398.3 982.5ZM418.2 985.2A2.4 1.1 36 1 0 422.1 988.1A2.4 1.1 36 1 0 418.2 985.2ZM412.6 976.4A1.3 0.8 135 1 0 410.7 978.3A1.3 0.8 135 1 0 412.6 976.4ZM422.2 981.2A2.4 1.4 112 1 0 420.4 985.7A2.4 1.4 112 1 0 422.2 981.2ZM491.1 1027.2A1.8 0.9 70 1 0 492.3 1030.6A1.8 0.9 70 1 0 491.1 1027.2ZM476.1 995.2A1.3 1.1 95 1 0 475.9 997.8A1.3 1.1 95 1 0 476.1 995.2ZM466.3 1005.3A3.4 1.7 1 1 0 473 1005.5A3.4 1.7 1 1 0 466.3 1005.3ZM470.5 1034.6A2.9 1.5 95 1 0 470 1040.4A2.9 1.5 95 1 0 470.5 1034.6ZM485.3 1041.8A1.9 1.3 31 1 0 488.6 1043.8A1.9 1.3 31 1 0 485.3 1041.8ZM485.7 1043.6A0.8 0.7 119 1 0 484.9 1044.9A0.8 0.7 119 1 0 485.7 1043.6ZM482.2 1053.9A2.1 1.3 13 1 0 486.3 1054.8A2.1 1.3 13 1 0 482.2 1053.9ZM469.1 984.9A1.3 1.3 121 1 0 467.8 987.1A1.3 1.3 121 1 0 469.1 984.9ZM468.9 1049.7A2.2 1.7 161 1 0 464.8 1051.1A2.2 1.7 161 1 0 468.9 1049.7ZM485.9 1055.6A2.7 1.4 52 1 0 489.3 1059.9A2.7 1.4 52 1 0 485.9 1055.6ZM481.7 1016.8A1 0.9 82 1 0 482 1018.9A1 0.9 82 1 0 481.7 1016.8ZM480 1051.7A1.7 1.4 155 1 0 476.9 1053.2A1.7 1.4 155 1 0 480 1051.7ZM472.9 985.8A1.5 1.4 45 1 0 475.1 988A1.5 1.4 45 1 0 472.9 985.8ZM460.7 989.5A2.4 1.1 103 1 0 459.6 994.1A2.4 1.1 103 1 0 460.7 989.5ZM468.3 1015A1 0.9 8 1 0 470.2 1015.3A1 0.9 8 1 0 468.3 1015ZM462.3 1028.1A2 0.9 20 1 0 466 1029.5A2 0.9 20 1 0 462.3 1028.1ZM458.8 982.9A1.6 1.2 21 1 0 461.9 984.1A1.6 1.2 21 1 0 458.8 982.9ZM477.9 1029.6A2.3 1.4 62 1 0 480 1033.7A2.3 1.4 62 1 0 477.9 1029.6ZM473.4 998.7A1.7 1 32 1 0 476.3 1000.5A1.7 1 32 1 0 473.4 998.7ZM487.1 1057.2A2.1 1.1 65 1 0 488.8 1061A2.1 1.1 65 1 0 487.1 1057.2ZM473.3 1059.9A1.3 1.1 100 1 0 472.8 1062.4A1.3 1.1 100 1 0 473.3 1059.9ZM474 1064A2.5 1.4 13 1 0 478.9 1065.1A2.5 1.4 13 1 0 474 1064ZM459.2 988.4A2.2 1.6 116 1 0 457.3 992.3A2.2 1.6 116 1 0 459.2 988.4ZM480.8 1055.3A1.5 0.8 76 1 0 481.5 1058.3A1.5 0.8 76 1 0 480.8 1055.3ZM380.1 1049.2A2.5 1.5 169 1 0 375.2 1050.2A2.5 1.5 169 1 0 380.1 1049.2ZM381.4 1053.6A3.6 1.6 124 1 0 377.4 1059.4A3.6 1.6 124 1 0 381.4 1053.6ZM382.7 1035.2A2.5 1.3 99 1 0 381.8 1040.2A2.5 1.3 99 1 0 382.7 1035.2ZM380.6 1033.8A2.8 1.5 118 1 0 377.9 1038.6A2.8 1.5 118 1 0 380.6 1033.8ZM362.6 1019.2A2 1.1 139 1 0 359.6 1021.8A2 1.1 139 1 0 362.6 1019.2ZM365.5 1050.6A1.7 1.3 24 1 0 368.6 1052A1.7 1.3 24 1 0 365.5 1050.6ZM373.6 1039A2.1 1.2 46 1 0 376.4 1042A2.1 1.2 46 1 0 373.6 1039ZM387.7 1028.1A2 0.9 105 1 0 386.7 1032A2 0.9 105 1 0 387.7 1028.1ZM394.1 1054A1.4 1.1 95 1 0 393.9 1056.7A1.4 1.1 95 1 0 394.1 1054ZM396.3 1027A1.7 1.3 166 1 0 392.9 1027.8A1.7 1.3 166 1 0 396.3 1027ZM390.9 1026.3A1.9 1.3 175 1 0 387 1026.6A1.9 1.3 175 1 0 390.9 1026.3ZM398.6 1047.7A1 0.7 74 1 0 399.2 1049.6A1 0.7 74 1 0 398.6 1047.7ZM389.2 1085.4A1.2 0.9 107 1 0 388.4 1087.8A1.2 0.9 107 1 0 389.2 1085.4ZM388.7 1076.8A1.4 1.2 179 1 0 385.9 1076.8A1.4 1.2 179 1 0 388.7 1076.8ZM383.5 1082.4A1.3 0.7 76 1 0 384.1 1084.9A1.3 0.7 76 1 0 383.5 1082.4ZM414.6 1031.1A1.5 0.8 81 1 0 415.1 1034.1A1.5 0.8 81 1 0 414.6 1031.1ZM409.3 1033.1A1.4 0.8 166 1 0 406.6 1033.8A1.4 0.8 166 1 0 409.3 1033.1ZM422.6 1079.5A1 0.9 70 1 0 423.3 1081.4A1 0.9 70 1 0 422.6 1079.5ZM429.8 1078.6A3.1 1.5 92 1 0 429.5 1084.8A3.1 1.5 92 1 0 429.8 1078.6ZM442.8 1072.5A2 1.4 157 1 0 439.1 1074.1A2 1.4 157 1 0 442.8 1072.5ZM417 1077A2.6 1.2 53 1 0 420.1 1081.1A2.6 1.2 53 1 0 417 1077ZM403.9 1070.5A3.3 1.5 9 1 0 410.4 1071.6A3.3 1.5 9 1 0 403.9 1070.5ZM429.3 1061.3A1.1 1.1 145 1 0 427.5 1062.6A1.1 1.1 145 1 0 429.3 1061.3ZM453.1 1067.7A1.9 1.1 77 1 0 453.9 1071.4A1.9 1.1 77 1 0 453.1 1067.7ZM445.1 1055.9A2.9 1.4 10 1 0 450.8 1057A2.9 1.4 10 1 0 445.1 1055.9ZM447.7 1075.5A2.6 1.3 149 1 0 443.2 1078.2A2.6 1.3 149 1 0 447.7 1075.5ZM451.7 1064A1.3 1.2 114 1 0 450.6 1066.3A1.3 1.2 114 1 0 451.7 1064ZM447.8 1064.2A2.7 1.2 31 1 0 452.4 1067.1A2.7 1.2 31 1 0 447.8 1064.2ZM451.9 1062.8A1.3 0.8 52 1 0 453.5 1064.9A1.3 0.8 52 1 0 451.9 1062.8ZM447.5 1066.7A2.3 1.1 8 1 0 452.1 1067.5A2.3 1.1 8 1 0 447.5 1066.7ZM448.7 1051.3A3 1.3 102 1 0 447.4 1057.1A3 1.3 102 1 0 448.7 1051.3ZM448.7 1081.1A1.8 1 34 1 0 451.7 1083.1A1.8 1 34 1 0 448.7 1081.1ZM463.3 1056.4A2.1 1.4 100 1 0 462.5 1060.6A2.1 1.4 100 1 0 463.3 1056.4ZM467 1047.7A2.3 1.2 105 1 0 465.7 1052.2A2.3 1.2 105 1 0 467 1047.7ZM456.5 1061.6A2.8 1.5 12 1 0 461.9 1062.8A2.8 1.5 12 1 0 456.5 1061.6ZM463.1 1052.4A1.5 0.9 161 1 0 460.3 1053.3A1.5 0.9 161 1 0 463.1 1052.4ZM459.2 1054.3A1.9 1.2 148 1 0 455.9 1056.3A1.9 1.2 148 1 0 459.2 1054.3ZM454.6 1051.8A2.2 1.3 32 1 0 458.4 1054.2A2.2 1.3 32 1 0 454.6 1051.8ZM343.1 1044.6A1.8 1.5 99 1 0 342.5 1048.3A1.8 1.5 99 1 0 343.1 1044.6ZM350.2 1042.2A2.6 1.2 163 1 0 345.3 1043.7A2.6 1.2 163 1 0 350.2 1042.2ZM334.6 1049.7A1.3 0.9 42 1 0 336.4 1051.4A1.3 0.9 42 1 0 334.6 1049.7ZM375.5 1079.8A1.9 1.3 138 1 0 372.6 1082.4A1.9 1.3 138 1 0 375.5 1079.8ZM361.7 1084A0.9 0.8 151 1 0 360.2 1084.8A0.9 0.8 151 1 0 361.7 1084ZM352 1077.1A1.7 1 8 1 0 355.4 1077.6A1.7 1 8 1 0 352 1077.1ZM275.3 1075.5A1 0.7 96 1 0 275 1077.5A1 0.7 96 1 0 275.3 1075.5ZM283.3 1065.7A2.1 0.9 105 1 0 282.2 1069.7A2.1 0.9 105 1 0 283.3 1065.7ZM328.5 1029.5A1.6 1 26 1 0 331.4 1031A1.6 1 26 1 0 328.5 1029.5ZM343.4 1037.6A1.3 1 67 1 0 344.4 1040A1.3 1 67 1 0 343.4 1037.6ZM307.2 1025.9A1.6 1.2 96 1 0 306.8 1029A1.6 1.2 96 1 0 307.2 1025.9ZM487 1074.8A2.2 1.2 79 1 0 487.8 1079.1A2.2 1.2 79 1 0 487 1074.8ZM422.9 1002.7A1.2 0.9 118 1 0 421.8 1004.8A1.2 0.9 118 1 0 422.9 1002.7ZM416.1 1008.4A0.9 0.7 143 1 0 414.7 1009.5A0.9 0.7 143 1 0 416.1 1008.4ZM433 1013.2A2.3 1.1 29 1 0 437 1015.5A2.3 1.1 29 1 0 433 1013.2ZM436.5 1011.1A2.8 1.3 73 1 0 438 1016.5A2.8 1.3 73 1 0 436.5 1011.1ZM407.8 1019.1A1.1 0.8 64 1 0 408.8 1021.2A1.1 0.8 64 1 0 407.8 1019.1ZM308.4 1049A1.8 0.9 139 1 0 305.7 1051.3A1.8 0.9 139 1 0 308.4 1049ZM319.4 1068.3A1.3 1.1 92 1 0 319.3 1071A1.3 1.1 92 1 0 319.4 1068.3ZM318 1075.7A1.4 0.8 9 1 0 320.8 1076.2A1.4 0.8 9 1 0 318 1075.7ZM288.6 1041.7A2.1 1.2 147 1 0 285.1 1044A2.1 1.2 147 1 0 288.6 1041.7ZM277.3 1035.2A1 0.7 75 1 0 277.8 1037.2A1 0.7 75 1 0 277.3 1035.2ZM283.3 1040A1.2 0.6 91 1 0 283.2 1042.4A1.2 0.6 91 1 0 283.3 1040ZM278.7 1036.3A0.9 0.7 106 1 0 278.2 1038A0.9 0.7 106 1 0 278.7 1036.3Z"/>
<path fill="#8e6136" fill-opacity="0.8" d="M401.4 975A0.7 0.5 44 1 0 402.4 976A0.7 0.5 44 1 0 401.4 975ZM427.4 1032A1.2 0.7 3 1 0 429.7 1032.2A1.2 0.7 3 1 0 427.4 1032ZM326 1087.7A0.6 0.6 11 1 0 327.2 1087.9A0.6 0.6 11 1 0 326 1087.7ZM447.7 1039.2A0.9 0.6 70 1 0 448.3 1040.9A0.9 0.6 70 1 0 447.7 1039.2ZM431.3 978.2A0.5 0.5 20 1 0 432.3 978.6A0.5 0.5 20 1 0 431.3 978.2ZM291.8 971.7A0.9 0.5 63 1 0 292.7 973.3A0.9 0.5 63 1 0 291.8 971.7ZM376.1 977.1A1.5 1 30 1 0 378.7 978.7A1.5 1 30 1 0 376.1 977.1ZM487.4 976.5A0.6 0.4 28 1 0 488.4 977.1A0.6 0.4 28 1 0 487.4 976.5ZM373.8 1051.3A1.1 0.8 126 1 0 372.4 1053.1A1.1 0.8 126 1 0 373.8 1051.3ZM421.5 1068.2A1 0.5 58 1 0 422.5 1069.9A1 0.5 58 1 0 421.5 1068.2ZM462.4 1039.7A1.5 0.8 15 1 0 465.2 1040.5A1.5 0.8 15 1 0 462.4 1039.7ZM387.4 1018.6A0.8 0.6 135 1 0 386.2 1019.7A0.8 0.6 135 1 0 387.4 1018.6ZM444.1 967.4A1.7 0.9 160 1 0 440.9 968.6A1.7 0.9 160 1 0 444.1 967.4ZM443.4 993.8A0.6 0.5 119 1 0 442.7 994.9A0.6 0.5 119 1 0 443.4 993.8ZM434.9 1044.6A1 0.7 177 1 0 433 1044.7A1 0.7 177 1 0 434.9 1044.6ZM388.6 1040.1A1.1 0.7 25 1 0 390.7 1041.1A1.1 0.7 25 1 0 388.6 1040.1ZM394.2 1019.2A0.8 0.5 84 1 0 394.3 1020.8A0.8 0.5 84 1 0 394.2 1019.2ZM293.4 1045.4A0.8 0.8 173 1 0 291.7 1045.6A0.8 0.8 173 1 0 293.4 1045.4Z"/>
<path fill="#9c7046" fill-opacity="0.75" d="M413.9 1034.6A1.2 0.7 16 1 0 416.3 1035.3A1.2 0.7 16 1 0 413.9 1034.6ZM335.2 985.5A1 0.5 97 1 0 334.9 987.5A1 0.5 97 1 0 335.2 985.5ZM453.8 1027.2A0.7 0.7 101 1 0 453.5 1028.7A0.7 0.7 101 1 0 453.8 1027.2ZM305.1 1032.2A1 0.9 6 1 0 307.2 1032.5A1 0.9 6 1 0 305.1 1032.2ZM413.9 979.6A0.9 0.5 141 1 0 412.5 980.7A0.9 0.5 141 1 0 413.9 979.6ZM471.3 1033.9A0.8 0.5 107 1 0 470.8 1035.4A0.8 0.5 107 1 0 471.3 1033.9ZM367 1082.6A0.8 0.6 44 1 0 368.1 1083.7A0.8 0.6 44 1 0 367 1082.6ZM366 1054.9A1.6 0.9 122 1 0 364.3 1057.6A1.6 0.9 122 1 0 366 1054.9ZM341.9 1033.8A1.6 1 54 1 0 343.8 1036.5A1.6 1 54 1 0 341.9 1033.8ZM371.2 1036.9A0.7 0.5 117 1 0 370.6 1038A0.7 0.5 117 1 0 371.2 1036.9ZM443.2 1046.4A0.9 0.8 109 1 0 442.5 1048.1A0.9 0.8 109 1 0 443.2 1046.4ZM303.7 1027.3A1.3 0.8 72 1 0 304.5 1029.8A1.3 0.8 72 1 0 303.7 1027.3ZM424.8 966.7A1.3 0.9 117 1 0 423.5 969A1.3 0.9 117 1 0 424.8 966.7ZM467.4 1012.5A1.3 0.7 45 1 0 469.2 1014.4A1.3 0.7 45 1 0 467.4 1012.5ZM355.4 1082.6A0.8 0.4 175 1 0 353.9 1082.7A0.8 0.4 175 1 0 355.4 1082.6ZM390.1 1040.4A1.1 0.8 14 1 0 392.3 1040.9A1.1 0.8 14 1 0 390.1 1040.4ZM333.4 1056.2A0.7 0.5 106 1 0 333 1057.5A0.7 0.5 106 1 0 333.4 1056.2ZM422 994.6A1.5 0.9 178 1 0 419 994.6A1.5 0.9 178 1 0 422 994.6ZM441.7 1036.4A1.2 0.8 79 1 0 442.1 1038.7A1.2 0.8 79 1 0 441.7 1036.4ZM454.1 972.5A1.6 0.8 82 1 0 454.5 975.6A1.6 0.8 82 1 0 454.1 972.5ZM407.8 1063.1A0.9 0.8 94 1 0 407.7 1065A0.9 0.8 94 1 0 407.8 1063.1ZM322 1064.8A0.8 0.7 87 1 0 322.1 1066.3A0.8 0.7 87 1 0 322 1064.8ZM338 1056.2A1.2 0.7 103 1 0 337.5 1058.4A1.2 0.7 103 1 0 338 1056.2ZM490.2 984.5A0.9 0.9 63 1 0 491 986.1A0.9 0.9 63 1 0 490.2 984.5ZM335.5 1006.8A1.1 0.9 40 1 0 337.3 1008.3A1.1 0.9 40 1 0 335.5 1006.8ZM491.3 1026.2A0.8 0.5 74 1 0 491.7 1027.8A0.8 0.5 74 1 0 491.3 1026.2ZM282.8 1010.1A0.8 0.6 31 1 0 284.1 1010.9A0.8 0.6 31 1 0 282.8 1010.1ZM436.1 1051.7A0.8 0.5 8 1 0 437.7 1051.9A0.8 0.5 8 1 0 436.1 1051.7ZM451.7 1007.4A0.8 0.4 68 1 0 452.3 1008.9A0.8 0.4 68 1 0 451.7 1007.4ZM310.6 1036.9A0.6 0.5 146 1 0 309.6 1037.6A0.6 0.5 146 1 0 310.6 1036.9ZM441.3 1065.1A1.2 0.7 133 1 0 439.7 1066.8A1.2 0.7 133 1 0 441.3 1065.1ZM480 992.2A1.2 0.9 36 1 0 481.9 993.6A1.2 0.9 36 1 0 480 992.2ZM333.8 975.3A1.6 1 125 1 0 331.9 977.9A1.6 1 125 1 0 333.8 975.3ZM291.8 1023A1.2 1 21 1 0 293.9 1023.9A1.2 1 21 1 0 291.8 1023ZM346.4 967.7A1.5 0.8 55 1 0 348.1 970.2A1.5 0.8 55 1 0 346.4 967.7ZM312 1034A0.9 0.6 156 1 0 310.3 1034.7A0.9 0.6 156 1 0 312 1034ZM351.3 988.7A1.6 0.8 42 1 0 353.7 990.9A1.6 0.8 42 1 0 351.3 988.7Z"/>
<rect x="272.5" y="1085" width="25.2" height="2.4" fill="#2e2e2e"/>
</g>
<rect x="270.5" y="963.4" width="223.9" height="126.7" fill="none" stroke="#333" stroke-width="1.1"/>
<rect x="126.7" y="881.2" width="55.9" height="31.1" fill="none" stroke="#111" stroke-width="1.1"/>
<rect x="354.5" y="879.9" width="55.9" height="31.5" fill="none" stroke="#111" stroke-width="1.1"/>
<path d="M126.7 912.3 L43 963.6 M182.6 912.3 L266 963.6" stroke="#111" stroke-width="1"/>
<path d="M354.5 911.4 L270.5 963.4 M410.4 911.4 L494.4 963.4" stroke="#111" stroke-width="1"/>
<text transform="translate(0.9 12.8) scale(0.9 1)" font-size="15.8" font-weight="bold">A</text>
<text transform="translate(441.4 11.8) scale(0.9 1)" font-size="15.8" font-weight="bold">B</text>
<text transform="translate(1.0 569.3) scale(0.9 1)" font-size="15.8" font-weight="bold">C</text>
<text transform="translate(1.6 810.2) scale(0.9 1)" font-size="15.8" font-weight="bold">D</text>
<text transform="translate(516.4 810.2) scale(0.9 1)" font-size="15.8" font-weight="bold">E</text>
</svg></body></html>
